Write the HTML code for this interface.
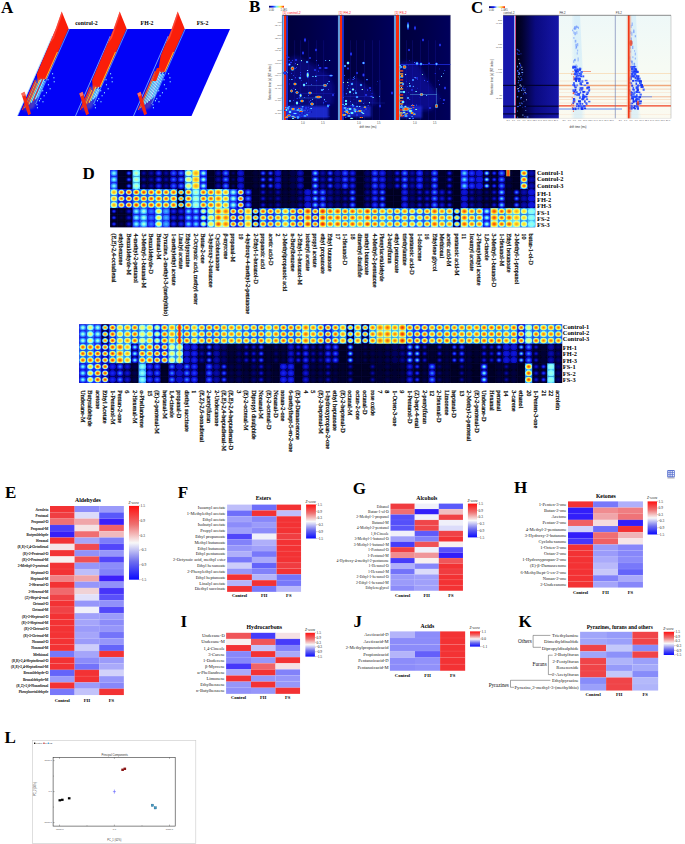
<!DOCTYPE html><html><head><meta charset="utf-8"><title>Figure</title><style>html,body{margin:0;padding:0;background:#fff;}body{width:685px;height:844px;overflow:hidden;}svg{display:block;}</style></head><body><svg width="685" height="844" viewBox="0 0 685 844"><defs><linearGradient id="zbar" x1="0" y1="0" x2="0" y2="1"><stop offset="0" stop-color="#ff1010"/><stop offset="0.25" stop-color="#ee7070"/><stop offset="0.5" stop-color="#f8f8f8"/><stop offset="0.75" stop-color="#7070ee"/><stop offset="1" stop-color="#0a0aff"/></linearGradient><linearGradient id="astreak" x1="0" y1="0" x2="1" y2="0"><stop offset="0" stop-color="#ff4010"/><stop offset="0.4" stop-color="#ffc830"/><stop offset="0.75" stop-color="#50d8ff"/><stop offset="1" stop-color="#3060ff"/></linearGradient><linearGradient id="cbj" x1="0" y1="0" x2="1" y2="0"><stop offset="0" stop-color="#000060"/><stop offset="0.25" stop-color="#1020ff"/><stop offset="0.5" stop-color="#70f0ff"/><stop offset="0.75" stop-color="#ffff40"/><stop offset="1" stop-color="#ff2000"/></linearGradient><linearGradient id="cbc" x1="0" y1="0" x2="1" y2="0"><stop offset="0" stop-color="#000060"/><stop offset="0.3" stop-color="#1020ff"/><stop offset="0.5" stop-color="#d0f8ff"/><stop offset="0.75" stop-color="#ffe060"/><stop offset="1" stop-color="#ff2000"/></linearGradient><radialGradient id="sr"><stop offset="0" stop-color="#ff1000"/><stop offset="0.4" stop-color="#ff9020"/><stop offset="0.75" stop-color="#40c0ff" stop-opacity="0.7"/><stop offset="1" stop-color="#40c0ff" stop-opacity="0"/></radialGradient><radialGradient id="sy"><stop offset="0" stop-color="#ffff60"/><stop offset="0.4" stop-color="#60f0ff"/><stop offset="0.75" stop-color="#2040ff" stop-opacity="0.7"/><stop offset="1" stop-color="#2040ff" stop-opacity="0"/></radialGradient><radialGradient id="sc"><stop offset="0" stop-color="#a0ffff"/><stop offset="0.4" stop-color="#40a0ff"/><stop offset="0.75" stop-color="#1020ff" stop-opacity="0.7"/><stop offset="1" stop-color="#1020ff" stop-opacity="0"/></radialGradient><radialGradient id="sb"><stop offset="0" stop-color="#4060ff"/><stop offset="0.4" stop-color="#2030e0"/><stop offset="0.75" stop-color="#0808a0" stop-opacity="0.7"/><stop offset="1" stop-color="#0808a0" stop-opacity="0"/></radialGradient><linearGradient id="bbg" x1="0" y1="0" x2="1" y2="0"><stop offset="0" stop-color="#00003a"/><stop offset="0.5" stop-color="#000048"/><stop offset="1" stop-color="#00005c"/></linearGradient><filter id="bl2" x="-20%" y="-20%" width="140%" height="140%"><feGaussianBlur stdDeviation="2.2"/></filter><filter id="bl1" x="-20%" y="-20%" width="140%" height="140%"><feGaussianBlur stdDeviation="0.9"/></filter><linearGradient id="c1bg" x1="0" y1="0" x2="1" y2="0"><stop offset="0" stop-color="#000012"/><stop offset="0.15" stop-color="#020230"/><stop offset="0.45" stop-color="#0a0a80"/><stop offset="1" stop-color="#1616a8"/></linearGradient><linearGradient id="c2bg" x1="0" y1="0" x2="0" y2="1"><stop offset="0" stop-color="#eef8f8"/><stop offset="0.5" stop-color="#f6fbf4"/><stop offset="1" stop-color="#fbfaf0"/></linearGradient><linearGradient id="cband" x1="0" y1="0" x2="1" y2="0"><stop offset="0" stop-color="#d8f0fa" stop-opacity="0"/><stop offset="0.3" stop-color="#c8e8fa"/><stop offset="0.7" stop-color="#c8e8fa"/><stop offset="1" stop-color="#d8f0fa" stop-opacity="0"/></linearGradient><radialGradient id="g0" cx="0.5" cy="0.5" r="0.5"><stop offset="0" stop-color="#92fff2"/><stop offset="0.3" stop-color="#64e6ff"/><stop offset="0.6" stop-color="#3499ff"/><stop offset="0.85" stop-color="#2567ff"/><stop offset="1.0" stop-color="#1a2cf9"/></radialGradient><radialGradient id="g1" cx="0.5" cy="0.5" r="0.5"><stop offset="0" stop-color="#ffa113"/><stop offset="0.34" stop-color="#ffd227"/><stop offset="0.64" stop-color="#ecfc78"/><stop offset="0.86" stop-color="#77f4ff"/><stop offset="1.0" stop-color="#379fff"/></radialGradient><radialGradient id="g2" cx="0.5" cy="0.5" r="0.5"><stop offset="0" stop-color="#1e3fff"/><stop offset="0.3" stop-color="#0e16dc"/><stop offset="0.6" stop-color="#000053"/><stop offset="0.85" stop-color="#000025"/><stop offset="1.0" stop-color="#00001c"/></radialGradient><radialGradient id="g3" cx="0.5" cy="0.5" r="0.5"><stop offset="0" stop-color="#000031"/><stop offset="0.3" stop-color="#00002d"/><stop offset="0.6" stop-color="#000028"/><stop offset="0.85" stop-color="#000025"/><stop offset="1.0" stop-color="#00001c"/></radialGradient><radialGradient id="g4" cx="0.5" cy="0.5" r="0.5"><stop offset="0" stop-color="#fb4501"/><stop offset="0.34" stop-color="#ffaa16"/><stop offset="0.64" stop-color="#ccffaf"/><stop offset="0.86" stop-color="#2567ff"/><stop offset="1.0" stop-color="#111be2"/></radialGradient><radialGradient id="g5" cx="0.5" cy="0.5" r="0.5"><stop offset="0" stop-color="#000051"/><stop offset="0.3" stop-color="#00003f"/><stop offset="0.6" stop-color="#00002d"/><stop offset="0.85" stop-color="#000025"/><stop offset="1.0" stop-color="#00001c"/></radialGradient><radialGradient id="g6" cx="0.5" cy="0.5" r="0.5"><stop offset="0" stop-color="#287aff"/><stop offset="0.3" stop-color="#1829f6"/><stop offset="0.6" stop-color="#010276"/><stop offset="0.85" stop-color="#000032"/><stop offset="1.0" stop-color="#00001c"/></radialGradient><radialGradient id="g7" cx="0.5" cy="0.5" r="0.5"><stop offset="0" stop-color="#f02500"/><stop offset="0.34" stop-color="#ff870a"/><stop offset="0.64" stop-color="#e2ff94"/><stop offset="0.86" stop-color="#2567ff"/><stop offset="1.0" stop-color="#111be2"/></radialGradient><radialGradient id="g8" cx="0.5" cy="0.5" r="0.5"><stop offset="0" stop-color="#0f17de"/><stop offset="0.3" stop-color="#090dba"/><stop offset="0.6" stop-color="#010274"/><stop offset="0.85" stop-color="#000055"/><stop offset="1.0" stop-color="#000027"/></radialGradient><radialGradient id="g9" cx="0.5" cy="0.5" r="0.5"><stop offset="0" stop-color="#d6ffa3"/><stop offset="0.3" stop-color="#b7ffc7"/><stop offset="0.6" stop-color="#8afffc"/><stop offset="0.85" stop-color="#77f4ff"/><stop offset="1.0" stop-color="#4bccff"/></radialGradient><radialGradient id="g10" cx="0.5" cy="0.5" r="0.5"><stop offset="0" stop-color="#f02500"/><stop offset="0.34" stop-color="#fe7407"/><stop offset="0.64" stop-color="#fbf951"/><stop offset="0.86" stop-color="#50d7ff"/><stop offset="1.0" stop-color="#2567ff"/></radialGradient><radialGradient id="g11" cx="0.5" cy="0.5" r="0.5"><stop offset="0" stop-color="#080cb3"/><stop offset="0.3" stop-color="#04068e"/><stop offset="0.6" stop-color="#00005b"/><stop offset="0.85" stop-color="#000045"/><stop offset="1.0" stop-color="#00001e"/></radialGradient><radialGradient id="g12" cx="0.5" cy="0.5" r="0.5"><stop offset="0" stop-color="#f53000"/><stop offset="0.34" stop-color="#ff830a"/><stop offset="0.64" stop-color="#f7fa5b"/><stop offset="0.86" stop-color="#50d7ff"/><stop offset="1.0" stop-color="#2567ff"/></radialGradient><radialGradient id="g13" cx="0.5" cy="0.5" r="0.5"><stop offset="0" stop-color="#caffb0"/><stop offset="0.3" stop-color="#8efff7"/><stop offset="0.6" stop-color="#4ed1ff"/><stop offset="0.85" stop-color="#379fff"/><stop offset="1.0" stop-color="#235cff"/></radialGradient><radialGradient id="g14" cx="0.5" cy="0.5" r="0.5"><stop offset="0" stop-color="#080cb5"/><stop offset="0.3" stop-color="#050796"/><stop offset="0.6" stop-color="#000068"/><stop offset="0.85" stop-color="#000055"/><stop offset="1.0" stop-color="#000027"/></radialGradient><radialGradient id="g15" cx="0.5" cy="0.5" r="0.5"><stop offset="0" stop-color="#2a83ff"/><stop offset="0.3" stop-color="#256aff"/><stop offset="0.6" stop-color="#1f45ff"/><stop offset="0.85" stop-color="#1c30ff"/><stop offset="1.0" stop-color="#0e16dd"/></radialGradient><radialGradient id="g16" cx="0.5" cy="0.5" r="0.5"><stop offset="0" stop-color="#1f46ff"/><stop offset="0.3" stop-color="#1625f1"/><stop offset="0.6" stop-color="#090db8"/><stop offset="0.85" stop-color="#030484"/><stop offset="1.0" stop-color="#000041"/></radialGradient><radialGradient id="g17" cx="0.5" cy="0.5" r="0.5"><stop offset="0" stop-color="#fb4501"/><stop offset="0.34" stop-color="#ff900d"/><stop offset="0.64" stop-color="#fef848"/><stop offset="0.86" stop-color="#77f4ff"/><stop offset="1.0" stop-color="#379fff"/></radialGradient><radialGradient id="g18" cx="0.5" cy="0.5" r="0.5"><stop offset="0" stop-color="#ffe839"/><stop offset="0.34" stop-color="#f6fa5d"/><stop offset="0.64" stop-color="#aeffd1"/><stop offset="0.86" stop-color="#50d7ff"/><stop offset="1.0" stop-color="#2567ff"/></radialGradient><radialGradient id="g19" cx="0.5" cy="0.5" r="0.5"><stop offset="0" stop-color="#fb4501"/><stop offset="0.34" stop-color="#ff9810"/><stop offset="0.64" stop-color="#f2fb69"/><stop offset="0.86" stop-color="#50d7ff"/><stop offset="1.0" stop-color="#2567ff"/></radialGradient><radialGradient id="g20" cx="0.5" cy="0.5" r="0.5"><stop offset="0" stop-color="#44bbff"/><stop offset="0.3" stop-color="#38a2ff"/><stop offset="0.6" stop-color="#287cff"/><stop offset="0.85" stop-color="#2567ff"/><stop offset="1.0" stop-color="#1a2cf9"/></radialGradient><radialGradient id="g21" cx="0.5" cy="0.5" r="0.5"><stop offset="0" stop-color="#2672ff"/><stop offset="0.3" stop-color="#1f41ff"/><stop offset="0.6" stop-color="#101ae1"/><stop offset="0.85" stop-color="#090ebc"/><stop offset="1.0" stop-color="#000069"/></radialGradient><radialGradient id="g22" cx="0.5" cy="0.5" r="0.5"><stop offset="0" stop-color="#fb4501"/><stop offset="0.34" stop-color="#ff950f"/><stop offset="0.64" stop-color="#f7fa5c"/><stop offset="0.86" stop-color="#60e2ff"/><stop offset="1.0" stop-color="#287dff"/></radialGradient><radialGradient id="g23" cx="0.5" cy="0.5" r="0.5"><stop offset="0" stop-color="#1829f5"/><stop offset="0.3" stop-color="#101ae2"/><stop offset="0.6" stop-color="#070bab"/><stop offset="0.85" stop-color="#030484"/><stop offset="1.0" stop-color="#000041"/></radialGradient><radialGradient id="g24" cx="0.5" cy="0.5" r="0.5"><stop offset="0" stop-color="#369cff"/><stop offset="0.3" stop-color="#235dff"/><stop offset="0.6" stop-color="#121ee6"/><stop offset="0.85" stop-color="#090ebc"/><stop offset="1.0" stop-color="#000069"/></radialGradient><radialGradient id="g25" cx="0.5" cy="0.5" r="0.5"><stop offset="0" stop-color="#fc5804"/><stop offset="0.34" stop-color="#ffd82c"/><stop offset="0.64" stop-color="#4ed1ff"/><stop offset="0.86" stop-color="#000055"/><stop offset="1.0" stop-color="#00001c"/></radialGradient><radialGradient id="g26" cx="0.5" cy="0.5" r="0.5"><stop offset="0" stop-color="#f6fa5d"/><stop offset="0.34" stop-color="#eafd7f"/><stop offset="0.64" stop-color="#b7ffc7"/><stop offset="0.86" stop-color="#77f4ff"/><stop offset="1.0" stop-color="#379fff"/></radialGradient><radialGradient id="g27" cx="0.5" cy="0.5" r="0.5"><stop offset="0" stop-color="#68e8ff"/><stop offset="0.3" stop-color="#44bcff"/><stop offset="0.6" stop-color="#2462ff"/><stop offset="0.85" stop-color="#1c30ff"/><stop offset="1.0" stop-color="#0e16dd"/></radialGradient><radialGradient id="g28" cx="0.5" cy="0.5" r="0.5"><stop offset="0" stop-color="#ffa113"/><stop offset="0.34" stop-color="#ffbc1d"/><stop offset="0.64" stop-color="#ffe133"/><stop offset="0.86" stop-color="#f6fa5d"/><stop offset="1.0" stop-color="#a9ffd8"/></radialGradient><radialGradient id="g29" cx="0.5" cy="0.5" r="0.5"><stop offset="0" stop-color="#bfffbd"/><stop offset="0.3" stop-color="#6fedff"/><stop offset="0.6" stop-color="#287aff"/><stop offset="0.85" stop-color="#1c30ff"/><stop offset="1.0" stop-color="#0e16dd"/></radialGradient><radialGradient id="g30" cx="0.5" cy="0.5" r="0.5"><stop offset="0" stop-color="#f6fa5d"/><stop offset="0.34" stop-color="#caffb0"/><stop offset="0.64" stop-color="#4ed4ff"/><stop offset="0.86" stop-color="#1c30ff"/><stop offset="1.0" stop-color="#080bae"/></radialGradient><radialGradient id="g31" cx="0.5" cy="0.5" r="0.5"><stop offset="0" stop-color="#ffe839"/><stop offset="0.34" stop-color="#fbf951"/><stop offset="0.64" stop-color="#cfffab"/><stop offset="0.86" stop-color="#77f4ff"/><stop offset="1.0" stop-color="#379fff"/></radialGradient><radialGradient id="g32" cx="0.5" cy="0.5" r="0.5"><stop offset="0" stop-color="#080db6"/><stop offset="0.3" stop-color="#06099d"/><stop offset="0.6" stop-color="#020278"/><stop offset="0.85" stop-color="#000065"/><stop offset="1.0" stop-color="#00002f"/></radialGradient><radialGradient id="g33" cx="0.5" cy="0.5" r="0.5"><stop offset="0" stop-color="#fe7407"/><stop offset="0.34" stop-color="#ffa113"/><stop offset="0.64" stop-color="#ffe537"/><stop offset="0.86" stop-color="#e1ff96"/><stop offset="1.0" stop-color="#77f4ff"/></radialGradient><radialGradient id="g34" cx="0.5" cy="0.5" r="0.5"><stop offset="0" stop-color="#fb4501"/><stop offset="0.34" stop-color="#fe7408"/><stop offset="0.64" stop-color="#ffc921"/><stop offset="0.86" stop-color="#f6fa5d"/><stop offset="1.0" stop-color="#a9ffd8"/></radialGradient><radialGradient id="g35" cx="0.5" cy="0.5" r="0.5"><stop offset="0" stop-color="#fe7407"/><stop offset="0.34" stop-color="#ff9810"/><stop offset="0.64" stop-color="#ffd62a"/><stop offset="0.86" stop-color="#f6fa5d"/><stop offset="1.0" stop-color="#a9ffd8"/></radialGradient><radialGradient id="g36" cx="0.5" cy="0.5" r="0.5"><stop offset="0" stop-color="#02037c"/><stop offset="0.3" stop-color="#00005c"/><stop offset="0.6" stop-color="#000035"/><stop offset="0.85" stop-color="#000029"/><stop offset="1.0" stop-color="#00001c"/></radialGradient><radialGradient id="g37" cx="0.5" cy="0.5" r="0.5"><stop offset="0" stop-color="#c5ffb7"/><stop offset="0.3" stop-color="#7df8ff"/><stop offset="0.6" stop-color="#3aa6ff"/><stop offset="0.85" stop-color="#2567ff"/><stop offset="1.0" stop-color="#1a2cf9"/></radialGradient><radialGradient id="g38" cx="0.5" cy="0.5" r="0.5"><stop offset="0" stop-color="#1019e0"/><stop offset="0.3" stop-color="#0c12d7"/><stop offset="0.6" stop-color="#090db8"/><stop offset="0.85" stop-color="#070aa6"/><stop offset="1.0" stop-color="#000059"/></radialGradient><radialGradient id="g39" cx="0.5" cy="0.5" r="0.5"><stop offset="0" stop-color="#fb4501"/><stop offset="0.34" stop-color="#ffb31a"/><stop offset="0.64" stop-color="#abffd5"/><stop offset="0.86" stop-color="#1c30ff"/><stop offset="1.0" stop-color="#080bae"/></radialGradient><radialGradient id="g40" cx="0.5" cy="0.5" r="0.5"><stop offset="0" stop-color="#00002d"/><stop offset="0.3" stop-color="#00002a"/><stop offset="0.6" stop-color="#000027"/><stop offset="0.85" stop-color="#000025"/><stop offset="1.0" stop-color="#00001c"/></radialGradient><radialGradient id="g41" cx="0.5" cy="0.5" r="0.5"><stop offset="0" stop-color="#ffa113"/><stop offset="0.34" stop-color="#ffc420"/><stop offset="0.64" stop-color="#fff040"/><stop offset="0.86" stop-color="#e1ff96"/><stop offset="1.0" stop-color="#77f4ff"/></radialGradient><radialGradient id="g42" cx="0.5" cy="0.5" r="0.5"><stop offset="0" stop-color="#000044"/><stop offset="0.3" stop-color="#00003d"/><stop offset="0.6" stop-color="#000035"/><stop offset="0.85" stop-color="#000032"/><stop offset="1.0" stop-color="#00001c"/></radialGradient><radialGradient id="g43" cx="0.5" cy="0.5" r="0.5"><stop offset="0" stop-color="#000031"/><stop offset="0.3" stop-color="#00002f"/><stop offset="0.6" stop-color="#00002b"/><stop offset="0.85" stop-color="#000029"/><stop offset="1.0" stop-color="#00001c"/></radialGradient><radialGradient id="g44" cx="0.5" cy="0.5" r="0.5"><stop offset="0" stop-color="#fd6b06"/><stop offset="0.34" stop-color="#ffd82c"/><stop offset="0.64" stop-color="#6aeaff"/><stop offset="0.86" stop-color="#090ebc"/><stop offset="1.0" stop-color="#000041"/></radialGradient><radialGradient id="g45" cx="0.5" cy="0.5" r="0.5"><stop offset="0" stop-color="#287cff"/><stop offset="0.3" stop-color="#1a2dfb"/><stop offset="0.6" stop-color="#04068f"/><stop offset="0.85" stop-color="#000045"/><stop offset="1.0" stop-color="#00001e"/></radialGradient><radialGradient id="g46" cx="0.5" cy="0.5" r="0.5"><stop offset="0" stop-color="#0f17de"/><stop offset="0.3" stop-color="#080cb2"/><stop offset="0.6" stop-color="#000065"/><stop offset="0.85" stop-color="#000045"/><stop offset="1.0" stop-color="#00001e"/></radialGradient><radialGradient id="g47" cx="0.5" cy="0.5" r="0.5"><stop offset="0" stop-color="#256bff"/><stop offset="0.3" stop-color="#1828f5"/><stop offset="0.6" stop-color="#04058a"/><stop offset="0.85" stop-color="#000045"/><stop offset="1.0" stop-color="#00001e"/></radialGradient><radialGradient id="g48" cx="0.5" cy="0.5" r="0.5"><stop offset="0" stop-color="#02037e"/><stop offset="0.3" stop-color="#000062"/><stop offset="0.6" stop-color="#000040"/><stop offset="0.85" stop-color="#000032"/><stop offset="1.0" stop-color="#00001c"/></radialGradient><radialGradient id="g49" cx="0.5" cy="0.5" r="0.5"><stop offset="0" stop-color="#fb4501"/><stop offset="0.34" stop-color="#ffa113"/><stop offset="0.64" stop-color="#e5fe8b"/><stop offset="0.86" stop-color="#379fff"/><stop offset="1.0" stop-color="#1c30ff"/></radialGradient><radialGradient id="g50" cx="0.5" cy="0.5" r="0.5"><stop offset="0" stop-color="#fe7407"/><stop offset="0.34" stop-color="#ffbc1d"/><stop offset="0.64" stop-color="#e9fd81"/><stop offset="0.86" stop-color="#50d7ff"/><stop offset="1.0" stop-color="#2567ff"/></radialGradient><radialGradient id="g51" cx="0.5" cy="0.5" r="0.5"><stop offset="0" stop-color="#000054"/><stop offset="0.3" stop-color="#000050"/><stop offset="0.6" stop-color="#000049"/><stop offset="0.85" stop-color="#000045"/><stop offset="1.0" stop-color="#00001e"/></radialGradient><radialGradient id="g52" cx="0.5" cy="0.5" r="0.5"><stop offset="0" stop-color="#000054"/><stop offset="0.3" stop-color="#00004d"/><stop offset="0.6" stop-color="#000043"/><stop offset="0.85" stop-color="#00003d"/><stop offset="1.0" stop-color="#00001c"/></radialGradient><radialGradient id="g53" cx="0.5" cy="0.5" r="0.5"><stop offset="0" stop-color="#0b10cd"/><stop offset="0.3" stop-color="#090db7"/><stop offset="0.6" stop-color="#050797"/><stop offset="0.85" stop-color="#030484"/><stop offset="1.0" stop-color="#000041"/></radialGradient><radialGradient id="g54" cx="0.5" cy="0.5" r="0.5"><stop offset="0" stop-color="#0609a0"/><stop offset="0.3" stop-color="#030587"/><stop offset="0.6" stop-color="#000064"/><stop offset="0.85" stop-color="#000055"/><stop offset="1.0" stop-color="#000027"/></radialGradient><radialGradient id="g55" cx="0.5" cy="0.5" r="0.5"><stop offset="0" stop-color="#101ae1"/><stop offset="0.3" stop-color="#0d15db"/><stop offset="0.6" stop-color="#0a10c8"/><stop offset="0.85" stop-color="#090ebc"/><stop offset="1.0" stop-color="#000069"/></radialGradient><radialGradient id="g56" cx="0.5" cy="0.5" r="0.5"><stop offset="0" stop-color="#f53000"/><stop offset="0.34" stop-color="#fc5e05"/><stop offset="0.64" stop-color="#ffbe1d"/><stop offset="0.86" stop-color="#f6fa5d"/><stop offset="1.0" stop-color="#a9ffd8"/></radialGradient><radialGradient id="g57" cx="0.5" cy="0.5" r="0.5"><stop offset="0" stop-color="#68e8ff"/><stop offset="0.3" stop-color="#369eff"/><stop offset="0.6" stop-color="#1726f2"/><stop offset="0.85" stop-color="#090ebc"/><stop offset="1.0" stop-color="#000069"/></radialGradient><radialGradient id="g58" cx="0.5" cy="0.5" r="0.5"><stop offset="0" stop-color="#f02500"/><stop offset="0.34" stop-color="#fb4f03"/><stop offset="0.64" stop-color="#ffb61b"/><stop offset="0.86" stop-color="#f6fa5d"/><stop offset="1.0" stop-color="#a9ffd8"/></radialGradient><radialGradient id="g59" cx="0.5" cy="0.5" r="0.5"><stop offset="0" stop-color="#266eff"/><stop offset="0.3" stop-color="#1a2dfb"/><stop offset="0.6" stop-color="#070bac"/><stop offset="0.85" stop-color="#000065"/><stop offset="1.0" stop-color="#00002f"/></radialGradient><radialGradient id="g60" cx="0.5" cy="0.5" r="0.5"><stop offset="0" stop-color="#0609a1"/><stop offset="0.3" stop-color="#04068f"/><stop offset="0.6" stop-color="#010273"/><stop offset="0.85" stop-color="#000065"/><stop offset="1.0" stop-color="#00002f"/></radialGradient><radialGradient id="g61" cx="0.5" cy="0.5" r="0.5"><stop offset="0" stop-color="#fb4501"/><stop offset="0.34" stop-color="#ff870a"/><stop offset="0.64" stop-color="#ffe93a"/><stop offset="0.86" stop-color="#a9ffd8"/><stop offset="1.0" stop-color="#50d7ff"/></radialGradient><radialGradient id="g62" cx="0.5" cy="0.5" r="0.5"><stop offset="0" stop-color="#090db8"/><stop offset="0.3" stop-color="#070aa9"/><stop offset="0.6" stop-color="#040791"/><stop offset="0.85" stop-color="#030484"/><stop offset="1.0" stop-color="#000041"/></radialGradient><radialGradient id="g63" cx="0.5" cy="0.5" r="0.5"><stop offset="0" stop-color="#030481"/><stop offset="0.3" stop-color="#010172"/><stop offset="0.6" stop-color="#00005e"/><stop offset="0.85" stop-color="#000055"/><stop offset="1.0" stop-color="#000027"/></radialGradient><radialGradient id="g64" cx="0.5" cy="0.5" r="0.5"><stop offset="0" stop-color="#fb4501"/><stop offset="0.34" stop-color="#fe7e09"/><stop offset="0.64" stop-color="#ffda2d"/><stop offset="0.86" stop-color="#e1ff96"/><stop offset="1.0" stop-color="#77f4ff"/></radialGradient><radialGradient id="g65" cx="0.5" cy="0.5" r="0.5"><stop offset="0" stop-color="#3599ff"/><stop offset="0.3" stop-color="#214eff"/><stop offset="0.6" stop-color="#0b11d2"/><stop offset="0.85" stop-color="#030484"/><stop offset="1.0" stop-color="#000041"/></radialGradient><radialGradient id="g66" cx="0.5" cy="0.5" r="0.5"><stop offset="0" stop-color="#000029"/><stop offset="0.3" stop-color="#000027"/><stop offset="0.6" stop-color="#000026"/><stop offset="0.85" stop-color="#000025"/><stop offset="1.0" stop-color="#00001c"/></radialGradient><radialGradient id="g67" cx="0.5" cy="0.5" r="0.5"><stop offset="0" stop-color="#fe7407"/><stop offset="0.34" stop-color="#ffaa16"/><stop offset="0.64" stop-color="#fff543"/><stop offset="0.86" stop-color="#a9ffd8"/><stop offset="1.0" stop-color="#50d7ff"/></radialGradient><radialGradient id="g68" cx="0.5" cy="0.5" r="0.5"><stop offset="0" stop-color="#f53000"/><stop offset="0.34" stop-color="#fd6706"/><stop offset="0.64" stop-color="#ffd328"/><stop offset="0.86" stop-color="#e1ff96"/><stop offset="1.0" stop-color="#77f4ff"/></radialGradient><radialGradient id="g69" cx="0.5" cy="0.5" r="0.5"><stop offset="0" stop-color="#2048ff"/><stop offset="0.3" stop-color="#1829f5"/><stop offset="0.6" stop-color="#0b11d1"/><stop offset="0.85" stop-color="#070aa6"/><stop offset="1.0" stop-color="#000059"/></radialGradient><radialGradient id="g70" cx="0.5" cy="0.5" r="0.5"><stop offset="0" stop-color="#1829f6"/><stop offset="0.3" stop-color="#121ee6"/><stop offset="0.6" stop-color="#0a0fc4"/><stop offset="0.85" stop-color="#070aa6"/><stop offset="1.0" stop-color="#000059"/></radialGradient><radialGradient id="g71" cx="0.5" cy="0.5" r="0.5"><stop offset="0" stop-color="#ff870a"/><stop offset="0.34" stop-color="#ffc11f"/><stop offset="0.64" stop-color="#f2fb6a"/><stop offset="0.86" stop-color="#77f4ff"/><stop offset="1.0" stop-color="#379fff"/></radialGradient><radialGradient id="g72" cx="0.5" cy="0.5" r="0.5"><stop offset="0" stop-color="#000063"/><stop offset="0.3" stop-color="#00005a"/><stop offset="0.6" stop-color="#00004c"/><stop offset="0.85" stop-color="#000045"/><stop offset="1.0" stop-color="#00001e"/></radialGradient><radialGradient id="g73" cx="0.5" cy="0.5" r="0.5"><stop offset="0" stop-color="#000024"/><stop offset="0.3" stop-color="#000023"/><stop offset="0.6" stop-color="#000021"/><stop offset="0.85" stop-color="#000020"/><stop offset="1.0" stop-color="#00001c"/></radialGradient><radialGradient id="g74" cx="0.5" cy="0.5" r="0.5"><stop offset="0" stop-color="#fe7407"/><stop offset="0.34" stop-color="#ffb31a"/><stop offset="0.64" stop-color="#f5fa60"/><stop offset="0.86" stop-color="#77f4ff"/><stop offset="1.0" stop-color="#379fff"/></radialGradient><radialGradient id="g75" cx="0.5" cy="0.5" r="0.5"><stop offset="0" stop-color="#1727f4"/><stop offset="0.3" stop-color="#0d14da"/><stop offset="0.6" stop-color="#030481"/><stop offset="0.85" stop-color="#000055"/><stop offset="1.0" stop-color="#000027"/></radialGradient><radialGradient id="g76" cx="0.5" cy="0.5" r="0.5"><stop offset="0" stop-color="#ffa113"/><stop offset="0.34" stop-color="#ffd82c"/><stop offset="0.64" stop-color="#deff9a"/><stop offset="0.86" stop-color="#50d7ff"/><stop offset="1.0" stop-color="#2567ff"/></radialGradient><radialGradient id="g77" cx="0.5" cy="0.5" r="0.5"><stop offset="0" stop-color="#2049ff"/><stop offset="0.3" stop-color="#192bf9"/><stop offset="0.6" stop-color="#0e15dc"/><stop offset="0.85" stop-color="#090ebc"/><stop offset="1.0" stop-color="#000069"/></radialGradient><radialGradient id="g78" cx="0.5" cy="0.5" r="0.5"><stop offset="0" stop-color="#020480"/><stop offset="0.3" stop-color="#00006a"/><stop offset="0.6" stop-color="#000052"/><stop offset="0.85" stop-color="#000045"/><stop offset="1.0" stop-color="#00001e"/></radialGradient><radialGradient id="g79" cx="0.5" cy="0.5" r="0.5"><stop offset="0" stop-color="#fc6205"/><stop offset="0.34" stop-color="#ffae18"/><stop offset="0.64" stop-color="#ecfc78"/><stop offset="0.86" stop-color="#50d7ff"/><stop offset="1.0" stop-color="#2567ff"/></radialGradient><radialGradient id="g80" cx="0.5" cy="0.5" r="0.5"><stop offset="0" stop-color="#00002d"/><stop offset="0.3" stop-color="#00002c"/><stop offset="0.6" stop-color="#00002a"/><stop offset="0.85" stop-color="#000029"/><stop offset="1.0" stop-color="#00001c"/></radialGradient><radialGradient id="g81" cx="0.5" cy="0.5" r="0.5"><stop offset="0" stop-color="#0f18df"/><stop offset="0.3" stop-color="#0a0ec1"/><stop offset="0.6" stop-color="#030585"/><stop offset="0.85" stop-color="#000065"/><stop offset="1.0" stop-color="#00002f"/></radialGradient><radialGradient id="g82" cx="0.5" cy="0.5" r="0.5"><stop offset="0" stop-color="#1421ea"/><stop offset="0.3" stop-color="#0a10c8"/><stop offset="0.6" stop-color="#00006b"/><stop offset="0.85" stop-color="#000045"/><stop offset="1.0" stop-color="#00001e"/></radialGradient><radialGradient id="g83" cx="0.5" cy="0.5" r="0.5"><stop offset="0" stop-color="#ffc420"/><stop offset="0.34" stop-color="#f6fa5d"/><stop offset="0.64" stop-color="#4bcdff"/><stop offset="0.86" stop-color="#090ebc"/><stop offset="1.0" stop-color="#000041"/></radialGradient><radialGradient id="g84" cx="0.5" cy="0.5" r="0.5"><stop offset="0" stop-color="#fc6205"/><stop offset="0.34" stop-color="#ffa515"/><stop offset="0.64" stop-color="#f9f957"/><stop offset="0.86" stop-color="#77f4ff"/><stop offset="1.0" stop-color="#379fff"/></radialGradient><radialGradient id="g85" cx="0.5" cy="0.5" r="0.5"><stop offset="0" stop-color="#101ae2"/><stop offset="0.3" stop-color="#0f17de"/><stop offset="0.6" stop-color="#0c13d8"/><stop offset="0.85" stop-color="#0b11d2"/><stop offset="1.0" stop-color="#02047f"/></radialGradient><radialGradient id="g86" cx="0.5" cy="0.5" r="0.5"><stop offset="0" stop-color="#9affe9"/><stop offset="0.3" stop-color="#3caaff"/><stop offset="0.6" stop-color="#0a10c9"/><stop offset="0.85" stop-color="#000045"/><stop offset="1.0" stop-color="#00001e"/></radialGradient><radialGradient id="g87" cx="0.5" cy="0.5" r="0.5"><stop offset="0" stop-color="#1f40ff"/><stop offset="0.3" stop-color="#1019e1"/><stop offset="0.6" stop-color="#000065"/><stop offset="0.85" stop-color="#000032"/><stop offset="1.0" stop-color="#00001c"/></radialGradient><radialGradient id="g88" cx="0.5" cy="0.5" r="0.5"><stop offset="0" stop-color="#000052"/><stop offset="0.3" stop-color="#000047"/><stop offset="0.6" stop-color="#000037"/><stop offset="0.85" stop-color="#000032"/><stop offset="1.0" stop-color="#00001c"/></radialGradient><radialGradient id="g89" cx="0.5" cy="0.5" r="0.5"><stop offset="0" stop-color="#3396ff"/><stop offset="0.3" stop-color="#1e3fff"/><stop offset="0.6" stop-color="#070aa8"/><stop offset="0.85" stop-color="#000055"/><stop offset="1.0" stop-color="#000027"/></radialGradient><radialGradient id="g90" cx="0.5" cy="0.5" r="0.5"><stop offset="0" stop-color="#ffcd23"/><stop offset="0.34" stop-color="#ffe839"/><stop offset="0.64" stop-color="#e3fe90"/><stop offset="0.86" stop-color="#77f4ff"/><stop offset="1.0" stop-color="#379fff"/></radialGradient><radialGradient id="g91" cx="0.5" cy="0.5" r="0.5"><stop offset="0" stop-color="#a3ffde"/><stop offset="0.3" stop-color="#94fff0"/><stop offset="0.6" stop-color="#80faff"/><stop offset="0.85" stop-color="#77f4ff"/><stop offset="1.0" stop-color="#4bccff"/></radialGradient><radialGradient id="g92" cx="0.5" cy="0.5" r="0.5"><stop offset="0" stop-color="#8dfff8"/><stop offset="0.3" stop-color="#56dbff"/><stop offset="0.6" stop-color="#266eff"/><stop offset="0.85" stop-color="#1c30ff"/><stop offset="1.0" stop-color="#0e16dd"/></radialGradient><radialGradient id="g93" cx="0.5" cy="0.5" r="0.5"><stop offset="0" stop-color="#f6fa5d"/><stop offset="0.34" stop-color="#e5fe8b"/><stop offset="0.64" stop-color="#97ffed"/><stop offset="0.86" stop-color="#50d7ff"/><stop offset="1.0" stop-color="#2567ff"/></radialGradient><radialGradient id="g94" cx="0.5" cy="0.5" r="0.5"><stop offset="0" stop-color="#ffcd23"/><stop offset="0.34" stop-color="#fff342"/><stop offset="0.64" stop-color="#a5ffdc"/><stop offset="0.86" stop-color="#379fff"/><stop offset="1.0" stop-color="#1c30ff"/></radialGradient><radialGradient id="g95" cx="0.5" cy="0.5" r="0.5"><stop offset="0" stop-color="#f53000"/><stop offset="0.34" stop-color="#ff8c0c"/><stop offset="0.64" stop-color="#ebfd7c"/><stop offset="0.86" stop-color="#379fff"/><stop offset="1.0" stop-color="#1c30ff"/></radialGradient><radialGradient id="g96" cx="0.5" cy="0.5" r="0.5"><stop offset="0" stop-color="#f53000"/><stop offset="0.34" stop-color="#ff9e12"/><stop offset="0.64" stop-color="#b9ffc4"/><stop offset="0.86" stop-color="#1c30ff"/><stop offset="1.0" stop-color="#080bae"/></radialGradient><radialGradient id="g97" cx="0.5" cy="0.5" r="0.5"><stop offset="0" stop-color="#192af6"/><stop offset="0.3" stop-color="#1320ea"/><stop offset="0.6" stop-color="#0c12d5"/><stop offset="0.85" stop-color="#090ebc"/><stop offset="1.0" stop-color="#000069"/></radialGradient><radialGradient id="g98" cx="0.5" cy="0.5" r="0.5"><stop offset="0" stop-color="#0f18e0"/><stop offset="0.3" stop-color="#0b10cd"/><stop offset="0.6" stop-color="#06099e"/><stop offset="0.85" stop-color="#030484"/><stop offset="1.0" stop-color="#000041"/></radialGradient><radialGradient id="g99" cx="0.5" cy="0.5" r="0.5"><stop offset="0" stop-color="#8dfff8"/><stop offset="0.3" stop-color="#46c1ff"/><stop offset="0.6" stop-color="#192bf9"/><stop offset="0.85" stop-color="#090ebc"/><stop offset="1.0" stop-color="#000069"/></radialGradient><radialGradient id="g100" cx="0.5" cy="0.5" r="0.5"><stop offset="0" stop-color="#000053"/><stop offset="0.3" stop-color="#00004a"/><stop offset="0.6" stop-color="#00003d"/><stop offset="0.85" stop-color="#000036"/><stop offset="1.0" stop-color="#00001c"/></radialGradient><radialGradient id="g101" cx="0.5" cy="0.5" r="0.5"><stop offset="0" stop-color="#9effe5"/><stop offset="0.3" stop-color="#82fbff"/><stop offset="0.6" stop-color="#62e4ff"/><stop offset="0.85" stop-color="#50d7ff"/><stop offset="1.0" stop-color="#3294ff"/></radialGradient><radialGradient id="g102" cx="0.5" cy="0.5" r="0.5"><stop offset="0" stop-color="#f6fa5d"/><stop offset="0.34" stop-color="#d6ffa3"/><stop offset="0.64" stop-color="#64e6ff"/><stop offset="0.86" stop-color="#2567ff"/><stop offset="1.0" stop-color="#111be2"/></radialGradient><radialGradient id="g103" cx="0.5" cy="0.5" r="0.5"><stop offset="0" stop-color="#ff870a"/><stop offset="0.34" stop-color="#ffb81c"/><stop offset="0.64" stop-color="#fef849"/><stop offset="0.86" stop-color="#a9ffd8"/><stop offset="1.0" stop-color="#50d7ff"/></radialGradient><radialGradient id="g104" cx="0.5" cy="0.5" r="0.5"><stop offset="0" stop-color="#f53000"/><stop offset="0.34" stop-color="#fe7a08"/><stop offset="0.64" stop-color="#fff241"/><stop offset="0.86" stop-color="#77f4ff"/><stop offset="1.0" stop-color="#379fff"/></radialGradient><radialGradient id="g105" cx="0.5" cy="0.5" r="0.5"><stop offset="0" stop-color="#0b11d0"/><stop offset="0.3" stop-color="#0b10ca"/><stop offset="0.6" stop-color="#0a0ec1"/><stop offset="0.85" stop-color="#090ebc"/><stop offset="1.0" stop-color="#000069"/></radialGradient><radialGradient id="g106" cx="0.5" cy="0.5" r="0.5"><stop offset="0" stop-color="#256cff"/><stop offset="0.3" stop-color="#192bf8"/><stop offset="0.6" stop-color="#05089b"/><stop offset="0.85" stop-color="#000055"/><stop offset="1.0" stop-color="#000027"/></radialGradient><radialGradient id="g107" cx="0.5" cy="0.5" r="0.5"><stop offset="0" stop-color="#02037e"/><stop offset="0.3" stop-color="#000064"/><stop offset="0.6" stop-color="#000046"/><stop offset="0.85" stop-color="#000036"/><stop offset="1.0" stop-color="#00001c"/></radialGradient><radialGradient id="g108" cx="0.5" cy="0.5" r="0.5"><stop offset="0" stop-color="#000035"/><stop offset="0.3" stop-color="#000031"/><stop offset="0.6" stop-color="#00002c"/><stop offset="0.85" stop-color="#000029"/><stop offset="1.0" stop-color="#00001c"/></radialGradient><radialGradient id="g109" cx="0.5" cy="0.5" r="0.5"><stop offset="0" stop-color="#1727f3"/><stop offset="0.3" stop-color="#0c12d6"/><stop offset="0.6" stop-color="#010170"/><stop offset="0.85" stop-color="#000045"/><stop offset="1.0" stop-color="#00001e"/></radialGradient><radialGradient id="g110" cx="0.5" cy="0.5" r="0.5"><stop offset="0" stop-color="#fc6205"/><stop offset="0.34" stop-color="#ff930e"/><stop offset="0.64" stop-color="#ffe133"/><stop offset="0.86" stop-color="#e1ff96"/><stop offset="1.0" stop-color="#77f4ff"/></radialGradient><radialGradient id="g111" cx="0.5" cy="0.5" r="0.5"><stop offset="0" stop-color="#000062"/><stop offset="0.3" stop-color="#000054"/><stop offset="0.6" stop-color="#000040"/><stop offset="0.85" stop-color="#000036"/><stop offset="1.0" stop-color="#00001c"/></radialGradient><radialGradient id="g112" cx="0.5" cy="0.5" r="0.5"><stop offset="0" stop-color="#0a10c8"/><stop offset="0.3" stop-color="#06089d"/><stop offset="0.6" stop-color="#00005f"/><stop offset="0.85" stop-color="#000045"/><stop offset="1.0" stop-color="#00001e"/></radialGradient><radialGradient id="g113" cx="0.5" cy="0.5" r="0.5"><stop offset="0" stop-color="#266fff"/><stop offset="0.3" stop-color="#1c31ff"/><stop offset="0.6" stop-color="#0a0fc5"/><stop offset="0.85" stop-color="#030484"/><stop offset="1.0" stop-color="#000041"/></radialGradient><radialGradient id="g114" cx="0.5" cy="0.5" r="0.5"><stop offset="0" stop-color="#ff9810"/><stop offset="0.34" stop-color="#ffed3d"/><stop offset="0.64" stop-color="#59deff"/><stop offset="0.86" stop-color="#090ebc"/><stop offset="1.0" stop-color="#000041"/></radialGradient><radialGradient id="g115" cx="0.5" cy="0.5" r="0.5"><stop offset="0" stop-color="#6feeff"/><stop offset="0.3" stop-color="#2e8aff"/><stop offset="0.6" stop-color="#0a10c9"/><stop offset="0.85" stop-color="#000055"/><stop offset="1.0" stop-color="#000027"/></radialGradient><radialGradient id="g116" cx="0.5" cy="0.5" r="0.5"><stop offset="0" stop-color="#080cb2"/><stop offset="0.3" stop-color="#030587"/><stop offset="0.6" stop-color="#00004f"/><stop offset="0.85" stop-color="#000036"/><stop offset="1.0" stop-color="#00001c"/></radialGradient><radialGradient id="g117" cx="0.5" cy="0.5" r="0.5"><stop offset="0" stop-color="#000061"/><stop offset="0.3" stop-color="#00004f"/><stop offset="0.6" stop-color="#000035"/><stop offset="0.85" stop-color="#00002d"/><stop offset="1.0" stop-color="#00001c"/></radialGradient><radialGradient id="g118" cx="0.5" cy="0.5" r="0.5"><stop offset="0" stop-color="#000044"/><stop offset="0.3" stop-color="#000040"/><stop offset="0.6" stop-color="#000039"/><stop offset="0.85" stop-color="#000036"/><stop offset="1.0" stop-color="#00001c"/></radialGradient><radialGradient id="g119" cx="0.5" cy="0.5" r="0.5"><stop offset="0" stop-color="#000036"/><stop offset="0.3" stop-color="#000034"/><stop offset="0.6" stop-color="#000033"/><stop offset="0.85" stop-color="#000032"/><stop offset="1.0" stop-color="#00001c"/></radialGradient><radialGradient id="g120" cx="0.5" cy="0.5" r="0.5"><stop offset="0" stop-color="#fc6205"/><stop offset="0.34" stop-color="#ff8b0b"/><stop offset="0.64" stop-color="#ffd126"/><stop offset="0.86" stop-color="#f6fa5d"/><stop offset="1.0" stop-color="#a9ffd8"/></radialGradient><radialGradient id="g121" cx="0.5" cy="0.5" r="0.5"><stop offset="0" stop-color="#000062"/><stop offset="0.3" stop-color="#000057"/><stop offset="0.6" stop-color="#000046"/><stop offset="0.85" stop-color="#00003d"/><stop offset="1.0" stop-color="#00001c"/></radialGradient><radialGradient id="g122" cx="0.5" cy="0.5" r="0.5"><stop offset="0" stop-color="#000064"/><stop offset="0.3" stop-color="#000060"/><stop offset="0.6" stop-color="#000059"/><stop offset="0.85" stop-color="#000055"/><stop offset="1.0" stop-color="#000027"/></radialGradient><radialGradient id="g123" cx="0.5" cy="0.5" r="0.5"><stop offset="0" stop-color="#6cebff"/><stop offset="0.3" stop-color="#3294ff"/><stop offset="0.6" stop-color="#101ae2"/><stop offset="0.85" stop-color="#030484"/><stop offset="1.0" stop-color="#000041"/></radialGradient><radialGradient id="g124" cx="0.5" cy="0.5" r="0.5"><stop offset="0" stop-color="#1f41ff"/><stop offset="0.3" stop-color="#111be3"/><stop offset="0.6" stop-color="#00016c"/><stop offset="0.85" stop-color="#000036"/><stop offset="1.0" stop-color="#00001c"/></radialGradient><radialGradient id="g125" cx="0.5" cy="0.5" r="0.5"><stop offset="0" stop-color="#0e17dd"/><stop offset="0.3" stop-color="#070bab"/><stop offset="0.6" stop-color="#000059"/><stop offset="0.85" stop-color="#000036"/><stop offset="1.0" stop-color="#00001c"/></radialGradient><radialGradient id="g126" cx="0.5" cy="0.5" r="0.5"><stop offset="0" stop-color="#000035"/><stop offset="0.3" stop-color="#000033"/><stop offset="0.6" stop-color="#00002f"/><stop offset="0.85" stop-color="#00002d"/><stop offset="1.0" stop-color="#00001c"/></radialGradient><radialGradient id="g127" cx="0.5" cy="0.5" r="0.5"><stop offset="0" stop-color="#256aff"/><stop offset="0.3" stop-color="#1625f0"/><stop offset="0.6" stop-color="#010171"/><stop offset="0.85" stop-color="#000032"/><stop offset="1.0" stop-color="#00001c"/></radialGradient><radialGradient id="g128" cx="0.5" cy="0.5" r="0.5"><stop offset="0" stop-color="#080cb1"/><stop offset="0.3" stop-color="#030483"/><stop offset="0.6" stop-color="#000049"/><stop offset="0.85" stop-color="#000032"/><stop offset="1.0" stop-color="#00001c"/></radialGradient><radialGradient id="g129" cx="0.5" cy="0.5" r="0.5"><stop offset="0" stop-color="#3395ff"/><stop offset="0.3" stop-color="#1d39ff"/><stop offset="0.6" stop-color="#050897"/><stop offset="0.85" stop-color="#000045"/><stop offset="1.0" stop-color="#00001e"/></radialGradient><radialGradient id="g130" cx="0.5" cy="0.5" r="0.5"><stop offset="0" stop-color="#73f1ff"/><stop offset="0.3" stop-color="#2a81ff"/><stop offset="0.6" stop-color="#0609a2"/><stop offset="0.85" stop-color="#000032"/><stop offset="1.0" stop-color="#00001c"/></radialGradient><radialGradient id="g131" cx="0.5" cy="0.5" r="0.5"><stop offset="0" stop-color="#0e16dd"/><stop offset="0.3" stop-color="#070aa7"/><stop offset="0.6" stop-color="#000052"/><stop offset="0.85" stop-color="#000032"/><stop offset="1.0" stop-color="#00001c"/></radialGradient></defs><text x="1.00" y="12.60" font-family="Liberation Serif" font-size="17" font-weight="bold" text-anchor="start" fill="#000">A</text><text x="249.00" y="12.40" font-family="Liberation Serif" font-size="17" font-weight="bold" text-anchor="start" fill="#000">B</text><text x="471.00" y="13.10" font-family="Liberation Serif" font-size="17" font-weight="bold" text-anchor="start" fill="#000">C</text><text x="82.50" y="178.90" font-family="Liberation Serif" font-size="17" font-weight="bold" text-anchor="start" fill="#000">D</text><text x="5.00" y="498.40" font-family="Liberation Serif" font-size="17" font-weight="bold" text-anchor="start" fill="#000">E</text><text x="177.80" y="497.70" font-family="Liberation Serif" font-size="17" font-weight="bold" text-anchor="start" fill="#000">F</text><text x="352.80" y="494.40" font-family="Liberation Serif" font-size="17" font-weight="bold" text-anchor="start" fill="#000">G</text><text x="514.00" y="493.00" font-family="Liberation Serif" font-size="17" font-weight="bold" text-anchor="start" fill="#000">H</text><text x="180.50" y="626.60" font-family="Liberation Serif" font-size="17" font-weight="bold" text-anchor="start" fill="#000">I</text><text x="353.60" y="626.50" font-family="Liberation Serif" font-size="17" font-weight="bold" text-anchor="start" fill="#000">J</text><text x="518.40" y="627.00" font-family="Liberation Serif" font-size="17" font-weight="bold" text-anchor="start" fill="#000">K</text><text x="4.40" y="743.10" font-family="Liberation Serif" font-size="17" font-weight="bold" text-anchor="start" fill="#000">L</text><polygon points="17.5,116 56,29.0 230,29.0 191.5,116" fill="#0202f8"/><line x1="17.50" y1="116" x2="52.30" y2="36" stroke="#9ad8ff" stroke-width="0.7"/><polygon points="55.64,29 61.70,11.5 68.60,28.6 46.20,79 37.86,83 36.77,74" fill="#fa1e0a"/><polygon points="55.64,29 61.70,11.5 62.60,13.8 53.93,38 49.62,44" fill="#ff7a70" opacity="0.45"/><line x1="69.30" y1="28.8" x2="35.62" y2="104" stroke="#80e8ff" stroke-width="0.6"/><line x1="57.44" y1="52" x2="45.59" y2="79" stroke="#ffd030" stroke-width="0.9"/><polygon points="35.59,79 46.09,79 33.98,108 23.24,112" fill="url(#astreak)" opacity="0.28" filter="url(#bl1)"/><line x1="35.36" y1="80.0" x2="22.31" y2="110.0" stroke="#ff3010" stroke-width="1.1"/><line x1="36.11" y1="81.5" x2="24.49" y2="108.2" stroke="#ffb020" stroke-width="0.9"/><line x1="36.86" y1="83.0" x2="26.68" y2="106.4" stroke="#ff5020" stroke-width="1.1"/><line x1="39.56" y1="80.0" x2="28.86" y2="104.6" stroke="#ffe040" stroke-width="0.9"/><line x1="41.39" y1="79.0" x2="31.04" y2="102.8" stroke="#70f0ff" stroke-width="1.1"/><line x1="41.92" y1="81.0" x2="33.22" y2="101.0" stroke="#ff4010" stroke-width="0.9"/><line x1="44.20" y1="79.0" x2="35.41" y2="99.2" stroke="#90f8ff" stroke-width="1.1"/><line x1="44.73" y1="81.0" x2="37.59" y2="97.4" stroke="#70e8ff" stroke-width="0.9"/><polygon points="21.30,93.5 24.60,91.8 31.00,113.8 28.20,115.2" fill="#f52a10"/><polygon points="21.30,93.5 24.60,91.8 25.60,95 22.50,96.8" fill="#ff8a80" opacity="0.7"/><rect x="47.59" y="79" width="0.9" height="1.4" fill="#90f0ff"/><rect x="47.92" y="84" width="0.9" height="1.4" fill="#90f0ff"/><rect x="42.31" y="90" width="0.9" height="1.4" fill="#90f0ff"/><rect x="45.94" y="92" width="0.9" height="1.4" fill="#90f0ff"/><rect x="40.33" y="98" width="0.9" height="1.4" fill="#90f0ff"/><rect x="53.47" y="77" width="0.9" height="1.4" fill="#90f0ff"/><rect x="38.96" y="100" width="0.9" height="1.4" fill="#90f0ff"/><rect x="49.68" y="88" width="0.9" height="1.4" fill="#90f0ff"/><rect x="43.63" y="95" width="0.9" height="1.4" fill="#90f0ff"/><rect x="36.52" y="104" width="0.9" height="1.4" fill="#90f0ff"/><rect x="52.20" y="73" width="0.9" height="1.4" fill="#90f0ff"/><rect x="36.91" y="107" width="0.9" height="1.4" fill="#90f0ff"/><rect x="53.73" y="81" width="0.9" height="1.4" fill="#90f0ff"/><rect x="42.52" y="101" width="0.9" height="1.4" fill="#90f0ff"/><line x1="75.50" y1="116" x2="110.30" y2="36" stroke="#9ad8ff" stroke-width="0.7"/><polygon points="113.64,29 119.70,11.5 126.60,28.6 100.72,87 92.81,90 92.16,80" fill="#fa1e0a"/><polygon points="113.64,29 119.70,11.5 120.60,13.8 111.93,38 107.62,44" fill="#ff7a70" opacity="0.45"/><line x1="127.30" y1="28.8" x2="93.62" y2="104" stroke="#80e8ff" stroke-width="0.6"/><line x1="115.44" y1="52" x2="100.12" y2="87" stroke="#ffd030" stroke-width="0.9"/><polygon points="90.55,86 100.62,87 91.98,108 81.24,112" fill="url(#astreak)" opacity="0.28" filter="url(#bl1)"/><line x1="90.32" y1="87.0" x2="80.31" y2="110.0" stroke="#ff3010" stroke-width="1.1"/><line x1="91.06" y1="88.5" x2="82.49" y2="108.2" stroke="#ff6020" stroke-width="0.9"/><line x1="91.81" y1="90.0" x2="84.68" y2="106.4" stroke="#ffb020" stroke-width="1.1"/><line x1="94.52" y1="87.0" x2="86.86" y2="104.6" stroke="#ff4010" stroke-width="0.9"/><line x1="95.92" y1="87.0" x2="89.04" y2="102.8" stroke="#ffd040" stroke-width="1.1"/><line x1="96.45" y1="89.0" x2="91.23" y2="101.0" stroke="#70f0ff" stroke-width="0.9"/><line x1="98.72" y1="87.0" x2="93.41" y2="99.2" stroke="#90f8ff" stroke-width="1.1"/><line x1="99.25" y1="89.0" x2="95.59" y2="97.4" stroke="#b0ffff" stroke-width="0.9"/><polygon points="79.30,93.5 82.60,91.8 89.00,113.8 86.20,115.2" fill="#f52a10"/><polygon points="79.30,93.5 82.60,91.8 83.60,95 80.50,96.8" fill="#ff8a80" opacity="0.7"/><rect x="105.59" y="79" width="0.9" height="1.4" fill="#90f0ff"/><rect x="105.92" y="84" width="0.9" height="1.4" fill="#90f0ff"/><rect x="100.31" y="90" width="0.9" height="1.4" fill="#90f0ff"/><rect x="103.94" y="92" width="0.9" height="1.4" fill="#90f0ff"/><rect x="98.33" y="98" width="0.9" height="1.4" fill="#90f0ff"/><rect x="111.47" y="77" width="0.9" height="1.4" fill="#90f0ff"/><rect x="96.96" y="100" width="0.9" height="1.4" fill="#90f0ff"/><rect x="107.68" y="88" width="0.9" height="1.4" fill="#90f0ff"/><rect x="101.63" y="95" width="0.9" height="1.4" fill="#90f0ff"/><rect x="94.52" y="104" width="0.9" height="1.4" fill="#90f0ff"/><rect x="110.20" y="73" width="0.9" height="1.4" fill="#90f0ff"/><rect x="94.91" y="107" width="0.9" height="1.4" fill="#90f0ff"/><rect x="111.72" y="81" width="0.9" height="1.4" fill="#90f0ff"/><rect x="100.53" y="101" width="0.9" height="1.4" fill="#90f0ff"/><line x1="133.50" y1="116" x2="168.30" y2="36" stroke="#9ad8ff" stroke-width="0.7"/><polygon points="171.65,29 177.70,11.5 184.60,28.6 165.24,72 157.77,74 160.60,56" fill="#fa1e0a"/><polygon points="171.65,29 177.70,11.5 178.60,13.8 169.93,38 165.62,44" fill="#ff7a70" opacity="0.45"/><line x1="185.30" y1="28.8" x2="151.62" y2="104" stroke="#80e8ff" stroke-width="0.6"/><line x1="173.44" y1="52" x2="164.64" y2="72" stroke="#ffd030" stroke-width="0.9"/><polygon points="155.51,70 165.14,72 149.98,108 139.24,112" fill="url(#astreak)" opacity="0.28" filter="url(#bl1)"/><line x1="155.27" y1="71.0" x2="138.31" y2="110.0" stroke="#ff5020" stroke-width="1.1"/><line x1="156.02" y1="72.5" x2="140.49" y2="108.2" stroke="#ffd040" stroke-width="0.9"/><line x1="156.77" y1="74.0" x2="142.68" y2="106.4" stroke="#70f0ff" stroke-width="1.1"/><line x1="159.47" y1="71.0" x2="144.86" y2="104.6" stroke="#b0ffff" stroke-width="0.9"/><line x1="160.44" y1="72.0" x2="147.04" y2="102.8" stroke="#90f8ff" stroke-width="1.1"/><line x1="160.97" y1="74.0" x2="149.22" y2="101.0" stroke="#e0ffff" stroke-width="0.9"/><line x1="163.24" y1="72.0" x2="151.41" y2="99.2" stroke="#70e8ff" stroke-width="1.1"/><line x1="163.77" y1="74.0" x2="153.59" y2="97.4" stroke="#a0f8ff" stroke-width="0.9"/><polygon points="156.88,68 160.88,68 156.22,81 152.22,81" fill="#fa2a0a"/><polygon points="137.30,93.5 140.60,91.8 147.00,113.8 144.20,115.2" fill="#f52a10"/><polygon points="137.30,93.5 140.60,91.8 141.60,95 138.50,96.8" fill="#ff8a80" opacity="0.7"/><rect x="163.59" y="79" width="0.9" height="1.4" fill="#90f0ff"/><rect x="163.92" y="84" width="0.9" height="1.4" fill="#90f0ff"/><rect x="158.31" y="90" width="0.9" height="1.4" fill="#90f0ff"/><rect x="161.94" y="92" width="0.9" height="1.4" fill="#90f0ff"/><rect x="156.33" y="98" width="0.9" height="1.4" fill="#90f0ff"/><rect x="169.47" y="77" width="0.9" height="1.4" fill="#90f0ff"/><rect x="154.96" y="100" width="0.9" height="1.4" fill="#90f0ff"/><rect x="165.68" y="88" width="0.9" height="1.4" fill="#90f0ff"/><rect x="159.63" y="95" width="0.9" height="1.4" fill="#90f0ff"/><rect x="152.52" y="104" width="0.9" height="1.4" fill="#90f0ff"/><rect x="168.20" y="73" width="0.9" height="1.4" fill="#90f0ff"/><rect x="152.91" y="107" width="0.9" height="1.4" fill="#90f0ff"/><rect x="169.72" y="81" width="0.9" height="1.4" fill="#90f0ff"/><rect x="158.53" y="101" width="0.9" height="1.4" fill="#90f0ff"/><text x="75.30" y="25.20" font-family="Liberation Serif" font-size="5.8" font-weight="bold" text-anchor="start" fill="#000">control-2</text><text x="140.60" y="25.20" font-family="Liberation Serif" font-size="5.8" font-weight="bold" text-anchor="start" fill="#000">FH-2</text><text x="196.70" y="25.20" font-family="Liberation Serif" font-size="5.8" font-weight="bold" text-anchor="start" fill="#000">FS-2</text><rect x="269" y="5.8" width="15" height="1.8" fill="url(#cbj)"/><text x="269.00" y="10.90" font-family="Liberation Sans" font-size="2.6" text-anchor="start" fill="#444">0.00</text><text x="280.50" y="10.90" font-family="Liberation Sans" font-size="2.6" text-anchor="start" fill="#444">1.0E5</text><rect x="282.30" y="15.3" width="55.90" height="104.70" fill="url(#bbg)"/><rect x="294.30" y="40.3" width="0.8" height="79.70" fill="#1a1ab0" opacity="0.35"/><rect x="300.30" y="40.3" width="0.8" height="79.70" fill="#1a1ab0" opacity="0.35"/><rect x="308.30" y="40.3" width="0.8" height="79.70" fill="#1a1ab0" opacity="0.35"/><rect x="316.30" y="40.3" width="0.8" height="79.70" fill="#1a1ab0" opacity="0.35"/><rect x="323.30" y="40.3" width="0.8" height="79.70" fill="#1a1ab0" opacity="0.35"/><rect x="282.30" y="15.3" width="1.7" height="104.70" fill="#6cb8ff"/><rect x="284.00" y="15.3" width="2.4" height="104.70" fill="#fa2a0a"/><rect x="286.40" y="15.3" width="1.4" height="104.70" fill="#2040ff"/><line x1="282.30" y1="15.3" x2="338.20" y2="15.3" stroke="#303040" stroke-width="0.5"/><line x1="338.20" y1="15.3" x2="338.20" y2="120.0" stroke="#606080" stroke-width="0.4"/><rect x="338.20" y="15.3" width="56.00" height="104.70" fill="url(#bbg)"/><rect x="350.20" y="40.3" width="0.8" height="79.70" fill="#1a1ab0" opacity="0.35"/><rect x="356.20" y="40.3" width="0.8" height="79.70" fill="#1a1ab0" opacity="0.35"/><rect x="364.20" y="40.3" width="0.8" height="79.70" fill="#1a1ab0" opacity="0.35"/><rect x="372.20" y="40.3" width="0.8" height="79.70" fill="#1a1ab0" opacity="0.35"/><rect x="379.20" y="40.3" width="0.8" height="79.70" fill="#1a1ab0" opacity="0.35"/><rect x="338.20" y="15.3" width="1.7" height="104.70" fill="#6cb8ff"/><rect x="339.90" y="15.3" width="2.4" height="104.70" fill="#fa2a0a"/><rect x="342.30" y="15.3" width="1.4" height="104.70" fill="#2040ff"/><line x1="338.20" y1="15.3" x2="394.20" y2="15.3" stroke="#303040" stroke-width="0.5"/><line x1="394.20" y1="15.3" x2="394.20" y2="120.0" stroke="#606080" stroke-width="0.4"/><rect x="394.20" y="15.3" width="56.20" height="104.70" fill="url(#bbg)"/><rect x="406.20" y="40.3" width="0.8" height="79.70" fill="#1a1ab0" opacity="0.35"/><rect x="412.20" y="40.3" width="0.8" height="79.70" fill="#1a1ab0" opacity="0.35"/><rect x="420.20" y="40.3" width="0.8" height="79.70" fill="#1a1ab0" opacity="0.35"/><rect x="428.20" y="40.3" width="0.8" height="79.70" fill="#1a1ab0" opacity="0.35"/><rect x="435.20" y="40.3" width="0.8" height="79.70" fill="#1a1ab0" opacity="0.35"/><rect x="394.20" y="15.3" width="1.7" height="104.70" fill="#6cb8ff"/><rect x="395.90" y="15.3" width="2.4" height="104.70" fill="#fa2a0a"/><rect x="398.30" y="15.3" width="1.4" height="104.70" fill="#2040ff"/><line x1="394.20" y1="15.3" x2="450.40" y2="15.3" stroke="#303040" stroke-width="0.5"/><line x1="450.40" y1="15.3" x2="450.40" y2="120.0" stroke="#606080" stroke-width="0.4"/><line x1="282.30" y1="15.3" x2="282.30" y2="120.0" stroke="#606080" stroke-width="0.4"/><polygon points="287,60 296,56 312,64 328,74 334,86 333,104 300,108 287,108" fill="#1418c8" opacity="0.38" filter="url(#bl2)"/><polygon points="343,82 356,78 372,90 378,104 344,108" fill="#1418c8" opacity="0.42" filter="url(#bl2)"/><polygon points="400,62 418,63 426,78 440,98 432,110 401,112" fill="#1418c8" opacity="0.5" filter="url(#bl2)"/><rect x="286.5" y="106" width="42" height="12" fill="#2030e8" opacity="0.8" filter="url(#bl1)"/><rect x="343" y="106" width="28" height="11" fill="#2030e8" opacity="0.7" filter="url(#bl1)"/><rect x="400" y="106" width="22" height="12" fill="#2030e8" opacity="0.7" filter="url(#bl1)"/><ellipse cx="299.53" cy="108.59" rx="1.59" ry="0.99" fill="url(#sr)"/><ellipse cx="300.57" cy="113.05" rx="2.21" ry="0.93" fill="url(#sb)"/><ellipse cx="311.18" cy="108.55" rx="1.71" ry="1.09" fill="url(#sc)"/><ellipse cx="307.34" cy="110.66" rx="1.43" ry="0.79" fill="url(#sb)"/><ellipse cx="285.88" cy="110.57" rx="2.06" ry="0.79" fill="url(#sb)"/><ellipse cx="306.01" cy="106.06" rx="2.12" ry="0.84" fill="url(#sb)"/><ellipse cx="307.06" cy="114.84" rx="1.99" ry="1.13" fill="url(#sc)"/><ellipse cx="299.64" cy="114.97" rx="2.28" ry="0.78" fill="url(#sc)"/><ellipse cx="289.06" cy="106.77" rx="1.41" ry="1.14" fill="url(#sc)"/><ellipse cx="306.35" cy="115.63" rx="1.65" ry="1.09" fill="url(#sb)"/><ellipse cx="300.41" cy="110.06" rx="1.84" ry="1.12" fill="url(#sr)"/><ellipse cx="286.19" cy="117.40" rx="1.48" ry="0.99" fill="url(#sr)"/><ellipse cx="307.86" cy="107.62" rx="2.28" ry="1.12" fill="url(#sb)"/><ellipse cx="302.63" cy="106.85" rx="1.89" ry="1.15" fill="url(#sc)"/><ellipse cx="287.13" cy="109.20" rx="2.15" ry="1.16" fill="url(#sr)"/><ellipse cx="287.20" cy="109.97" rx="2.20" ry="0.73" fill="url(#sc)"/><ellipse cx="306.80" cy="115.49" rx="1.21" ry="0.99" fill="url(#sr)"/><ellipse cx="300.40" cy="110.41" rx="1.80" ry="1.13" fill="url(#sc)"/><ellipse cx="310.55" cy="112.07" rx="1.52" ry="0.76" fill="url(#sb)"/><ellipse cx="309.23" cy="112.46" rx="2.29" ry="0.85" fill="url(#sc)"/><ellipse cx="286.60" cy="107.53" rx="2.17" ry="0.86" fill="url(#sy)"/><ellipse cx="294.59" cy="117.16" rx="1.69" ry="0.95" fill="url(#sr)"/><ellipse cx="301.94" cy="116.77" rx="1.28" ry="1.15" fill="url(#sb)"/><ellipse cx="301.80" cy="109.03" rx="1.99" ry="1.13" fill="url(#sc)"/><ellipse cx="297.93" cy="118.21" rx="1.80" ry="0.73" fill="url(#sc)"/><ellipse cx="293.00" cy="118.34" rx="1.60" ry="0.98" fill="url(#sy)"/><ellipse cx="357.08" cy="106.28" rx="1.70" ry="1.02" fill="url(#sc)"/><ellipse cx="348.59" cy="113.42" rx="1.73" ry="0.98" fill="url(#sr)"/><ellipse cx="351.12" cy="105.78" rx="1.89" ry="0.85" fill="url(#sb)"/><ellipse cx="350.71" cy="109.66" rx="1.52" ry="0.89" fill="url(#sb)"/><ellipse cx="360.38" cy="108.93" rx="1.28" ry="1.08" fill="url(#sb)"/><ellipse cx="345.34" cy="114.39" rx="1.74" ry="1.01" fill="url(#sc)"/><ellipse cx="346.77" cy="108.60" rx="1.66" ry="1.03" fill="url(#sr)"/><ellipse cx="363.23" cy="113.31" rx="1.94" ry="0.82" fill="url(#sy)"/><ellipse cx="359.71" cy="106.54" rx="1.41" ry="0.97" fill="url(#sc)"/><ellipse cx="345.26" cy="108.43" rx="1.77" ry="0.81" fill="url(#sb)"/><ellipse cx="348.89" cy="107.89" rx="2.10" ry="1.00" fill="url(#sb)"/><ellipse cx="345.42" cy="109.99" rx="1.50" ry="1.07" fill="url(#sc)"/><ellipse cx="356.57" cy="111.54" rx="1.50" ry="0.97" fill="url(#sr)"/><ellipse cx="345.78" cy="117.47" rx="1.17" ry="1.14" fill="url(#sb)"/><ellipse cx="351.55" cy="118.33" rx="2.26" ry="1.13" fill="url(#sy)"/><ellipse cx="353.15" cy="105.92" rx="2.03" ry="1.05" fill="url(#sc)"/><ellipse cx="362.06" cy="112.57" rx="2.16" ry="1.10" fill="url(#sc)"/><ellipse cx="348.15" cy="107.06" rx="1.20" ry="1.07" fill="url(#sb)"/><ellipse cx="361.33" cy="117.51" rx="2.20" ry="0.98" fill="url(#sr)"/><ellipse cx="345.18" cy="111.75" rx="1.74" ry="0.83" fill="url(#sr)"/><ellipse cx="351.62" cy="112.32" rx="2.25" ry="0.99" fill="url(#sc)"/><ellipse cx="364.93" cy="107.13" rx="1.79" ry="1.08" fill="url(#sr)"/><ellipse cx="346.94" cy="110.07" rx="1.78" ry="1.08" fill="url(#sy)"/><ellipse cx="348.74" cy="108.61" rx="2.19" ry="0.78" fill="url(#sr)"/><ellipse cx="355.14" cy="111.84" rx="1.62" ry="1.05" fill="url(#sy)"/><ellipse cx="354.47" cy="108.99" rx="1.65" ry="0.93" fill="url(#sr)"/><ellipse cx="412.04" cy="116.64" rx="1.21" ry="0.75" fill="url(#sc)"/><ellipse cx="413.06" cy="118.17" rx="1.26" ry="0.94" fill="url(#sc)"/><ellipse cx="400.79" cy="107.54" rx="1.61" ry="0.89" fill="url(#sc)"/><ellipse cx="402.84" cy="110.19" rx="1.54" ry="0.78" fill="url(#sb)"/><ellipse cx="412.80" cy="105.55" rx="2.08" ry="0.97" fill="url(#sr)"/><ellipse cx="410.03" cy="110.35" rx="2.07" ry="0.89" fill="url(#sr)"/><ellipse cx="406.74" cy="113.60" rx="1.59" ry="0.94" fill="url(#sr)"/><ellipse cx="416.21" cy="109.59" rx="1.65" ry="0.73" fill="url(#sy)"/><ellipse cx="411.32" cy="112.47" rx="1.24" ry="0.91" fill="url(#sc)"/><ellipse cx="400.01" cy="107.19" rx="1.54" ry="1.15" fill="url(#sb)"/><ellipse cx="403.78" cy="115.78" rx="1.70" ry="0.78" fill="url(#sr)"/><ellipse cx="414.30" cy="114.11" rx="2.08" ry="1.02" fill="url(#sr)"/><ellipse cx="408.85" cy="109.64" rx="2.10" ry="1.04" fill="url(#sc)"/><ellipse cx="413.46" cy="107.37" rx="1.21" ry="0.76" fill="url(#sr)"/><ellipse cx="405.77" cy="114.07" rx="2.11" ry="0.87" fill="url(#sr)"/><ellipse cx="401.61" cy="105.83" rx="1.72" ry="1.03" fill="url(#sc)"/><ellipse cx="412.99" cy="113.03" rx="1.20" ry="1.06" fill="url(#sb)"/><ellipse cx="403.56" cy="112.38" rx="1.80" ry="0.77" fill="url(#sb)"/><ellipse cx="405.41" cy="106.29" rx="1.81" ry="1.09" fill="url(#sy)"/><ellipse cx="409.71" cy="118.48" rx="1.69" ry="1.03" fill="url(#sc)"/><ellipse cx="410.14" cy="108.79" rx="2.25" ry="0.97" fill="url(#sr)"/><ellipse cx="403.60" cy="110.38" rx="2.24" ry="1.09" fill="url(#sy)"/><ellipse cx="409.34" cy="110.90" rx="1.83" ry="1.13" fill="url(#sr)"/><ellipse cx="410.52" cy="111.79" rx="2.20" ry="0.79" fill="url(#sr)"/><ellipse cx="407.77" cy="111.97" rx="1.97" ry="1.14" fill="url(#sb)"/><ellipse cx="402.58" cy="114.85" rx="1.47" ry="0.81" fill="url(#sb)"/><ellipse cx="329.09" cy="81.30" rx="1.20" ry="0.89" fill="url(#sc)"/><ellipse cx="323.38" cy="89.24" rx="1.01" ry="0.92" fill="url(#sc)"/><ellipse cx="293.26" cy="100.36" rx="0.77" ry="1.05" fill="url(#sb)"/><ellipse cx="295.38" cy="63.78" rx="0.81" ry="1.03" fill="url(#sb)"/><ellipse cx="312.98" cy="76.34" rx="1.09" ry="0.70" fill="url(#sy)"/><ellipse cx="321.05" cy="97.57" rx="0.98" ry="0.86" fill="url(#sb)"/><ellipse cx="297.09" cy="98.69" rx="1.11" ry="1.14" fill="url(#sb)"/><ellipse cx="325.91" cy="101.46" rx="1.05" ry="1.03" fill="url(#sb)"/><ellipse cx="323.28" cy="103.89" rx="0.76" ry="0.69" fill="url(#sc)"/><ellipse cx="308.45" cy="62.01" rx="1.07" ry="0.60" fill="url(#sc)"/><ellipse cx="286.34" cy="63.66" rx="0.71" ry="0.63" fill="url(#sb)"/><ellipse cx="291.71" cy="61.02" rx="1.24" ry="0.60" fill="url(#sb)"/><ellipse cx="311.62" cy="84.60" rx="0.58" ry="0.77" fill="url(#sb)"/><ellipse cx="286.81" cy="74.36" rx="1.05" ry="1.01" fill="url(#sb)"/><ellipse cx="304.14" cy="74.94" rx="0.67" ry="0.74" fill="url(#sb)"/><ellipse cx="325.63" cy="60.74" rx="1.24" ry="0.64" fill="url(#sc)"/><ellipse cx="295.71" cy="89.60" rx="0.91" ry="0.96" fill="url(#sc)"/><ellipse cx="329.81" cy="60.47" rx="0.83" ry="0.91" fill="url(#sy)"/><ellipse cx="301.53" cy="60.78" rx="0.84" ry="1.00" fill="url(#sy)"/><ellipse cx="309.85" cy="92.86" rx="1.11" ry="0.67" fill="url(#sc)"/><ellipse cx="310.41" cy="100.39" rx="0.67" ry="1.12" fill="url(#sb)"/><ellipse cx="309.80" cy="101.96" rx="1.05" ry="0.82" fill="url(#sc)"/><ellipse cx="299.75" cy="88.02" rx="0.81" ry="0.68" fill="url(#sb)"/><ellipse cx="289.12" cy="60.48" rx="0.98" ry="0.91" fill="url(#sb)"/><ellipse cx="291.76" cy="73.32" rx="0.86" ry="1.09" fill="url(#sb)"/><ellipse cx="291.95" cy="79.41" rx="1.08" ry="0.88" fill="url(#sc)"/><ellipse cx="299.29" cy="103.20" rx="1.17" ry="0.62" fill="url(#sb)"/><ellipse cx="287.45" cy="98.19" rx="0.78" ry="0.64" fill="url(#sb)"/><ellipse cx="327.27" cy="83.78" rx="0.66" ry="0.98" fill="url(#sy)"/><ellipse cx="315.86" cy="76.25" rx="1.17" ry="1.01" fill="url(#sy)"/><ellipse cx="323.67" cy="86.00" rx="1.16" ry="0.90" fill="url(#sb)"/><ellipse cx="289.72" cy="83.99" rx="0.76" ry="1.03" fill="url(#sb)"/><ellipse cx="299.13" cy="97.96" rx="0.88" ry="1.05" fill="url(#sc)"/><ellipse cx="306.25" cy="83.18" rx="1.04" ry="1.15" fill="url(#sc)"/><ellipse cx="311.15" cy="100.68" rx="0.60" ry="0.69" fill="url(#sb)"/><ellipse cx="316.68" cy="60.48" rx="0.75" ry="0.68" fill="url(#sb)"/><ellipse cx="318.40" cy="65.14" rx="0.73" ry="1.05" fill="url(#sb)"/><ellipse cx="292.38" cy="60.69" rx="1.06" ry="0.67" fill="url(#sb)"/><ellipse cx="308.53" cy="95.41" rx="0.62" ry="0.79" fill="url(#sb)"/><ellipse cx="301.76" cy="80.80" rx="0.59" ry="0.78" fill="url(#sc)"/><ellipse cx="312.80" cy="99.40" rx="0.68" ry="1.08" fill="url(#sy)"/><ellipse cx="286.21" cy="94.54" rx="0.64" ry="1.16" fill="url(#sb)"/><ellipse cx="323.81" cy="102.52" rx="0.90" ry="1.02" fill="url(#sb)"/><ellipse cx="318.71" cy="71.11" rx="0.88" ry="1.07" fill="url(#sb)"/><ellipse cx="300.50" cy="74.97" rx="0.63" ry="1.07" fill="url(#sb)"/><ellipse cx="293.17" cy="88.11" rx="0.92" ry="1.02" fill="url(#sb)"/><ellipse cx="299.63" cy="77.36" rx="0.61" ry="0.73" fill="url(#sc)"/><ellipse cx="295.42" cy="77.84" rx="0.87" ry="1.14" fill="url(#sb)"/><ellipse cx="295.76" cy="68.19" rx="1.20" ry="0.89" fill="url(#sb)"/><ellipse cx="288.84" cy="65.67" rx="0.87" ry="0.68" fill="url(#sb)"/><ellipse cx="307.69" cy="62.10" rx="0.90" ry="0.69" fill="url(#sb)"/><ellipse cx="293.67" cy="75.56" rx="0.60" ry="0.99" fill="url(#sb)"/><ellipse cx="296.93" cy="75.57" rx="0.60" ry="1.14" fill="url(#sb)"/><ellipse cx="296.60" cy="67.32" rx="0.72" ry="0.77" fill="url(#sb)"/><ellipse cx="287.70" cy="72.66" rx="0.62" ry="1.00" fill="url(#sc)"/><ellipse cx="329.62" cy="105.05" rx="1.15" ry="1.14" fill="url(#sb)"/><ellipse cx="291.76" cy="67.75" rx="1.17" ry="0.94" fill="url(#sc)"/><ellipse cx="286.49" cy="71.17" rx="0.90" ry="0.63" fill="url(#sy)"/><ellipse cx="286.18" cy="55.19" rx="0.65" ry="0.68" fill="url(#sb)"/><ellipse cx="289.34" cy="79.57" rx="0.95" ry="0.77" fill="url(#sb)"/><ellipse cx="300.77" cy="72.34" rx="0.83" ry="0.96" fill="url(#sb)"/><ellipse cx="307.59" cy="70.54" rx="1.27" ry="0.63" fill="url(#sc)"/><ellipse cx="297.66" cy="64.39" rx="0.95" ry="0.90" fill="url(#sy)"/><ellipse cx="328.63" cy="89.68" rx="0.71" ry="1.01" fill="url(#sb)"/><ellipse cx="304.62" cy="97.62" rx="1.25" ry="0.79" fill="url(#sb)"/><ellipse cx="299.12" cy="77.36" rx="1.09" ry="0.78" fill="url(#sb)"/><ellipse cx="316.47" cy="80.86" rx="1.24" ry="0.98" fill="url(#sb)"/><ellipse cx="288.86" cy="57.18" rx="1.12" ry="1.06" fill="url(#sb)"/><ellipse cx="311.73" cy="93.68" rx="0.65" ry="0.72" fill="url(#sb)"/><ellipse cx="324.57" cy="99.81" rx="0.91" ry="1.10" fill="url(#sc)"/><ellipse cx="343.00" cy="105.91" rx="0.72" ry="1.04" fill="url(#sb)"/><ellipse cx="348.72" cy="85.49" rx="0.91" ry="1.06" fill="url(#sb)"/><ellipse cx="343.30" cy="82.46" rx="0.69" ry="0.95" fill="url(#sy)"/><ellipse cx="344.12" cy="105.54" rx="0.79" ry="0.70" fill="url(#sy)"/><ellipse cx="355.40" cy="90.98" rx="1.24" ry="0.76" fill="url(#sy)"/><ellipse cx="353.96" cy="99.25" rx="1.03" ry="0.60" fill="url(#sb)"/><ellipse cx="372.01" cy="93.54" rx="0.65" ry="1.13" fill="url(#sc)"/><ellipse cx="353.88" cy="77.66" rx="0.74" ry="1.06" fill="url(#sy)"/><ellipse cx="354.65" cy="78.37" rx="1.06" ry="0.99" fill="url(#sb)"/><ellipse cx="353.15" cy="93.70" rx="0.66" ry="1.06" fill="url(#sy)"/><ellipse cx="350.85" cy="88.75" rx="0.66" ry="0.58" fill="url(#sc)"/><ellipse cx="343.61" cy="97.57" rx="0.83" ry="0.86" fill="url(#sb)"/><ellipse cx="363.26" cy="103.64" rx="0.84" ry="1.03" fill="url(#sb)"/><ellipse cx="346.14" cy="93.78" rx="0.83" ry="1.16" fill="url(#sc)"/><ellipse cx="352.91" cy="82.32" rx="0.76" ry="0.77" fill="url(#sb)"/><ellipse cx="372.87" cy="97.52" rx="1.30" ry="0.94" fill="url(#sy)"/><ellipse cx="350.47" cy="101.43" rx="0.72" ry="0.94" fill="url(#sb)"/><ellipse cx="367.53" cy="90.01" rx="0.88" ry="1.16" fill="url(#sb)"/><ellipse cx="376.18" cy="84.05" rx="0.71" ry="0.64" fill="url(#sb)"/><ellipse cx="355.97" cy="84.12" rx="1.04" ry="0.60" fill="url(#sb)"/><ellipse cx="352.67" cy="83.56" rx="0.83" ry="1.01" fill="url(#sc)"/><ellipse cx="353.10" cy="79.43" rx="1.24" ry="0.84" fill="url(#sb)"/><ellipse cx="366.99" cy="79.75" rx="1.09" ry="1.15" fill="url(#sc)"/><ellipse cx="352.63" cy="104.23" rx="1.26" ry="0.85" fill="url(#sy)"/><ellipse cx="377.46" cy="81.90" rx="0.79" ry="0.60" fill="url(#sc)"/><ellipse cx="369.26" cy="102.49" rx="0.80" ry="0.72" fill="url(#sy)"/><ellipse cx="344.44" cy="75.31" rx="0.96" ry="0.89" fill="url(#sb)"/><ellipse cx="343.00" cy="104.45" rx="1.29" ry="1.04" fill="url(#sc)"/><ellipse cx="368.15" cy="105.36" rx="1.29" ry="0.60" fill="url(#sb)"/><ellipse cx="347.74" cy="82.40" rx="1.24" ry="1.06" fill="url(#sy)"/><ellipse cx="343.84" cy="91.93" rx="0.81" ry="0.72" fill="url(#sb)"/><ellipse cx="347.30" cy="87.96" rx="0.61" ry="0.83" fill="url(#sb)"/><ellipse cx="369.34" cy="103.29" rx="0.76" ry="0.66" fill="url(#sb)"/><ellipse cx="370.51" cy="90.77" rx="0.98" ry="0.74" fill="url(#sb)"/><ellipse cx="354.66" cy="76.41" rx="0.62" ry="1.05" fill="url(#sb)"/><ellipse cx="362.29" cy="89.49" rx="1.25" ry="1.05" fill="url(#sy)"/><ellipse cx="350.57" cy="90.97" rx="1.04" ry="0.75" fill="url(#sb)"/><ellipse cx="379.53" cy="96.20" rx="0.98" ry="0.82" fill="url(#sc)"/><ellipse cx="347.78" cy="88.77" rx="0.77" ry="0.74" fill="url(#sy)"/><ellipse cx="348.82" cy="79.81" rx="0.96" ry="0.82" fill="url(#sb)"/><ellipse cx="440.16" cy="98.07" rx="1.02" ry="0.60" fill="url(#sy)"/><ellipse cx="401.43" cy="87.50" rx="0.67" ry="1.04" fill="url(#sc)"/><ellipse cx="423.64" cy="64.71" rx="0.85" ry="0.88" fill="url(#sb)"/><ellipse cx="439.43" cy="68.97" rx="0.71" ry="0.80" fill="url(#sb)"/><ellipse cx="405.57" cy="74.55" rx="1.27" ry="1.13" fill="url(#sc)"/><ellipse cx="417.55" cy="88.09" rx="0.61" ry="0.82" fill="url(#sb)"/><ellipse cx="400.78" cy="105.09" rx="0.75" ry="0.70" fill="url(#sb)"/><ellipse cx="401.42" cy="92.12" rx="1.04" ry="0.65" fill="url(#sb)"/><ellipse cx="443.17" cy="103.34" rx="1.08" ry="0.83" fill="url(#sb)"/><ellipse cx="406.19" cy="81.24" rx="0.99" ry="0.68" fill="url(#sb)"/><ellipse cx="402.03" cy="104.05" rx="1.24" ry="0.68" fill="url(#sb)"/><ellipse cx="422.42" cy="91.03" rx="0.68" ry="0.61" fill="url(#sb)"/><ellipse cx="422.51" cy="74.31" rx="0.67" ry="0.67" fill="url(#sy)"/><ellipse cx="416.53" cy="104.20" rx="0.86" ry="0.64" fill="url(#sb)"/><ellipse cx="400.13" cy="68.36" rx="0.66" ry="0.65" fill="url(#sc)"/><ellipse cx="408.48" cy="65.84" rx="1.24" ry="0.62" fill="url(#sb)"/><ellipse cx="409.20" cy="60.34" rx="0.68" ry="0.86" fill="url(#sb)"/><ellipse cx="441.51" cy="76.30" rx="0.93" ry="0.99" fill="url(#sc)"/><ellipse cx="427.76" cy="81.75" rx="0.96" ry="1.08" fill="url(#sb)"/><ellipse cx="413.17" cy="86.17" rx="0.97" ry="0.84" fill="url(#sy)"/><ellipse cx="409.73" cy="80.99" rx="1.13" ry="0.75" fill="url(#sb)"/><ellipse cx="435.27" cy="73.83" rx="1.28" ry="0.76" fill="url(#sb)"/><ellipse cx="420.06" cy="66.00" rx="0.62" ry="0.94" fill="url(#sb)"/><ellipse cx="400.05" cy="65.27" rx="1.21" ry="1.04" fill="url(#sy)"/><ellipse cx="416.06" cy="91.53" rx="1.14" ry="0.63" fill="url(#sy)"/><ellipse cx="407.48" cy="86.72" rx="1.01" ry="0.71" fill="url(#sb)"/><ellipse cx="409.31" cy="83.29" rx="0.81" ry="0.79" fill="url(#sy)"/><ellipse cx="426.79" cy="95.47" rx="0.83" ry="0.98" fill="url(#sc)"/><ellipse cx="443.34" cy="73.19" rx="0.78" ry="0.65" fill="url(#sy)"/><ellipse cx="444.67" cy="70.18" rx="1.11" ry="0.72" fill="url(#sb)"/><ellipse cx="412.67" cy="104.48" rx="0.93" ry="0.89" fill="url(#sb)"/><ellipse cx="416.22" cy="105.38" rx="0.90" ry="0.94" fill="url(#sb)"/><ellipse cx="417.28" cy="79.20" rx="1.02" ry="0.75" fill="url(#sb)"/><ellipse cx="409.73" cy="99.31" rx="1.29" ry="0.79" fill="url(#sb)"/><ellipse cx="414.56" cy="62.55" rx="0.67" ry="1.00" fill="url(#sb)"/><ellipse cx="408.84" cy="92.72" rx="0.80" ry="0.87" fill="url(#sb)"/><ellipse cx="438.55" cy="80.21" rx="1.08" ry="0.64" fill="url(#sb)"/><ellipse cx="403.99" cy="66.73" rx="0.85" ry="0.94" fill="url(#sb)"/><ellipse cx="403.68" cy="100.72" rx="0.90" ry="0.69" fill="url(#sb)"/><ellipse cx="439.47" cy="84.78" rx="0.97" ry="1.01" fill="url(#sb)"/><ellipse cx="424.42" cy="80.30" rx="0.67" ry="1.09" fill="url(#sb)"/><ellipse cx="401.91" cy="70.34" rx="0.80" ry="0.90" fill="url(#sb)"/><ellipse cx="419.81" cy="97.89" rx="0.64" ry="0.60" fill="url(#sc)"/><ellipse cx="414.38" cy="77.61" rx="1.29" ry="0.85" fill="url(#sb)"/><ellipse cx="415.40" cy="77.88" rx="0.89" ry="0.94" fill="url(#sc)"/><ellipse cx="292.50" cy="68.50" rx="2.32" ry="2.61" fill="url(#sr)"/><ellipse cx="289.50" cy="64.50" rx="1.74" ry="1.74" fill="url(#sc)"/><ellipse cx="291.00" cy="62.50" rx="1.45" ry="1.45" fill="url(#sb)"/><ellipse cx="307.70" cy="75.00" rx="1.74" ry="3.77" fill="url(#sy)"/><ellipse cx="295.00" cy="84.00" rx="2.03" ry="1.74" fill="url(#sr)"/><ellipse cx="304.00" cy="85.00" rx="1.74" ry="2.03" fill="url(#sy)"/><ellipse cx="325.00" cy="85.40" rx="2.61" ry="1.74" fill="url(#sr)"/><ellipse cx="331.00" cy="75.60" rx="2.61" ry="1.45" fill="url(#sc)"/><ellipse cx="291.50" cy="91.00" rx="1.89" ry="1.89" fill="url(#sr)"/><ellipse cx="297.00" cy="92.50" rx="2.03" ry="1.74" fill="url(#sr)"/><ellipse cx="310.00" cy="93.00" rx="2.17" ry="1.74" fill="url(#sr)"/><ellipse cx="300.60" cy="95.50" rx="1.74" ry="2.32" fill="url(#sy)"/><ellipse cx="318.50" cy="97.00" rx="4.06" ry="1.74" fill="url(#sr)"/><ellipse cx="302.00" cy="101.00" rx="2.17" ry="1.74" fill="url(#sr)"/><ellipse cx="312.00" cy="104.00" rx="2.32" ry="1.89" fill="url(#sr)"/><ellipse cx="297.00" cy="103.00" rx="1.74" ry="2.32" fill="url(#sy)"/><ellipse cx="290.00" cy="101.00" rx="1.59" ry="1.59" fill="url(#sc)"/><ellipse cx="303.00" cy="53.00" rx="1.45" ry="2.32" fill="url(#sb)"/><ellipse cx="310.00" cy="58.00" rx="1.45" ry="1.45" fill="url(#sb)"/><ellipse cx="296.00" cy="60.00" rx="1.74" ry="1.74" fill="url(#sb)"/><ellipse cx="307.00" cy="62.00" rx="1.45" ry="1.74" fill="url(#sc)"/><ellipse cx="315.00" cy="70.00" rx="1.74" ry="1.45" fill="url(#sb)"/><ellipse cx="320.00" cy="68.00" rx="2.17" ry="1.45" fill="url(#sb)"/><ellipse cx="300.00" cy="78.00" rx="1.74" ry="1.74" fill="url(#sc)"/><ellipse cx="285.00" cy="73.00" rx="2.03" ry="2.03" fill="url(#sb)"/><ellipse cx="305.00" cy="40.00" rx="1.45" ry="2.90" fill="url(#sb)"/><ellipse cx="316.00" cy="50.00" rx="1.45" ry="2.03" fill="url(#sb)"/><ellipse cx="326.00" cy="68.00" rx="2.90" ry="1.45" fill="url(#sb)"/><ellipse cx="322.00" cy="90.00" rx="1.74" ry="1.45" fill="url(#sc)"/><ellipse cx="333.00" cy="95.00" rx="1.45" ry="2.03" fill="url(#sb)"/><ellipse cx="328.00" cy="106.00" rx="1.45" ry="2.32" fill="url(#sc)"/><ellipse cx="306.00" cy="108.00" rx="2.90" ry="1.45" fill="url(#sb)"/><ellipse cx="288.00" cy="108.00" rx="2.61" ry="1.45" fill="url(#sc)"/><ellipse cx="293.00" cy="109.00" rx="2.32" ry="1.45" fill="url(#sr)"/><ellipse cx="298.00" cy="110.00" rx="2.90" ry="1.45" fill="url(#sc)"/><ellipse cx="301.00" cy="111.50" rx="2.61" ry="1.45" fill="url(#sr)"/><ellipse cx="290.00" cy="112.00" rx="2.32" ry="1.45" fill="url(#sy)"/><ellipse cx="295.00" cy="113.50" rx="3.19" ry="1.45" fill="url(#sc)"/><ellipse cx="302.00" cy="113.00" rx="2.61" ry="1.45" fill="url(#sb)"/><ellipse cx="289.00" cy="115.50" rx="2.32" ry="1.59" fill="url(#sr)"/><ellipse cx="293.00" cy="116.50" rx="2.61" ry="1.45" fill="url(#sy)"/><ellipse cx="298.00" cy="117.00" rx="2.61" ry="1.45" fill="url(#sc)"/><ellipse cx="286.50" cy="110.00" rx="1.74" ry="1.45" fill="url(#sy)"/><ellipse cx="287.00" cy="117.00" rx="1.74" ry="1.45" fill="url(#sr)"/><ellipse cx="305.00" cy="116.00" rx="2.90" ry="1.30" fill="url(#sc)"/><ellipse cx="310.00" cy="112.00" rx="2.90" ry="1.16" fill="url(#sb)"/><line x1="303" y1="85.4" x2="325" y2="85.4" stroke="#60a0ff" stroke-width="0.7" opacity="0.48"/><line x1="315" y1="75.6" x2="332" y2="75.6" stroke="#3050ff" stroke-width="0.7" opacity="0.48"/><line x1="300" y1="98" x2="320" y2="98" stroke="#40a0ff" stroke-width="0.7" opacity="0.42"/><line x1="288" y1="110.5" x2="306" y2="110.5" stroke="#60c0ff" stroke-width="0.7" opacity="0.36"/><line x1="286" y1="116.5" x2="330" y2="116.5" stroke="#2040ff" stroke-width="0.7" opacity="0.30"/><line x1="300" y1="93.5" x2="335" y2="93.5" stroke="#2030e0" stroke-width="0.7" opacity="0.36"/><ellipse cx="348.00" cy="63.00" rx="1.89" ry="2.03" fill="url(#sy)"/><ellipse cx="363.50" cy="63.00" rx="1.89" ry="1.74" fill="url(#sc)"/><ellipse cx="348.00" cy="68.50" rx="1.45" ry="1.74" fill="url(#sb)"/><ellipse cx="357.00" cy="73.00" rx="1.45" ry="1.74" fill="url(#sb)"/><ellipse cx="363.50" cy="75.00" rx="1.74" ry="2.32" fill="url(#sb)"/><ellipse cx="352.00" cy="84.00" rx="1.74" ry="1.74" fill="url(#sc)"/><ellipse cx="361.00" cy="85.00" rx="1.74" ry="1.74" fill="url(#sc)"/><ellipse cx="353.00" cy="89.50" rx="1.74" ry="1.74" fill="url(#sy)"/><ellipse cx="350.00" cy="92.00" rx="1.59" ry="1.74" fill="url(#sy)"/><ellipse cx="356.00" cy="93.00" rx="1.74" ry="1.59" fill="url(#sc)"/><ellipse cx="366.00" cy="95.00" rx="1.89" ry="1.45" fill="url(#sb)"/><ellipse cx="357.00" cy="97.00" rx="1.89" ry="1.59" fill="url(#sc)"/><ellipse cx="371.50" cy="96.50" rx="2.61" ry="1.45" fill="url(#sb)"/><ellipse cx="346.00" cy="101.00" rx="1.74" ry="1.74" fill="url(#sy)"/><ellipse cx="360.00" cy="101.00" rx="2.17" ry="1.59" fill="url(#sr)"/><ellipse cx="346.00" cy="104.00" rx="1.74" ry="1.74" fill="url(#sy)"/><ellipse cx="380.00" cy="106.00" rx="1.45" ry="2.03" fill="url(#sb)"/><ellipse cx="351.00" cy="54.00" rx="1.45" ry="2.61" fill="url(#sb)"/><ellipse cx="345.00" cy="66.00" rx="1.45" ry="1.74" fill="url(#sc)"/><ellipse cx="370.00" cy="88.00" rx="1.74" ry="1.45" fill="url(#sb)"/><ellipse cx="345.00" cy="108.00" rx="2.90" ry="1.45" fill="url(#sc)"/><ellipse cx="350.00" cy="109.00" rx="2.61" ry="1.45" fill="url(#sy)"/><ellipse cx="355.00" cy="110.00" rx="2.90" ry="1.45" fill="url(#sc)"/><ellipse cx="360.00" cy="111.00" rx="2.61" ry="1.45" fill="url(#sr)"/><ellipse cx="347.00" cy="112.00" rx="2.17" ry="1.45" fill="url(#sr)"/><ellipse cx="352.00" cy="113.00" rx="2.61" ry="1.45" fill="url(#sy)"/><ellipse cx="344.00" cy="115.00" rx="2.17" ry="1.45" fill="url(#sr)"/><ellipse cx="349.00" cy="116.00" rx="2.61" ry="1.45" fill="url(#sc)"/><ellipse cx="357.00" cy="115.00" rx="2.90" ry="1.45" fill="url(#sb)"/><ellipse cx="366.00" cy="109.00" rx="3.19" ry="1.30" fill="url(#sb)"/><ellipse cx="392.00" cy="93.00" rx="1.45" ry="2.17" fill="url(#sb)"/><line x1="344" y1="96.5" x2="372" y2="96.5" stroke="#3050ff" stroke-width="0.7" opacity="0.30"/><line x1="344" y1="103" x2="385" y2="103" stroke="#2040e0" stroke-width="0.7" opacity="0.30"/><line x1="344" y1="111" x2="365" y2="111" stroke="#40a0ff" stroke-width="0.7" opacity="0.36"/><line x1="380" y1="80" x2="380" y2="108" stroke="#2030d0" stroke-width="0.6" opacity="0.6"/><rect x="396" y="15.3" width="3.2" height="104.7" fill="#fa2a0a"/><rect x="399.2" y="15.3" width="0.9" height="104.7" fill="#70e8ff"/><rect x="399.6" y="70" width="3.6" height="1.8" fill="#f05020" opacity="0.75"/><rect x="399.6" y="73" width="3.6" height="1.8" fill="#ffa030" opacity="0.75"/><rect x="399.6" y="76" width="3.6" height="1.8" fill="#60c0ff" opacity="0.75"/><rect x="399.6" y="79" width="3.6" height="1.8" fill="#f03010" opacity="0.75"/><rect x="399.6" y="82" width="3.6" height="1.8" fill="#ffd040" opacity="0.75"/><rect x="399.6" y="85" width="3.6" height="1.8" fill="#f05020" opacity="0.75"/><rect x="399.6" y="88" width="3.6" height="1.8" fill="#ffa030" opacity="0.75"/><rect x="399.6" y="91" width="3.6" height="1.8" fill="#60c0ff" opacity="0.75"/><rect x="399.6" y="94" width="3.6" height="1.8" fill="#f03010" opacity="0.75"/><rect x="399.6" y="97" width="3.6" height="1.8" fill="#ffd040" opacity="0.75"/><rect x="399.6" y="100" width="3.6" height="1.8" fill="#f05020" opacity="0.75"/><rect x="399.6" y="103" width="3.6" height="1.8" fill="#ffa030" opacity="0.75"/><rect x="399.6" y="106" width="3.6" height="1.8" fill="#60c0ff" opacity="0.75"/><rect x="399.6" y="109" width="3.6" height="1.8" fill="#f03010" opacity="0.75"/><rect x="399.6" y="112" width="3.6" height="1.8" fill="#ffd040" opacity="0.75"/><rect x="399.6" y="115" width="3.6" height="1.8" fill="#f05020" opacity="0.75"/><rect x="400.5" y="64" width="50" height="0.9" fill="#2030f0" opacity="0.8"/><ellipse cx="404.50" cy="67.00" rx="2.32" ry="2.32" fill="url(#sr)"/><ellipse cx="401.00" cy="67.00" rx="1.74" ry="1.74" fill="url(#sc)"/><ellipse cx="408.00" cy="26.00" rx="1.59" ry="4.64" fill="url(#sc)"/><ellipse cx="417.00" cy="63.50" rx="2.03" ry="2.32" fill="url(#sc)"/><ellipse cx="421.00" cy="64.00" rx="1.89" ry="1.89" fill="url(#sc)"/><ellipse cx="436.50" cy="64.00" rx="1.89" ry="1.89" fill="url(#sc)"/><ellipse cx="429.00" cy="63.50" rx="1.45" ry="1.74" fill="url(#sb)"/><ellipse cx="421.50" cy="94.50" rx="2.32" ry="1.89" fill="url(#sr)"/><ellipse cx="436.50" cy="106.00" rx="1.89" ry="2.61" fill="url(#sr)"/><ellipse cx="445.00" cy="88.00" rx="1.59" ry="2.03" fill="url(#sb)"/><ellipse cx="406.00" cy="109.00" rx="4.64" ry="2.61" fill="url(#sr)"/><ellipse cx="410.50" cy="111.00" rx="2.90" ry="2.03" fill="url(#sy)"/><ellipse cx="412.00" cy="113.00" rx="2.17" ry="1.45" fill="url(#sr)"/><ellipse cx="400.50" cy="115.00" rx="1.89" ry="1.74" fill="url(#sr)"/><ellipse cx="406.00" cy="116.00" rx="2.90" ry="1.45" fill="url(#sc)"/><ellipse cx="404.00" cy="112.50" rx="2.17" ry="1.59" fill="url(#sy)"/><ellipse cx="413.00" cy="80.00" rx="1.45" ry="1.45" fill="url(#sc)"/><ellipse cx="417.00" cy="78.00" rx="1.45" ry="1.45" fill="url(#sb)"/><ellipse cx="410.00" cy="86.00" rx="1.45" ry="1.45" fill="url(#sc)"/><ellipse cx="408.00" cy="98.00" rx="1.74" ry="1.45" fill="url(#sc)"/><ellipse cx="412.00" cy="90.00" rx="1.74" ry="1.45" fill="url(#sb)"/><ellipse cx="409.00" cy="50.00" rx="1.45" ry="1.74" fill="url(#sb)"/><ellipse cx="415.00" cy="28.00" rx="1.45" ry="2.90" fill="url(#sb)"/><ellipse cx="423.00" cy="40.00" rx="1.45" ry="2.03" fill="url(#sb)"/><ellipse cx="440.00" cy="45.00" rx="1.45" ry="2.03" fill="url(#sb)"/><ellipse cx="444.00" cy="100.00" rx="1.74" ry="1.45" fill="url(#sb)"/><ellipse cx="430.00" cy="108.00" rx="2.03" ry="1.45" fill="url(#sb)"/><ellipse cx="403.00" cy="102.00" rx="2.17" ry="1.74" fill="url(#sy)"/><ellipse cx="404.00" cy="92.00" rx="1.74" ry="1.74" fill="url(#sy)"/><ellipse cx="403.00" cy="84.00" rx="1.74" ry="1.74" fill="url(#sc)"/><ellipse cx="402.00" cy="76.00" rx="1.74" ry="1.74" fill="url(#sr)"/><line x1="410" y1="94.5" x2="437" y2="94.5" stroke="#70e0ff" stroke-width="0.5" opacity="0.7"/><line x1="436.5" y1="88" x2="436.5" y2="105" stroke="#60c0ff" stroke-width="0.5" opacity="0.7"/><text x="282.80" y="13.50" font-family="Liberation Sans" font-size="3.4" text-anchor="start" fill="#ff2020">[1] control-2</text><text x="338.70" y="13.50" font-family="Liberation Sans" font-size="3.4" text-anchor="start" fill="#ff2020">[1] FH-2</text><text x="394.70" y="13.50" font-family="Liberation Sans" font-size="3.4" text-anchor="start" fill="#ff2020">[1] FS-2</text><text x="281.30" y="23.00" font-family="Liberation Sans" font-size="2.5" text-anchor="end" fill="#555">400</text><text x="281.30" y="25.80" font-family="Liberation Sans" font-size="2.5" text-anchor="end" fill="#555">(24.1)</text><line x1="281.5" y1="22.2" x2="282.3" y2="22.2" stroke="#555" stroke-width="0.3"/><text x="281.30" y="36.00" font-family="Liberation Sans" font-size="2.5" text-anchor="end" fill="#555">300</text><text x="281.30" y="38.80" font-family="Liberation Sans" font-size="2.5" text-anchor="end" fill="#555">(20.6)</text><line x1="281.5" y1="35.2" x2="282.3" y2="35.2" stroke="#555" stroke-width="0.3"/><text x="281.30" y="48.50" font-family="Liberation Sans" font-size="2.5" text-anchor="end" fill="#555">200</text><text x="281.30" y="51.30" font-family="Liberation Sans" font-size="2.5" text-anchor="end" fill="#555">(16.2)</text><line x1="281.5" y1="47.7" x2="282.3" y2="47.7" stroke="#555" stroke-width="0.3"/><text x="281.30" y="61.00" font-family="Liberation Sans" font-size="2.5" text-anchor="end" fill="#555">100</text><text x="281.30" y="63.80" font-family="Liberation Sans" font-size="2.5" text-anchor="end" fill="#555">(13.0)</text><line x1="281.5" y1="60.2" x2="282.3" y2="60.2" stroke="#555" stroke-width="0.3"/><text x="281.30" y="73.50" font-family="Liberation Sans" font-size="2.5" text-anchor="end" fill="#555">600</text><text x="281.30" y="76.30" font-family="Liberation Sans" font-size="2.5" text-anchor="end" fill="#555">(10.4)</text><line x1="281.5" y1="72.7" x2="282.3" y2="72.7" stroke="#555" stroke-width="0.3"/><text x="281.30" y="86.00" font-family="Liberation Sans" font-size="2.5" text-anchor="end" fill="#555">500</text><text x="281.30" y="88.80" font-family="Liberation Sans" font-size="2.5" text-anchor="end" fill="#555">(8.40)</text><line x1="281.5" y1="85.2" x2="282.3" y2="85.2" stroke="#555" stroke-width="0.3"/><text x="281.30" y="98.50" font-family="Liberation Sans" font-size="2.5" text-anchor="end" fill="#555">400</text><text x="281.30" y="101.30" font-family="Liberation Sans" font-size="2.5" text-anchor="end" fill="#555">(6.60)</text><line x1="281.5" y1="97.7" x2="282.3" y2="97.7" stroke="#555" stroke-width="0.3"/><text x="281.30" y="111.00" font-family="Liberation Sans" font-size="2.5" text-anchor="end" fill="#555">300</text><text x="281.30" y="113.80" font-family="Liberation Sans" font-size="2.5" text-anchor="end" fill="#555">(5.00)</text><line x1="281.5" y1="110.2" x2="282.3" y2="110.2" stroke="#555" stroke-width="0.3"/><text transform="translate(271.2,100) rotate(-90)" font-family="Liberation Sans" font-size="2.8" fill="#333">Retention time (s) [RT index]</text><text x="302.90" y="124.00" font-family="Liberation Sans" font-size="2.6" text-anchor="middle" fill="#444">1.0</text><text x="322.80" y="124.00" font-family="Liberation Sans" font-size="2.6" text-anchor="middle" fill="#444">1.5</text><text x="358.80" y="124.00" font-family="Liberation Sans" font-size="2.6" text-anchor="middle" fill="#444">1.0</text><text x="378.70" y="124.00" font-family="Liberation Sans" font-size="2.6" text-anchor="middle" fill="#444">1.5</text><text x="414.80" y="124.00" font-family="Liberation Sans" font-size="2.6" text-anchor="middle" fill="#444">1.0</text><text x="434.70" y="124.00" font-family="Liberation Sans" font-size="2.6" text-anchor="middle" fill="#444">1.5</text><text x="368.00" y="127.60" font-family="Liberation Sans" font-size="2.8" text-anchor="middle" fill="#333">drift time (ms)</text><rect x="489" y="6.2" width="16" height="1.8" fill="url(#cbc)"/><text x="489.00" y="10.90" font-family="Liberation Sans" font-size="2.6" text-anchor="start" fill="#444">0.00</text><text x="501.00" y="10.90" font-family="Liberation Sans" font-size="2.6" text-anchor="start" fill="#444">1.0E5</text><rect x="503.1" y="15.3" width="10.9" height="103.1" fill="#1616aa"/><rect x="514" y="15.3" width="0.9" height="103.1" fill="#78b8ff"/><rect x="514.9" y="15.3" width="1.1" height="103.1" fill="#d04880"/><rect x="516" y="15.3" width="42.9" height="103.1" fill="url(#c1bg)"/><rect x="503.1" y="84.8" width="55.8" height="1.2" fill="#000028" opacity="0.85"/><rect x="503.1" y="105.6" width="55.8" height="1.2" fill="#000028" opacity="0.85"/><rect x="503.1" y="113.3" width="55.8" height="1.2" fill="#000028" opacity="0.85"/><rect x="517.10" y="52.53" width="0.66" height="0.92" fill="#3050ff"/><rect x="516.73" y="53.12" width="0.77" height="0.65" fill="#2040ff"/><rect x="517.46" y="53.85" width="0.94" height="1.10" fill="#2040ff"/><rect x="517.39" y="49.73" width="1.36" height="0.95" fill="#2040ff"/><rect x="520.41" y="53.55" width="1.05" height="0.68" fill="#3050ff"/><rect x="518.66" y="53.87" width="0.85" height="1.09" fill="#2040ff"/><rect x="518.83" y="50.53" width="0.90" height="0.93" fill="#4070ff"/><rect x="516.74" y="48.88" width="1.00" height="0.92" fill="#4070ff"/><rect x="518.36" y="58.88" width="0.89" height="0.75" fill="#d0e0ff"/><rect x="521.08" y="71.89" width="1.06" height="0.92" fill="#3050ff"/><rect x="525.19" y="110.13" width="1.09" height="0.64" fill="#80b0ff"/><rect x="517.95" y="90.16" width="0.72" height="0.89" fill="#80b0ff"/><rect x="519.61" y="64.16" width="1.06" height="1.13" fill="#2040ff"/><rect x="521.40" y="79.26" width="1.00" height="1.08" fill="#2040ff"/><rect x="516.96" y="65.78" width="0.98" height="1.00" fill="#80b0ff"/><rect x="519.90" y="65.34" width="1.39" height="1.09" fill="#2040ff"/><rect x="519.12" y="77.65" width="0.62" height="0.88" fill="#80b0ff"/><rect x="517.18" y="71.24" width="0.77" height="0.77" fill="#3050ff"/><rect x="520.77" y="102.61" width="0.66" height="0.87" fill="#d0e0ff"/><rect x="524.53" y="92.22" width="1.29" height="0.77" fill="#d0e0ff"/><rect x="519.34" y="84.84" width="1.37" height="0.69" fill="#d0e0ff"/><rect x="517.86" y="71.69" width="0.61" height="1.10" fill="#4070ff"/><rect x="518.16" y="72.03" width="0.94" height="0.82" fill="#4070ff"/><rect x="525.30" y="93.15" width="1.36" height="0.99" fill="#2040ff"/><rect x="521.40" y="102.69" width="0.91" height="0.84" fill="#2040ff"/><rect x="519.81" y="67.69" width="0.75" height="1.19" fill="#3050ff"/><rect x="517.40" y="86.23" width="0.64" height="0.60" fill="#2040ff"/><rect x="517.07" y="70.32" width="1.09" height="0.64" fill="#80b0ff"/><rect x="518.80" y="73.44" width="1.36" height="0.96" fill="#80b0ff"/><rect x="517.47" y="88.08" width="1.39" height="0.88" fill="#d0e0ff"/><rect x="517.23" y="88.61" width="1.20" height="1.04" fill="#3050ff"/><rect x="522.36" y="88.32" width="0.62" height="1.17" fill="#2040ff"/><rect x="517.81" y="91.05" width="1.33" height="1.05" fill="#2040ff"/><rect x="520.94" y="78.39" width="1.16" height="0.76" fill="#3050ff"/><rect x="517.75" y="82.17" width="1.03" height="1.07" fill="#4070ff"/><rect x="518.10" y="80.13" width="1.24" height="1.09" fill="#4070ff"/><rect x="518.94" y="102.69" width="0.99" height="1.04" fill="#2040ff"/><rect x="526.70" y="116.43" width="0.81" height="1.02" fill="#d0e0ff"/><rect x="522.15" y="114.61" width="1.36" height="0.82" fill="#80b0ff"/><rect x="517.91" y="74.13" width="0.87" height="0.89" fill="#4070ff"/><rect x="524.36" y="116.19" width="0.98" height="0.99" fill="#3050ff"/><rect x="517.45" y="105.98" width="1.33" height="1.07" fill="#3050ff"/><rect x="521.68" y="103.26" width="0.95" height="0.98" fill="#4070ff"/><rect x="521.30" y="66.77" width="0.97" height="1.05" fill="#d0e0ff"/><rect x="517.30" y="66.67" width="0.62" height="0.95" fill="#4070ff"/><rect x="521.98" y="87.59" width="1.26" height="1.19" fill="#2040ff"/><rect x="520.01" y="98.15" width="1.04" height="0.61" fill="#2040ff"/><rect x="524.68" y="105.96" width="1.02" height="1.16" fill="#3050ff"/><rect x="523.55" y="85.86" width="0.62" height="0.73" fill="#4070ff"/><rect x="523.12" y="89.56" width="0.81" height="0.85" fill="#80b0ff"/><rect x="521.46" y="69.21" width="1.32" height="1.00" fill="#80b0ff"/><rect x="522.39" y="106.83" width="0.70" height="0.69" fill="#2040ff"/><rect x="524.14" y="90.08" width="1.09" height="1.07" fill="#4070ff"/><rect x="517.30" y="70.24" width="1.18" height="0.93" fill="#2040ff"/><rect x="520.20" y="79.93" width="0.99" height="1.07" fill="#2040ff"/><rect x="517.18" y="110.58" width="0.82" height="1.06" fill="#4070ff"/><rect x="521.40" y="89.92" width="0.95" height="0.97" fill="#3050ff"/><rect x="520.96" y="89.81" width="0.96" height="0.92" fill="#80b0ff"/><rect x="524.47" y="88.29" width="1.30" height="1.17" fill="#2040ff"/><rect x="520.18" y="76.28" width="1.27" height="0.68" fill="#4070ff"/><rect x="518.88" y="68.69" width="1.14" height="0.86" fill="#3050ff"/><rect x="518.37" y="73.70" width="1.32" height="0.69" fill="#3050ff"/><rect x="523.46" y="101.39" width="0.80" height="0.68" fill="#4070ff"/><rect x="522.76" y="87.73" width="0.92" height="0.89" fill="#3050ff"/><rect x="527.25" y="116.44" width="1.17" height="1.20" fill="#4070ff"/><rect x="519.80" y="84.21" width="0.85" height="1.03" fill="#80b0ff"/><rect x="518.98" y="63.07" width="1.16" height="0.83" fill="#d0e0ff"/><rect x="519.10" y="90.46" width="0.69" height="1.15" fill="#3050ff"/><rect x="522.02" y="74.57" width="0.81" height="0.62" fill="#3050ff"/><rect x="519.50" y="104.84" width="1.26" height="1.11" fill="#4070ff"/><rect x="526.14" y="99.18" width="0.72" height="1.15" fill="#d0e0ff"/><rect x="522.99" y="93.38" width="0.82" height="1.08" fill="#3050ff"/><rect x="521.79" y="72.08" width="1.35" height="0.98" fill="#80b0ff"/><rect x="517.44" y="106.09" width="0.65" height="1.12" fill="#4070ff"/><rect x="519.30" y="86.96" width="0.93" height="1.15" fill="#2040ff"/><rect x="516.92" y="96.19" width="1.35" height="1.18" fill="#4070ff"/><rect x="517.69" y="76.40" width="1.10" height="0.92" fill="#80b0ff"/><rect x="519.22" y="73.32" width="0.82" height="1.08" fill="#4070ff"/><rect x="516.98" y="116.70" width="1.19" height="0.93" fill="#3050ff"/><rect x="519.33" y="72.42" width="0.69" height="1.09" fill="#d0e0ff"/><rect x="520.49" y="85.77" width="1.38" height="0.78" fill="#d0e0ff"/><rect x="517.92" y="73.83" width="1.27" height="1.02" fill="#4070ff"/><rect x="520.48" y="96.98" width="1.39" height="1.10" fill="#80b0ff"/><rect x="519.28" y="62.78" width="0.94" height="0.63" fill="#80b0ff"/><rect x="520.34" y="98.59" width="1.14" height="0.77" fill="#2040ff"/><rect x="558.9" y="15.3" width="56.4" height="103.1" fill="url(#c2bg)"/><rect x="615.3" y="15.3" width="55.7" height="103.1" fill="url(#c2bg)"/><line x1="558.9" y1="73.4" x2="671" y2="73.4" stroke="#f8c890" stroke-width="0.8" opacity="0.7"/><line x1="558.9" y1="81" x2="671" y2="81" stroke="#f8c8a0" stroke-width="0.7" opacity="0.5"/><line x1="558.9" y1="85.4" x2="671" y2="85.4" stroke="#f0a070" stroke-width="1.5" opacity="0.9"/><line x1="558.9" y1="89.1" x2="671" y2="89.1" stroke="#f4b890" stroke-width="0.8" opacity="0.7"/><line x1="558.9" y1="92.5" x2="671" y2="92.5" stroke="#f6c8a8" stroke-width="0.6" opacity="0.5"/><line x1="558.9" y1="96.8" x2="671" y2="96.8" stroke="#f0a880" stroke-width="1.0" opacity="0.8"/><line x1="558.9" y1="99.6" x2="671" y2="99.6" stroke="#f6c4a0" stroke-width="0.8" opacity="0.6"/><line x1="558.9" y1="103" x2="671" y2="103" stroke="#f4c0a0" stroke-width="0.7" opacity="0.5"/><line x1="558.9" y1="114.7" x2="671" y2="114.7" stroke="#f6d0b0" stroke-width="0.6" opacity="0.5"/><line x1="558.9" y1="105.9" x2="671" y2="105.9" stroke="#f04020" stroke-width="1.3"/><line x1="558.9" y1="109.0" x2="615.3" y2="109.0" stroke="#5080f0" stroke-width="0.9"/><line x1="615.3" y1="109.0" x2="622" y2="109.0" stroke="#5080f0" stroke-width="0.9"/><line x1="637" y1="96.8" x2="652" y2="96.8" stroke="#5080f0" stroke-width="0.9" opacity="0.8"/><polygon points="572,15.3 580,15.3 585,112 586,118.4 570,118.4 571,112" fill="url(#cband)" opacity="0.55"/><polygon points="627,15.3 636,15.3 640,112 642,118.4 626,118.4" fill="url(#cband)" opacity="0.55"/><rect x="575.36" y="43.71" width="1.54" height="2.66" fill="#4d7cff" opacity="0.55"/><rect x="575.52" y="46.38" width="0.95" height="2.78" fill="#4d7cff" opacity="0.55"/><rect x="576.76" y="52.23" width="0.88" height="2.26" fill="#4d7cff" opacity="0.55"/><rect x="576.86" y="26.35" width="1.35" height="1.60" fill="#4d7cff" opacity="0.55"/><rect x="577.79" y="69.15" width="1.32" height="3.04" fill="#4d7cff" opacity="0.55"/><rect x="572.09" y="29.56" width="1.22" height="1.65" fill="#4d7cff" opacity="0.55"/><rect x="573.45" y="31.13" width="0.82" height="2.66" fill="#4d7cff" opacity="0.55"/><rect x="577.05" y="43.15" width="1.22" height="3.10" fill="#4d7cff" opacity="0.55"/><rect x="575.97" y="45.99" width="1.17" height="2.20" fill="#4d7cff" opacity="0.55"/><rect x="577.97" y="69.89" width="1.47" height="3.27" fill="#4d7cff" opacity="0.55"/><rect x="573.38" y="37.13" width="1.03" height="1.68" fill="#4d7cff" opacity="0.55"/><rect x="574.40" y="58.78" width="1.48" height="2.47" fill="#4d7cff" opacity="0.55"/><rect x="577.08" y="67.99" width="0.80" height="2.02" fill="#4d7cff" opacity="0.55"/><rect x="574.82" y="65.69" width="1.58" height="2.49" fill="#4d7cff" opacity="0.55"/><rect x="575.78" y="25.51" width="1.42" height="2.17" fill="#4d7cff" opacity="0.55"/><rect x="574.00" y="26.18" width="1.57" height="3.40" fill="#4d7cff" opacity="0.55"/><rect x="573.48" y="27.66" width="0.88" height="1.65" fill="#4d7cff" opacity="0.55"/><rect x="573.07" y="60.26" width="1.25" height="2.62" fill="#4d7cff" opacity="0.55"/><rect x="576.39" y="31.15" width="0.90" height="3.11" fill="#4d7cff" opacity="0.55"/><rect x="574.52" y="27.59" width="0.97" height="2.17" fill="#4d7cff" opacity="0.55"/><rect x="576.82" y="68.60" width="1.04" height="3.71" fill="#4d7cff" opacity="0.55"/><rect x="574.37" y="32.11" width="1.48" height="3.10" fill="#4d7cff" opacity="0.55"/><rect x="577.94" y="26.82" width="0.97" height="2.15" fill="#4d7cff" opacity="0.55"/><rect x="573.97" y="59.09" width="1.04" height="1.68" fill="#4d7cff" opacity="0.55"/><rect x="575.50" y="26.33" width="0.99" height="3.00" fill="#4d7cff" opacity="0.55"/><rect x="574.72" y="39.84" width="1.57" height="2.71" fill="#4d7cff" opacity="0.55"/><rect x="577.20" y="49.58" width="0.95" height="1.89" fill="#4d7cff" opacity="0.55"/><rect x="576.91" y="65.60" width="1.00" height="1.97" fill="#4d7cff" opacity="0.55"/><rect x="577.64" y="57.49" width="0.96" height="3.88" fill="#4d7cff" opacity="0.55"/><rect x="575.62" y="64.35" width="1.14" height="1.76" fill="#4d7cff" opacity="0.55"/><rect x="572.23" y="66.46" width="1.73" height="2.25" fill="#1530f0" opacity="0.95"/><rect x="574.52" y="66.40" width="2.09" height="2.02" fill="#1a3cff" opacity="0.95"/><rect x="572.76" y="65.98" width="2.31" height="2.14" fill="#1a3cff" opacity="0.95"/><rect x="573.68" y="66.42" width="1.69" height="1.42" fill="#1530f0" opacity="0.95"/><rect x="574.47" y="65.75" width="1.47" height="1.74" fill="#2a4cff" opacity="0.95"/><rect x="572.55" y="65.64" width="2.03" height="1.80" fill="#2a4cff" opacity="0.95"/><rect x="576.28" y="68.72" width="2.06" height="1.83" fill="#1530f0" opacity="0.95"/><rect x="578.98" y="67.82" width="2.29" height="1.98" fill="#1530f0" opacity="0.95"/><rect x="574.31" y="68.80" width="1.51" height="2.06" fill="#1a3cff" opacity="0.95"/><rect x="578.53" y="68.54" width="2.39" height="2.35" fill="#1530f0" opacity="0.95"/><rect x="574.55" y="68.49" width="2.66" height="2.45" fill="#3a60ff" opacity="0.95"/><rect x="578.85" y="67.83" width="2.10" height="1.42" fill="#3a60ff" opacity="0.95"/><rect x="575.23" y="70.11" width="1.50" height="1.51" fill="#1a3cff" opacity="0.95"/><rect x="580.45" y="70.98" width="2.42" height="1.87" fill="#3a60ff" opacity="0.95"/><rect x="575.75" y="70.94" width="1.52" height="2.30" fill="#1a3cff" opacity="0.95"/><rect x="574.64" y="70.19" width="1.43" height="2.55" fill="#1a3cff" opacity="0.95"/><rect x="576.23" y="70.71" width="2.69" height="1.71" fill="#1a3cff" opacity="0.95"/><rect x="575.13" y="70.24" width="2.26" height="2.02" fill="#1530f0" opacity="0.95"/><rect x="578.44" y="72.84" width="2.65" height="1.79" fill="#1530f0" opacity="0.95"/><rect x="573.94" y="72.83" width="2.53" height="2.50" fill="#2a4cff" opacity="0.95"/><rect x="575.75" y="72.98" width="1.84" height="1.56" fill="#3a60ff" opacity="0.95"/><rect x="575.42" y="73.30" width="1.46" height="1.48" fill="#1530f0" opacity="0.95"/><rect x="580.02" y="72.51" width="2.06" height="2.51" fill="#3a60ff" opacity="0.95"/><rect x="575.74" y="72.92" width="2.34" height="2.26" fill="#3a60ff" opacity="0.95"/><rect x="575.53" y="75.53" width="1.79" height="2.13" fill="#1530f0" opacity="0.95"/><rect x="578.29" y="75.01" width="2.51" height="1.42" fill="#2a4cff" opacity="0.95"/><rect x="576.46" y="74.89" width="2.48" height="1.72" fill="#2a4cff" opacity="0.95"/><rect x="580.78" y="75.68" width="1.56" height="1.53" fill="#1530f0" opacity="0.95"/><rect x="582.56" y="75.38" width="1.68" height="1.97" fill="#2a4cff" opacity="0.95"/><rect x="579.87" y="75.46" width="2.15" height="1.44" fill="#2a4cff" opacity="0.95"/><rect x="575.34" y="77.35" width="2.38" height="2.02" fill="#2a4cff" opacity="0.95"/><rect x="576.83" y="77.79" width="2.67" height="1.50" fill="#3a60ff" opacity="0.95"/><rect x="573.59" y="77.45" width="2.28" height="2.49" fill="#3a60ff" opacity="0.95"/><rect x="578.75" y="77.65" width="2.10" height="2.38" fill="#1530f0" opacity="0.95"/><rect x="577.69" y="77.65" width="1.69" height="2.27" fill="#1a3cff" opacity="0.95"/><rect x="574.62" y="77.90" width="2.77" height="2.57" fill="#1530f0" opacity="0.95"/><rect x="575.54" y="80.02" width="1.42" height="2.01" fill="#1a3cff" opacity="0.95"/><rect x="577.96" y="79.85" width="2.48" height="1.98" fill="#1a3cff" opacity="0.95"/><rect x="574.95" y="80.17" width="2.00" height="1.44" fill="#1530f0" opacity="0.95"/><rect x="581.29" y="80.22" width="2.06" height="2.60" fill="#3a60ff" opacity="0.95"/><rect x="584.79" y="79.79" width="2.73" height="1.50" fill="#2a4cff" opacity="0.95"/><rect x="577.94" y="79.86" width="2.56" height="2.07" fill="#2a4cff" opacity="0.95"/><rect x="579.73" y="82.44" width="2.18" height="1.77" fill="#3a60ff" opacity="0.95"/><rect x="586.11" y="82.47" width="2.25" height="1.77" fill="#2a4cff" opacity="0.95"/><rect x="586.32" y="82.12" width="2.20" height="1.64" fill="#1a3cff" opacity="0.95"/><rect x="579.44" y="82.21" width="1.44" height="2.56" fill="#3a60ff" opacity="0.95"/><rect x="580.04" y="82.59" width="1.57" height="1.51" fill="#2a4cff" opacity="0.95"/><rect x="572.97" y="82.14" width="1.98" height="2.55" fill="#3a60ff" opacity="0.95"/><rect x="576.32" y="84.37" width="1.58" height="1.92" fill="#3a60ff" opacity="0.95"/><rect x="580.42" y="84.01" width="1.99" height="1.44" fill="#1530f0" opacity="0.95"/><rect x="574.08" y="84.68" width="1.43" height="1.63" fill="#2a4cff" opacity="0.95"/><rect x="572.19" y="84.18" width="2.41" height="1.69" fill="#3a60ff" opacity="0.95"/><rect x="573.68" y="84.63" width="1.57" height="2.01" fill="#1530f0" opacity="0.95"/><rect x="583.51" y="84.60" width="2.63" height="1.43" fill="#3a60ff" opacity="0.95"/><rect x="586.27" y="86.82" width="2.15" height="2.44" fill="#2a4cff" opacity="0.95"/><rect x="581.16" y="87.05" width="2.26" height="2.43" fill="#2a4cff" opacity="0.95"/><rect x="587.82" y="86.83" width="1.89" height="1.62" fill="#1530f0" opacity="0.95"/><rect x="587.40" y="86.39" width="2.49" height="1.63" fill="#1a3cff" opacity="0.95"/><rect x="574.32" y="86.44" width="2.42" height="1.71" fill="#1a3cff" opacity="0.95"/><rect x="579.52" y="87.14" width="2.16" height="2.25" fill="#2a4cff" opacity="0.95"/><rect x="579.25" y="89.19" width="1.42" height="1.64" fill="#1530f0" opacity="0.95"/><rect x="588.40" y="89.47" width="1.56" height="2.01" fill="#1530f0" opacity="0.95"/><rect x="581.05" y="89.19" width="1.66" height="1.48" fill="#1a3cff" opacity="0.95"/><rect x="572.44" y="89.26" width="2.26" height="2.49" fill="#3a60ff" opacity="0.95"/><rect x="574.64" y="88.68" width="1.69" height="2.41" fill="#1530f0" opacity="0.95"/><rect x="588.68" y="88.60" width="1.49" height="2.54" fill="#3a60ff" opacity="0.95"/><rect x="573.40" y="90.90" width="1.95" height="1.91" fill="#1530f0" opacity="0.95"/><rect x="579.74" y="91.40" width="1.42" height="2.24" fill="#2a4cff" opacity="0.95"/><rect x="575.26" y="91.25" width="2.44" height="1.89" fill="#2a4cff" opacity="0.95"/><rect x="582.89" y="90.89" width="2.51" height="1.79" fill="#1a3cff" opacity="0.95"/><rect x="586.43" y="91.50" width="2.61" height="2.16" fill="#3a60ff" opacity="0.95"/><rect x="582.25" y="90.99" width="2.22" height="1.81" fill="#1530f0" opacity="0.95"/><rect x="577.03" y="93.22" width="2.44" height="1.59" fill="#3a60ff" opacity="0.95"/><rect x="574.40" y="93.43" width="2.15" height="1.84" fill="#3a60ff" opacity="0.95"/><rect x="585.77" y="93.51" width="2.41" height="1.48" fill="#1530f0" opacity="0.95"/><rect x="577.43" y="93.20" width="2.64" height="2.59" fill="#1a3cff" opacity="0.95"/><rect x="576.18" y="94.04" width="2.33" height="1.81" fill="#3a60ff" opacity="0.95"/><rect x="582.25" y="93.63" width="1.95" height="2.60" fill="#2a4cff" opacity="0.95"/><rect x="584.62" y="96.16" width="2.77" height="1.43" fill="#1a3cff" opacity="0.95"/><rect x="585.30" y="95.66" width="1.96" height="1.46" fill="#2a4cff" opacity="0.95"/><rect x="583.66" y="95.41" width="1.76" height="1.73" fill="#1530f0" opacity="0.95"/><rect x="581.90" y="95.91" width="2.75" height="2.08" fill="#1a3cff" opacity="0.95"/><rect x="583.48" y="96.21" width="1.51" height="2.12" fill="#1a3cff" opacity="0.95"/><rect x="578.96" y="96.34" width="1.94" height="2.56" fill="#3a60ff" opacity="0.95"/><rect x="581.69" y="98.30" width="2.00" height="1.99" fill="#1530f0" opacity="0.95"/><rect x="581.42" y="98.30" width="1.91" height="1.74" fill="#1530f0" opacity="0.95"/><rect x="582.02" y="97.98" width="2.40" height="1.76" fill="#1a3cff" opacity="0.95"/><rect x="585.81" y="98.29" width="2.29" height="1.89" fill="#3a60ff" opacity="0.95"/><rect x="572.94" y="98.02" width="1.96" height="2.10" fill="#1530f0" opacity="0.95"/><rect x="573.31" y="98.61" width="2.00" height="1.97" fill="#2a4cff" opacity="0.95"/><rect x="572.75" y="100.10" width="2.53" height="2.49" fill="#2a4cff" opacity="0.95"/><rect x="588.15" y="100.82" width="2.25" height="1.54" fill="#3a60ff" opacity="0.95"/><rect x="579.52" y="100.20" width="1.47" height="2.03" fill="#1a3cff" opacity="0.95"/><rect x="577.99" y="100.14" width="1.98" height="2.12" fill="#3a60ff" opacity="0.95"/><rect x="578.01" y="100.74" width="2.54" height="1.56" fill="#1530f0" opacity="0.95"/><rect x="584.12" y="100.24" width="1.56" height="2.47" fill="#1530f0" opacity="0.95"/><rect x="576.15" y="102.91" width="2.42" height="2.24" fill="#2a4cff" opacity="0.95"/><rect x="581.57" y="103.05" width="1.67" height="1.70" fill="#2a4cff" opacity="0.95"/><rect x="585.29" y="102.34" width="1.49" height="1.73" fill="#3a60ff" opacity="0.95"/><rect x="572.41" y="102.34" width="1.71" height="1.73" fill="#1a3cff" opacity="0.95"/><rect x="585.80" y="102.46" width="1.73" height="2.58" fill="#3a60ff" opacity="0.95"/><rect x="579.24" y="102.51" width="1.88" height="2.29" fill="#1a3cff" opacity="0.95"/><rect x="583.02" y="105.05" width="2.55" height="2.41" fill="#2a4cff" opacity="0.95"/><rect x="578.11" y="105.35" width="1.95" height="1.58" fill="#2a4cff" opacity="0.95"/><rect x="580.98" y="105.59" width="1.86" height="2.06" fill="#2a4cff" opacity="0.95"/><rect x="577.88" y="104.97" width="1.54" height="2.45" fill="#1a3cff" opacity="0.95"/><rect x="579.47" y="105.03" width="2.20" height="2.38" fill="#3a60ff" opacity="0.95"/><rect x="576.11" y="105.38" width="1.51" height="1.66" fill="#1a3cff" opacity="0.95"/><rect x="580.59" y="107.39" width="2.47" height="1.79" fill="#2a4cff" opacity="0.95"/><rect x="574.70" y="107.56" width="1.86" height="2.49" fill="#1530f0" opacity="0.95"/><rect x="580.77" y="107.47" width="2.69" height="2.53" fill="#1530f0" opacity="0.95"/><rect x="577.41" y="107.70" width="1.83" height="1.78" fill="#3a60ff" opacity="0.95"/><rect x="583.96" y="107.63" width="2.12" height="1.50" fill="#1530f0" opacity="0.95"/><rect x="572.30" y="107.58" width="2.22" height="2.36" fill="#1530f0" opacity="0.95"/><rect x="572.62" y="103.48" width="1" height="1.2" fill="#f04020" opacity="0.8"/><rect x="572.69" y="105.13" width="1" height="1.2" fill="#f04020" opacity="0.8"/><rect x="573.28" y="77.42" width="1" height="1.2" fill="#f04020" opacity="0.8"/><rect x="571.84" y="107.00" width="1" height="1.2" fill="#f04020" opacity="0.8"/><rect x="572.55" y="70.93" width="1" height="1.2" fill="#f04020" opacity="0.8"/><rect x="572.70" y="92.85" width="1" height="1.2" fill="#f04020" opacity="0.8"/><rect x="572.95" y="110.59" width="1" height="1.2" fill="#f04020" opacity="0.8"/><rect x="571.19" y="103.78" width="1" height="1.2" fill="#f04020" opacity="0.8"/><rect x="573.36" y="92.97" width="1" height="1.2" fill="#f04020" opacity="0.8"/><rect x="571.25" y="73.53" width="1" height="1.2" fill="#f04020" opacity="0.8"/><rect x="573.70" y="100.96" width="1" height="1.2" fill="#f04020" opacity="0.8"/><rect x="572.90" y="73.56" width="1" height="1.2" fill="#f04020" opacity="0.8"/><rect x="573.24" y="76.04" width="1" height="1.2" fill="#f04020" opacity="0.8"/><rect x="571.74" y="97.26" width="1" height="1.2" fill="#f04020" opacity="0.8"/><rect x="573.30" y="79.26" width="1" height="1.2" fill="#f04020" opacity="0.8"/><rect x="573.29" y="91.91" width="1" height="1.2" fill="#f04020" opacity="0.8"/><rect x="630.83" y="40.93" width="1.57" height="3.18" fill="#4d7cff" opacity="0.55"/><rect x="632.02" y="45.70" width="1.38" height="3.27" fill="#4d7cff" opacity="0.55"/><rect x="631.26" y="65.92" width="1.46" height="3.17" fill="#4d7cff" opacity="0.55"/><rect x="633.64" y="62.97" width="1.47" height="3.72" fill="#4d7cff" opacity="0.55"/><rect x="632.64" y="67.97" width="1.22" height="3.28" fill="#4d7cff" opacity="0.55"/><rect x="631.33" y="60.51" width="1.14" height="1.87" fill="#4d7cff" opacity="0.55"/><rect x="634.75" y="57.58" width="1.10" height="1.92" fill="#4d7cff" opacity="0.55"/><rect x="631.35" y="31.81" width="1.03" height="3.92" fill="#4d7cff" opacity="0.55"/><rect x="630.65" y="24.84" width="0.89" height="3.12" fill="#4d7cff" opacity="0.55"/><rect x="629.88" y="59.24" width="0.85" height="2.65" fill="#4d7cff" opacity="0.55"/><rect x="634.26" y="50.04" width="0.83" height="1.77" fill="#4d7cff" opacity="0.55"/><rect x="630.10" y="30.86" width="0.99" height="3.29" fill="#4d7cff" opacity="0.55"/><rect x="630.14" y="50.55" width="0.95" height="2.20" fill="#4d7cff" opacity="0.55"/><rect x="633.35" y="30.28" width="1.05" height="2.87" fill="#4d7cff" opacity="0.55"/><rect x="631.68" y="61.22" width="1.01" height="3.72" fill="#4d7cff" opacity="0.55"/><rect x="630.85" y="65.88" width="1.24" height="3.89" fill="#4d7cff" opacity="0.55"/><rect x="630.13" y="45.17" width="0.84" height="3.87" fill="#4d7cff" opacity="0.55"/><rect x="631.11" y="60.47" width="1.22" height="2.79" fill="#4d7cff" opacity="0.55"/><rect x="634.74" y="35.18" width="1.33" height="2.09" fill="#4d7cff" opacity="0.55"/><rect x="631.64" y="22.52" width="1.10" height="3.49" fill="#4d7cff" opacity="0.55"/><rect x="632.44" y="56.24" width="0.93" height="1.89" fill="#4d7cff" opacity="0.55"/><rect x="630.36" y="37.45" width="1.50" height="2.79" fill="#4d7cff" opacity="0.55"/><rect x="634.76" y="52.57" width="1.01" height="2.84" fill="#4d7cff" opacity="0.55"/><rect x="633.42" y="29.23" width="0.80" height="3.55" fill="#4d7cff" opacity="0.55"/><rect x="633.73" y="62.62" width="0.87" height="2.17" fill="#4d7cff" opacity="0.55"/><rect x="629.38" y="56.39" width="1.18" height="2.67" fill="#4d7cff" opacity="0.55"/><rect x="632.32" y="67.86" width="1.49" height="2.26" fill="#4d7cff" opacity="0.55"/><rect x="633.54" y="65.92" width="2.68" height="1.51" fill="#3a60ff" opacity="0.95"/><rect x="630.05" y="66.04" width="2.14" height="1.59" fill="#1530f0" opacity="0.95"/><rect x="630.70" y="65.91" width="2.18" height="2.60" fill="#1a3cff" opacity="0.95"/><rect x="630.96" y="66.19" width="1.55" height="1.87" fill="#3a60ff" opacity="0.95"/><rect x="633.28" y="66.28" width="1.57" height="1.93" fill="#3a60ff" opacity="0.95"/><rect x="633.07" y="65.98" width="1.81" height="1.54" fill="#1a3cff" opacity="0.95"/><rect x="634.65" y="68.64" width="2.41" height="2.48" fill="#2a4cff" opacity="0.95"/><rect x="630.79" y="68.18" width="2.16" height="1.76" fill="#1530f0" opacity="0.95"/><rect x="633.96" y="68.36" width="1.52" height="1.63" fill="#3a60ff" opacity="0.95"/><rect x="633.80" y="68.13" width="2.72" height="2.08" fill="#1530f0" opacity="0.95"/><rect x="631.85" y="68.18" width="1.54" height="2.15" fill="#2a4cff" opacity="0.95"/><rect x="633.43" y="68.51" width="1.65" height="1.88" fill="#3a60ff" opacity="0.95"/><rect x="633.35" y="70.19" width="1.72" height="1.59" fill="#1a3cff" opacity="0.95"/><rect x="632.13" y="70.87" width="1.88" height="2.39" fill="#2a4cff" opacity="0.95"/><rect x="633.77" y="70.87" width="2.55" height="1.86" fill="#1530f0" opacity="0.95"/><rect x="635.87" y="70.72" width="2.42" height="2.14" fill="#1530f0" opacity="0.95"/><rect x="636.33" y="70.89" width="2.32" height="2.13" fill="#1a3cff" opacity="0.95"/><rect x="630.80" y="70.29" width="1.83" height="1.93" fill="#3a60ff" opacity="0.95"/><rect x="630.54" y="72.73" width="1.81" height="1.52" fill="#2a4cff" opacity="0.95"/><rect x="630.96" y="72.94" width="1.82" height="1.68" fill="#2a4cff" opacity="0.95"/><rect x="633.69" y="72.60" width="2.71" height="2.60" fill="#2a4cff" opacity="0.95"/><rect x="633.63" y="72.43" width="2.32" height="2.33" fill="#2a4cff" opacity="0.95"/><rect x="630.88" y="72.98" width="2.38" height="1.80" fill="#1530f0" opacity="0.95"/><rect x="631.06" y="73.28" width="2.03" height="2.28" fill="#2a4cff" opacity="0.95"/><rect x="637.25" y="75.24" width="2.19" height="2.07" fill="#1530f0" opacity="0.95"/><rect x="630.38" y="75.45" width="2.66" height="1.80" fill="#2a4cff" opacity="0.95"/><rect x="629.95" y="75.52" width="1.80" height="2.48" fill="#2a4cff" opacity="0.95"/><rect x="635.89" y="75.06" width="1.63" height="2.12" fill="#1a3cff" opacity="0.95"/><rect x="633.05" y="75.10" width="2.50" height="2.52" fill="#2a4cff" opacity="0.95"/><rect x="631.68" y="75.37" width="2.43" height="1.86" fill="#1a3cff" opacity="0.95"/><rect x="630.41" y="77.41" width="1.45" height="2.03" fill="#1a3cff" opacity="0.95"/><rect x="634.60" y="77.17" width="2.13" height="1.72" fill="#1530f0" opacity="0.95"/><rect x="629.34" y="77.78" width="2.41" height="2.35" fill="#3a60ff" opacity="0.95"/><rect x="638.57" y="77.60" width="2.06" height="1.89" fill="#3a60ff" opacity="0.95"/><rect x="636.45" y="77.49" width="2.79" height="2.41" fill="#3a60ff" opacity="0.95"/><rect x="637.20" y="77.12" width="1.56" height="2.53" fill="#1530f0" opacity="0.95"/><rect x="634.58" y="79.73" width="2.67" height="1.78" fill="#1a3cff" opacity="0.95"/><rect x="632.06" y="79.92" width="2.01" height="1.85" fill="#1530f0" opacity="0.95"/><rect x="637.08" y="79.60" width="2.23" height="1.48" fill="#1a3cff" opacity="0.95"/><rect x="638.10" y="79.54" width="2.62" height="2.57" fill="#3a60ff" opacity="0.95"/><rect x="636.46" y="79.83" width="1.73" height="1.77" fill="#3a60ff" opacity="0.95"/><rect x="639.16" y="80.18" width="2.80" height="2.28" fill="#1530f0" opacity="0.95"/><rect x="639.07" y="82.02" width="2.53" height="1.67" fill="#3a60ff" opacity="0.95"/><rect x="635.52" y="82.50" width="1.54" height="2.35" fill="#1a3cff" opacity="0.95"/><rect x="639.26" y="82.18" width="2.03" height="1.76" fill="#1530f0" opacity="0.95"/><rect x="629.08" y="81.77" width="2.02" height="1.94" fill="#3a60ff" opacity="0.95"/><rect x="630.47" y="82.29" width="1.72" height="1.77" fill="#3a60ff" opacity="0.95"/><rect x="639.45" y="81.91" width="2.10" height="2.52" fill="#3a60ff" opacity="0.95"/><rect x="639.95" y="84.10" width="2.60" height="2.23" fill="#1a3cff" opacity="0.95"/><rect x="631.28" y="84.74" width="1.90" height="1.97" fill="#2a4cff" opacity="0.95"/><rect x="636.86" y="84.60" width="2.18" height="2.04" fill="#2a4cff" opacity="0.95"/><rect x="631.23" y="84.78" width="1.47" height="1.53" fill="#1530f0" opacity="0.95"/><rect x="641.00" y="84.17" width="1.99" height="2.45" fill="#1530f0" opacity="0.95"/><rect x="637.63" y="84.84" width="2.02" height="1.49" fill="#2a4cff" opacity="0.95"/><rect x="640.45" y="86.32" width="2.37" height="1.72" fill="#2a4cff" opacity="0.95"/><rect x="635.58" y="86.50" width="1.78" height="2.36" fill="#1a3cff" opacity="0.95"/><rect x="636.78" y="86.43" width="1.82" height="2.51" fill="#2a4cff" opacity="0.95"/><rect x="632.54" y="86.84" width="1.53" height="2.58" fill="#3a60ff" opacity="0.95"/><rect x="641.21" y="86.27" width="2.67" height="1.41" fill="#1530f0" opacity="0.95"/><rect x="636.07" y="86.62" width="2.20" height="1.60" fill="#2a4cff" opacity="0.95"/><rect x="632.24" y="88.78" width="2.17" height="1.62" fill="#2a4cff" opacity="0.95"/><rect x="642.63" y="88.53" width="2.05" height="2.30" fill="#3a60ff" opacity="0.95"/><rect x="628.84" y="89.39" width="1.48" height="1.48" fill="#1530f0" opacity="0.95"/><rect x="633.29" y="88.98" width="1.44" height="1.75" fill="#2a4cff" opacity="0.95"/><rect x="637.11" y="89.27" width="1.56" height="1.92" fill="#3a60ff" opacity="0.95"/><rect x="636.47" y="88.76" width="2.40" height="2.27" fill="#1530f0" opacity="0.95"/><rect x="635.65" y="91.02" width="2.21" height="2.00" fill="#1a3cff" opacity="0.95"/><rect x="631.64" y="91.77" width="1.47" height="1.94" fill="#2a4cff" opacity="0.95"/><rect x="633.35" y="91.41" width="2.25" height="2.37" fill="#3a60ff" opacity="0.95"/><rect x="638.92" y="91.66" width="1.44" height="1.54" fill="#2a4cff" opacity="0.95"/><rect x="636.76" y="91.34" width="2.51" height="1.69" fill="#2a4cff" opacity="0.95"/><rect x="629.56" y="91.23" width="2.37" height="2.38" fill="#1530f0" opacity="0.95"/><rect x="639.51" y="93.60" width="2.31" height="2.01" fill="#3a60ff" opacity="0.95"/><rect x="632.37" y="93.26" width="2.37" height="2.40" fill="#3a60ff" opacity="0.95"/><rect x="629.66" y="93.51" width="1.91" height="1.66" fill="#1a3cff" opacity="0.95"/><rect x="630.60" y="93.86" width="2.24" height="1.56" fill="#3a60ff" opacity="0.95"/><rect x="636.10" y="94.09" width="1.40" height="1.89" fill="#2a4cff" opacity="0.95"/><rect x="630.08" y="93.66" width="2.06" height="2.52" fill="#1a3cff" opacity="0.95"/><rect x="638.32" y="96.12" width="2.77" height="2.13" fill="#1530f0" opacity="0.95"/><rect x="632.34" y="95.95" width="1.74" height="1.95" fill="#2a4cff" opacity="0.95"/><rect x="633.90" y="95.74" width="2.77" height="2.13" fill="#1a3cff" opacity="0.95"/><rect x="631.05" y="95.99" width="2.79" height="2.28" fill="#2a4cff" opacity="0.95"/><rect x="635.28" y="95.79" width="2.58" height="1.86" fill="#1a3cff" opacity="0.95"/><rect x="631.82" y="95.75" width="1.66" height="2.06" fill="#2a4cff" opacity="0.95"/><rect x="635.47" y="98.10" width="2.23" height="2.31" fill="#3a60ff" opacity="0.95"/><rect x="635.01" y="98.69" width="2.35" height="2.44" fill="#2a4cff" opacity="0.95"/><rect x="636.30" y="98.12" width="1.47" height="1.73" fill="#1530f0" opacity="0.95"/><rect x="637.42" y="98.22" width="2.44" height="2.01" fill="#2a4cff" opacity="0.95"/><rect x="632.53" y="98.06" width="1.61" height="2.52" fill="#1530f0" opacity="0.95"/><rect x="630.70" y="97.94" width="2.58" height="1.54" fill="#1530f0" opacity="0.95"/><rect x="639.29" y="100.45" width="2.60" height="1.86" fill="#1530f0" opacity="0.95"/><rect x="638.43" y="100.52" width="1.48" height="1.87" fill="#2a4cff" opacity="0.95"/><rect x="634.91" y="100.19" width="2.12" height="1.55" fill="#2a4cff" opacity="0.95"/><rect x="632.70" y="100.42" width="2.16" height="1.56" fill="#1530f0" opacity="0.95"/><rect x="632.72" y="100.45" width="1.93" height="2.46" fill="#1530f0" opacity="0.95"/><rect x="635.49" y="100.45" width="1.59" height="2.02" fill="#1530f0" opacity="0.95"/><rect x="631.31" y="102.59" width="1.88" height="1.66" fill="#1a3cff" opacity="0.95"/><rect x="638.23" y="103.05" width="2.08" height="1.41" fill="#1530f0" opacity="0.95"/><rect x="636.14" y="102.37" width="2.59" height="2.07" fill="#1530f0" opacity="0.95"/><rect x="636.21" y="103.26" width="2.62" height="1.68" fill="#1530f0" opacity="0.95"/><rect x="629.80" y="102.73" width="1.95" height="1.47" fill="#3a60ff" opacity="0.95"/><rect x="639.15" y="102.58" width="2.38" height="1.67" fill="#3a60ff" opacity="0.95"/><rect x="630.77" y="105.37" width="1.89" height="2.25" fill="#1a3cff" opacity="0.95"/><rect x="636.03" y="105.51" width="2.53" height="1.97" fill="#1530f0" opacity="0.95"/><rect x="635.63" y="105.15" width="2.38" height="1.43" fill="#3a60ff" opacity="0.95"/><rect x="629.97" y="105.51" width="2.68" height="1.73" fill="#3a60ff" opacity="0.95"/><rect x="633.63" y="105.19" width="2.06" height="1.79" fill="#1530f0" opacity="0.95"/><rect x="629.50" y="104.64" width="1.85" height="1.85" fill="#1530f0" opacity="0.95"/><rect x="630.99" y="107.57" width="1.66" height="1.96" fill="#1530f0" opacity="0.95"/><rect x="636.78" y="107.26" width="2.21" height="2.53" fill="#1a3cff" opacity="0.95"/><rect x="634.04" y="107.52" width="1.98" height="1.90" fill="#1530f0" opacity="0.95"/><rect x="629.37" y="107.36" width="2.03" height="2.56" fill="#3a60ff" opacity="0.95"/><rect x="629.12" y="107.04" width="2.11" height="1.77" fill="#1530f0" opacity="0.95"/><rect x="632.75" y="106.92" width="2.25" height="1.72" fill="#1530f0" opacity="0.95"/><rect x="628.50" y="98.57" width="1" height="1.2" fill="#f04020" opacity="0.8"/><rect x="629.43" y="70.04" width="1" height="1.2" fill="#f04020" opacity="0.8"/><rect x="628.52" y="86.54" width="1" height="1.2" fill="#f04020" opacity="0.8"/><rect x="629.75" y="90.73" width="1" height="1.2" fill="#f04020" opacity="0.8"/><rect x="629.67" y="93.02" width="1" height="1.2" fill="#f04020" opacity="0.8"/><rect x="630.29" y="93.55" width="1" height="1.2" fill="#f04020" opacity="0.8"/><rect x="628.80" y="110.69" width="1" height="1.2" fill="#f04020" opacity="0.8"/><rect x="630.46" y="84.56" width="1" height="1.2" fill="#f04020" opacity="0.8"/><rect x="629.95" y="83.16" width="1" height="1.2" fill="#f04020" opacity="0.8"/><rect x="629.86" y="99.21" width="1" height="1.2" fill="#f04020" opacity="0.8"/><rect x="630.27" y="110.48" width="1" height="1.2" fill="#f04020" opacity="0.8"/><rect x="629.66" y="76.70" width="1" height="1.2" fill="#f04020" opacity="0.8"/><rect x="629.49" y="90.61" width="1" height="1.2" fill="#f04020" opacity="0.8"/><rect x="628.66" y="85.52" width="1" height="1.2" fill="#f04020" opacity="0.8"/><rect x="629.40" y="101.46" width="1" height="1.2" fill="#f04020" opacity="0.8"/><rect x="628.55" y="79.96" width="1" height="1.2" fill="#f04020" opacity="0.8"/><rect x="626.8" y="15.3" width="4.4" height="103.1" fill="#f8a080" opacity="0.55"/><rect x="628" y="15.3" width="1.6" height="103.1" fill="#f03818"/><ellipse cx="631" cy="43" rx="1.5" ry="3" fill="#f04020" opacity="0.8"/><ellipse cx="638" cy="103" rx="1.2" ry="2.5" fill="#f04020" opacity="0.8"/><line x1="583" y1="71.5" x2="591" y2="71.5" stroke="#f05030" stroke-width="0.8" opacity="0.7"/><line x1="503.1" y1="15.3" x2="671" y2="15.3" stroke="#404040" stroke-width="0.6"/><line x1="615.3" y1="15.3" x2="615.3" y2="118.4" stroke="#6070a8" stroke-width="0.6"/><line x1="671" y1="15.3" x2="671" y2="118.4" stroke="#909090" stroke-width="0.4"/><line x1="503.1" y1="118.4" x2="671" y2="118.4" stroke="#c0c0c0" stroke-width="0.3"/><text x="503.60" y="13.90" font-family="Liberation Sans" font-size="2.8" text-anchor="start" fill="#333">control-2</text><text x="559.40" y="13.90" font-family="Liberation Sans" font-size="2.8" text-anchor="start" fill="#333">FH-2</text><text x="615.80" y="13.90" font-family="Liberation Sans" font-size="2.8" text-anchor="start" fill="#333">FS-2</text><text x="502.20" y="21.40" font-family="Liberation Sans" font-size="2.5" text-anchor="end" fill="#555">200</text><text x="502.20" y="24.00" font-family="Liberation Sans" font-size="2.5" text-anchor="end" fill="#555">(7.33)</text><text x="502.20" y="45.00" font-family="Liberation Sans" font-size="2.5" text-anchor="end" fill="#555">150</text><text x="502.20" y="47.60" font-family="Liberation Sans" font-size="2.5" text-anchor="end" fill="#555">(5.60)</text><text x="502.20" y="70.00" font-family="Liberation Sans" font-size="2.5" text-anchor="end" fill="#555">100</text><text x="502.20" y="72.60" font-family="Liberation Sans" font-size="2.5" text-anchor="end" fill="#555">(4.03)</text><text x="502.20" y="96.30" font-family="Liberation Sans" font-size="2.5" text-anchor="end" fill="#555">50</text><text x="502.20" y="98.90" font-family="Liberation Sans" font-size="2.5" text-anchor="end" fill="#555">(2.32)</text><text transform="translate(492.5,95) rotate(-90)" font-family="Liberation Sans" font-size="2.8" fill="#333">Retention time (s) [RT index]</text><text x="508.10" y="121.40" font-family="Liberation Sans" font-size="2.2" text-anchor="middle" fill="#555">2.0</text><text x="513.40" y="121.40" font-family="Liberation Sans" font-size="2.2" text-anchor="middle" fill="#555">1.0</text><text x="518.70" y="121.40" font-family="Liberation Sans" font-size="2.2" text-anchor="middle" fill="#555">6.0</text><text x="524.00" y="121.40" font-family="Liberation Sans" font-size="2.2" text-anchor="middle" fill="#555">8.0</text><text x="529.30" y="121.40" font-family="Liberation Sans" font-size="2.2" text-anchor="middle" fill="#555">10.0</text><text x="534.60" y="121.40" font-family="Liberation Sans" font-size="2.2" text-anchor="middle" fill="#555">12.0</text><text x="539.90" y="121.40" font-family="Liberation Sans" font-size="2.2" text-anchor="middle" fill="#555">14.0</text><text x="545.20" y="121.40" font-family="Liberation Sans" font-size="2.2" text-anchor="middle" fill="#555">16.0</text><text x="550.50" y="121.40" font-family="Liberation Sans" font-size="2.2" text-anchor="middle" fill="#555">18.0</text><text x="555.80" y="121.40" font-family="Liberation Sans" font-size="2.2" text-anchor="middle" fill="#555">20.0</text><text x="563.90" y="121.40" font-family="Liberation Sans" font-size="2.2" text-anchor="middle" fill="#555">2.0</text><text x="569.20" y="121.40" font-family="Liberation Sans" font-size="2.2" text-anchor="middle" fill="#555">1.0</text><text x="574.50" y="121.40" font-family="Liberation Sans" font-size="2.2" text-anchor="middle" fill="#555">6.0</text><text x="579.80" y="121.40" font-family="Liberation Sans" font-size="2.2" text-anchor="middle" fill="#555">8.0</text><text x="585.10" y="121.40" font-family="Liberation Sans" font-size="2.2" text-anchor="middle" fill="#555">10.0</text><text x="590.40" y="121.40" font-family="Liberation Sans" font-size="2.2" text-anchor="middle" fill="#555">12.0</text><text x="595.70" y="121.40" font-family="Liberation Sans" font-size="2.2" text-anchor="middle" fill="#555">14.0</text><text x="601.00" y="121.40" font-family="Liberation Sans" font-size="2.2" text-anchor="middle" fill="#555">16.0</text><text x="606.30" y="121.40" font-family="Liberation Sans" font-size="2.2" text-anchor="middle" fill="#555">18.0</text><text x="611.60" y="121.40" font-family="Liberation Sans" font-size="2.2" text-anchor="middle" fill="#555">20.0</text><text x="620.30" y="121.40" font-family="Liberation Sans" font-size="2.2" text-anchor="middle" fill="#555">2.0</text><text x="625.60" y="121.40" font-family="Liberation Sans" font-size="2.2" text-anchor="middle" fill="#555">1.0</text><text x="630.90" y="121.40" font-family="Liberation Sans" font-size="2.2" text-anchor="middle" fill="#555">6.0</text><text x="636.20" y="121.40" font-family="Liberation Sans" font-size="2.2" text-anchor="middle" fill="#555">8.0</text><text x="641.50" y="121.40" font-family="Liberation Sans" font-size="2.2" text-anchor="middle" fill="#555">10.0</text><text x="646.80" y="121.40" font-family="Liberation Sans" font-size="2.2" text-anchor="middle" fill="#555">12.0</text><text x="652.10" y="121.40" font-family="Liberation Sans" font-size="2.2" text-anchor="middle" fill="#555">14.0</text><text x="657.40" y="121.40" font-family="Liberation Sans" font-size="2.2" text-anchor="middle" fill="#555">16.0</text><text x="662.70" y="121.40" font-family="Liberation Sans" font-size="2.2" text-anchor="middle" fill="#555">18.0</text><text x="668.00" y="121.40" font-family="Liberation Sans" font-size="2.2" text-anchor="middle" fill="#555">20.0</text><text x="578.00" y="127.80" font-family="Liberation Sans" font-size="2.8" text-anchor="middle" fill="#333">drift time (ms)</text><rect x="110.20" y="170.00" width="425.00" height="57.20" fill="#10107a"/><rect x="110.20" y="170.00" width="7.51" height="6.41" fill="url(#g0)"/><rect x="110.20" y="176.36" width="7.51" height="6.41" fill="url(#g0)"/><rect x="110.20" y="182.71" width="7.51" height="6.41" fill="url(#g0)"/><rect x="110.20" y="189.07" width="7.51" height="6.41" fill="url(#g1)"/><rect x="110.20" y="195.42" width="7.51" height="6.41" fill="url(#g1)"/><rect x="110.20" y="201.78" width="7.51" height="6.41" fill="url(#g1)"/><rect x="110.20" y="208.13" width="7.51" height="6.41" fill="url(#g2)"/><rect x="110.20" y="214.49" width="7.51" height="6.41" fill="url(#g2)"/><rect x="110.20" y="220.84" width="7.51" height="6.41" fill="url(#g2)"/><rect x="117.66" y="170.00" width="7.51" height="6.41" fill="url(#g3)"/><rect x="117.66" y="176.36" width="7.51" height="6.41" fill="url(#g3)"/><rect x="117.66" y="182.71" width="7.51" height="6.41" fill="url(#g3)"/><rect x="117.66" y="189.07" width="7.51" height="6.41" fill="url(#g4)"/><rect x="117.66" y="195.42" width="7.51" height="6.41" fill="url(#g4)"/><rect x="117.66" y="201.78" width="7.51" height="6.41" fill="url(#g4)"/><rect x="117.66" y="208.13" width="7.51" height="6.41" fill="url(#g5)"/><rect x="117.66" y="214.49" width="7.51" height="6.41" fill="url(#g5)"/><rect x="117.66" y="220.84" width="7.51" height="6.41" fill="url(#g5)"/><rect x="125.11" y="170.00" width="7.51" height="6.41" fill="url(#g6)"/><rect x="125.11" y="176.36" width="7.51" height="6.41" fill="url(#g6)"/><rect x="125.11" y="182.71" width="7.51" height="6.41" fill="url(#g6)"/><rect x="125.11" y="189.07" width="7.51" height="6.41" fill="url(#g7)"/><rect x="125.11" y="195.42" width="7.51" height="6.41" fill="url(#g7)"/><rect x="125.11" y="201.78" width="7.51" height="6.41" fill="url(#g7)"/><rect x="125.11" y="208.13" width="7.51" height="6.41" fill="url(#g8)"/><rect x="125.11" y="214.49" width="7.51" height="6.41" fill="url(#g8)"/><rect x="125.11" y="220.84" width="7.51" height="6.41" fill="url(#g8)"/><rect x="132.57" y="170.00" width="7.51" height="6.41" fill="url(#g9)"/><rect x="132.57" y="176.36" width="7.51" height="6.41" fill="url(#g9)"/><rect x="132.57" y="182.71" width="7.51" height="6.41" fill="url(#g9)"/><rect x="132.57" y="189.07" width="7.51" height="6.41" fill="url(#g10)"/><rect x="132.57" y="195.42" width="7.51" height="6.41" fill="url(#g10)"/><rect x="132.57" y="201.78" width="7.51" height="6.41" fill="url(#g10)"/><rect x="132.57" y="208.13" width="7.51" height="6.41" fill="url(#g0)"/><rect x="132.57" y="214.49" width="7.51" height="6.41" fill="url(#g0)"/><rect x="132.57" y="220.84" width="7.51" height="6.41" fill="url(#g0)"/><rect x="140.02" y="170.00" width="7.51" height="6.41" fill="url(#g11)"/><rect x="140.02" y="176.36" width="7.51" height="6.41" fill="url(#g11)"/><rect x="140.02" y="182.71" width="7.51" height="6.41" fill="url(#g11)"/><rect x="140.02" y="189.07" width="7.51" height="6.41" fill="url(#g12)"/><rect x="140.02" y="195.42" width="7.51" height="6.41" fill="url(#g12)"/><rect x="140.02" y="201.78" width="7.51" height="6.41" fill="url(#g12)"/><rect x="140.02" y="208.13" width="7.51" height="6.41" fill="url(#g13)"/><rect x="140.02" y="214.49" width="7.51" height="6.41" fill="url(#g13)"/><rect x="140.02" y="220.84" width="7.51" height="6.41" fill="url(#g13)"/><rect x="147.48" y="170.00" width="7.51" height="6.41" fill="url(#g14)"/><rect x="147.48" y="176.36" width="7.51" height="6.41" fill="url(#g14)"/><rect x="147.48" y="182.71" width="7.51" height="6.41" fill="url(#g14)"/><rect x="147.48" y="189.07" width="7.51" height="6.41" fill="url(#g12)"/><rect x="147.48" y="195.42" width="7.51" height="6.41" fill="url(#g12)"/><rect x="147.48" y="201.78" width="7.51" height="6.41" fill="url(#g12)"/><rect x="147.48" y="208.13" width="7.51" height="6.41" fill="url(#g15)"/><rect x="147.48" y="214.49" width="7.51" height="6.41" fill="url(#g15)"/><rect x="147.48" y="220.84" width="7.51" height="6.41" fill="url(#g15)"/><rect x="154.94" y="170.00" width="7.51" height="6.41" fill="url(#g16)"/><rect x="154.94" y="176.36" width="7.51" height="6.41" fill="url(#g16)"/><rect x="154.94" y="182.71" width="7.51" height="6.41" fill="url(#g16)"/><rect x="154.94" y="189.07" width="7.51" height="6.41" fill="url(#g17)"/><rect x="154.94" y="195.42" width="7.51" height="6.41" fill="url(#g17)"/><rect x="154.94" y="201.78" width="7.51" height="6.41" fill="url(#g17)"/><rect x="154.94" y="208.13" width="7.51" height="6.41" fill="url(#g18)"/><rect x="154.94" y="214.49" width="7.51" height="6.41" fill="url(#g18)"/><rect x="154.94" y="220.84" width="7.51" height="6.41" fill="url(#g18)"/><rect x="162.39" y="170.00" width="7.51" height="6.41" fill="url(#g14)"/><rect x="162.39" y="176.36" width="7.51" height="6.41" fill="url(#g14)"/><rect x="162.39" y="182.71" width="7.51" height="6.41" fill="url(#g14)"/><rect x="162.39" y="189.07" width="7.51" height="6.41" fill="url(#g19)"/><rect x="162.39" y="195.42" width="7.51" height="6.41" fill="url(#g19)"/><rect x="162.39" y="201.78" width="7.51" height="6.41" fill="url(#g19)"/><rect x="162.39" y="208.13" width="7.51" height="6.41" fill="url(#g20)"/><rect x="162.39" y="214.49" width="7.51" height="6.41" fill="url(#g20)"/><rect x="162.39" y="220.84" width="7.51" height="6.41" fill="url(#g20)"/><rect x="169.85" y="170.00" width="7.51" height="6.41" fill="url(#g21)"/><rect x="169.85" y="176.36" width="7.51" height="6.41" fill="url(#g21)"/><rect x="169.85" y="182.71" width="7.51" height="6.41" fill="url(#g21)"/><rect x="169.85" y="189.07" width="7.51" height="6.41" fill="url(#g22)"/><rect x="169.85" y="195.42" width="7.51" height="6.41" fill="url(#g22)"/><rect x="169.85" y="201.78" width="7.51" height="6.41" fill="url(#g22)"/><rect x="169.85" y="208.13" width="7.51" height="6.41" fill="url(#g23)"/><rect x="169.85" y="214.49" width="7.51" height="6.41" fill="url(#g23)"/><rect x="169.85" y="220.84" width="7.51" height="6.41" fill="url(#g23)"/><rect x="177.31" y="170.00" width="7.51" height="6.41" fill="url(#g24)"/><rect x="177.31" y="176.36" width="7.51" height="6.41" fill="url(#g24)"/><rect x="177.31" y="182.71" width="7.51" height="6.41" fill="url(#g24)"/><rect x="177.31" y="189.07" width="7.51" height="6.41" fill="url(#g25)"/><rect x="177.31" y="195.42" width="7.51" height="6.41" fill="url(#g25)"/><rect x="177.31" y="201.78" width="7.51" height="6.41" fill="url(#g25)"/><rect x="177.31" y="208.13" width="7.51" height="6.41" fill="url(#g23)"/><rect x="177.31" y="214.49" width="7.51" height="6.41" fill="url(#g23)"/><rect x="177.31" y="220.84" width="7.51" height="6.41" fill="url(#g23)"/><rect x="184.76" y="170.00" width="7.51" height="6.41" fill="url(#g26)"/><rect x="184.76" y="176.36" width="7.51" height="6.41" fill="url(#g26)"/><rect x="184.76" y="182.71" width="7.51" height="6.41" fill="url(#g26)"/><rect x="184.76" y="189.07" width="7.51" height="6.41" fill="url(#g19)"/><rect x="184.76" y="195.42" width="7.51" height="6.41" fill="url(#g19)"/><rect x="184.76" y="201.78" width="7.51" height="6.41" fill="url(#g19)"/><rect x="184.76" y="208.13" width="7.51" height="6.41" fill="url(#g27)"/><rect x="184.76" y="214.49" width="7.51" height="6.41" fill="url(#g27)"/><rect x="184.76" y="220.84" width="7.51" height="6.41" fill="url(#g27)"/><rect x="192.22" y="170.00" width="7.51" height="6.41" fill="url(#g28)"/><rect x="192.22" y="176.36" width="7.51" height="6.41" fill="url(#g28)"/><rect x="192.22" y="182.71" width="7.51" height="6.41" fill="url(#g28)"/><rect x="192.22" y="189.07" width="7.51" height="6.41" fill="url(#g9)"/><rect x="192.22" y="195.42" width="7.51" height="6.41" fill="url(#g9)"/><rect x="192.22" y="201.78" width="7.51" height="6.41" fill="url(#g9)"/><rect x="192.22" y="208.13" width="7.51" height="6.41" fill="url(#g27)"/><rect x="192.22" y="214.49" width="7.51" height="6.41" fill="url(#g27)"/><rect x="192.22" y="220.84" width="7.51" height="6.41" fill="url(#g27)"/><rect x="199.67" y="170.00" width="7.51" height="6.41" fill="url(#g29)"/><rect x="199.67" y="176.36" width="7.51" height="6.41" fill="url(#g29)"/><rect x="199.67" y="182.71" width="7.51" height="6.41" fill="url(#g29)"/><rect x="199.67" y="189.07" width="7.51" height="6.41" fill="url(#g19)"/><rect x="199.67" y="195.42" width="7.51" height="6.41" fill="url(#g19)"/><rect x="199.67" y="201.78" width="7.51" height="6.41" fill="url(#g19)"/><rect x="199.67" y="208.13" width="7.51" height="6.41" fill="url(#g30)"/><rect x="199.67" y="214.49" width="7.51" height="6.41" fill="url(#g30)"/><rect x="199.67" y="220.84" width="7.51" height="6.41" fill="url(#g30)"/><rect x="207.13" y="170.00" width="7.51" height="6.41" fill="url(#g3)"/><rect x="207.13" y="176.36" width="7.51" height="6.41" fill="url(#g3)"/><rect x="207.13" y="182.71" width="7.51" height="6.41" fill="url(#g3)"/><rect x="207.13" y="189.07" width="7.51" height="6.41" fill="url(#g17)"/><rect x="207.13" y="195.42" width="7.51" height="6.41" fill="url(#g17)"/><rect x="207.13" y="201.78" width="7.51" height="6.41" fill="url(#g17)"/><rect x="207.13" y="208.13" width="7.51" height="6.41" fill="url(#g31)"/><rect x="207.13" y="214.49" width="7.51" height="6.41" fill="url(#g31)"/><rect x="207.13" y="220.84" width="7.51" height="6.41" fill="url(#g31)"/><rect x="214.59" y="170.00" width="7.51" height="6.41" fill="url(#g32)"/><rect x="214.59" y="176.36" width="7.51" height="6.41" fill="url(#g32)"/><rect x="214.59" y="182.71" width="7.51" height="6.41" fill="url(#g32)"/><rect x="214.59" y="189.07" width="7.51" height="6.41" fill="url(#g33)"/><rect x="214.59" y="195.42" width="7.51" height="6.41" fill="url(#g33)"/><rect x="214.59" y="201.78" width="7.51" height="6.41" fill="url(#g33)"/><rect x="214.59" y="208.13" width="7.51" height="6.41" fill="url(#g34)"/><rect x="214.59" y="214.49" width="7.51" height="6.41" fill="url(#g34)"/><rect x="214.59" y="220.84" width="7.51" height="6.41" fill="url(#g34)"/><rect x="222.04" y="170.00" width="7.51" height="6.41" fill="url(#g24)"/><rect x="222.04" y="176.36" width="7.51" height="6.41" fill="url(#g24)"/><rect x="222.04" y="182.71" width="7.51" height="6.41" fill="url(#g24)"/><rect x="222.04" y="189.07" width="7.51" height="6.41" fill="url(#g1)"/><rect x="222.04" y="195.42" width="7.51" height="6.41" fill="url(#g1)"/><rect x="222.04" y="201.78" width="7.51" height="6.41" fill="url(#g1)"/><rect x="222.04" y="208.13" width="7.51" height="6.41" fill="url(#g35)"/><rect x="222.04" y="214.49" width="7.51" height="6.41" fill="url(#g35)"/><rect x="222.04" y="220.84" width="7.51" height="6.41" fill="url(#g35)"/><rect x="229.50" y="170.00" width="7.51" height="6.41" fill="url(#g36)"/><rect x="229.50" y="176.36" width="7.51" height="6.41" fill="url(#g36)"/><rect x="229.50" y="182.71" width="7.51" height="6.41" fill="url(#g36)"/><rect x="229.50" y="189.07" width="7.51" height="6.41" fill="url(#g37)"/><rect x="229.50" y="195.42" width="7.51" height="6.41" fill="url(#g37)"/><rect x="229.50" y="201.78" width="7.51" height="6.41" fill="url(#g37)"/><rect x="229.50" y="208.13" width="7.51" height="6.41" fill="url(#g4)"/><rect x="229.50" y="214.49" width="7.51" height="6.41" fill="url(#g4)"/><rect x="229.50" y="220.84" width="7.51" height="6.41" fill="url(#g4)"/><rect x="236.95" y="170.00" width="7.51" height="6.41" fill="url(#g38)"/><rect x="236.95" y="176.36" width="7.51" height="6.41" fill="url(#g38)"/><rect x="236.95" y="182.71" width="7.51" height="6.41" fill="url(#g38)"/><rect x="236.95" y="189.07" width="7.51" height="6.41" fill="url(#g39)"/><rect x="236.95" y="195.42" width="7.51" height="6.41" fill="url(#g39)"/><rect x="236.95" y="201.78" width="7.51" height="6.41" fill="url(#g39)"/><rect x="236.95" y="208.13" width="7.51" height="6.41" fill="url(#g4)"/><rect x="236.95" y="214.49" width="7.51" height="6.41" fill="url(#g4)"/><rect x="236.95" y="220.84" width="7.51" height="6.41" fill="url(#g4)"/><rect x="244.41" y="170.00" width="7.51" height="6.41" fill="url(#g40)"/><rect x="244.41" y="176.36" width="7.51" height="6.41" fill="url(#g40)"/><rect x="244.41" y="182.71" width="7.51" height="6.41" fill="url(#g40)"/><rect x="244.41" y="189.07" width="7.51" height="6.41" fill="url(#g24)"/><rect x="244.41" y="195.42" width="7.51" height="6.41" fill="url(#g24)"/><rect x="244.41" y="201.78" width="7.51" height="6.41" fill="url(#g24)"/><rect x="244.41" y="208.13" width="7.51" height="6.41" fill="url(#g41)"/><rect x="244.41" y="214.49" width="7.51" height="6.41" fill="url(#g41)"/><rect x="244.41" y="220.84" width="7.51" height="6.41" fill="url(#g41)"/><rect x="251.87" y="170.00" width="7.51" height="6.41" fill="url(#g42)"/><rect x="251.87" y="176.36" width="7.51" height="6.41" fill="url(#g42)"/><rect x="251.87" y="182.71" width="7.51" height="6.41" fill="url(#g42)"/><rect x="251.87" y="189.07" width="7.51" height="6.41" fill="url(#g43)"/><rect x="251.87" y="195.42" width="7.51" height="6.41" fill="url(#g43)"/><rect x="251.87" y="201.78" width="7.51" height="6.41" fill="url(#g43)"/><rect x="251.87" y="208.13" width="7.51" height="6.41" fill="url(#g44)"/><rect x="251.87" y="214.49" width="7.51" height="6.41" fill="url(#g44)"/><rect x="251.87" y="220.84" width="7.51" height="6.41" fill="url(#g44)"/><rect x="259.32" y="170.00" width="7.51" height="6.41" fill="url(#g45)"/><rect x="259.32" y="176.36" width="7.51" height="6.41" fill="url(#g45)"/><rect x="259.32" y="182.71" width="7.51" height="6.41" fill="url(#g45)"/><rect x="259.32" y="189.07" width="7.51" height="6.41" fill="url(#g46)"/><rect x="259.32" y="195.42" width="7.51" height="6.41" fill="url(#g46)"/><rect x="259.32" y="201.78" width="7.51" height="6.41" fill="url(#g46)"/><rect x="259.32" y="208.13" width="7.51" height="6.41" fill="url(#g19)"/><rect x="259.32" y="214.49" width="7.51" height="6.41" fill="url(#g19)"/><rect x="259.32" y="220.84" width="7.51" height="6.41" fill="url(#g19)"/><rect x="266.78" y="170.00" width="7.51" height="6.41" fill="url(#g47)"/><rect x="266.78" y="176.36" width="7.51" height="6.41" fill="url(#g47)"/><rect x="266.78" y="182.71" width="7.51" height="6.41" fill="url(#g47)"/><rect x="266.78" y="189.07" width="7.51" height="6.41" fill="url(#g48)"/><rect x="266.78" y="195.42" width="7.51" height="6.41" fill="url(#g48)"/><rect x="266.78" y="201.78" width="7.51" height="6.41" fill="url(#g48)"/><rect x="266.78" y="208.13" width="7.51" height="6.41" fill="url(#g49)"/><rect x="266.78" y="214.49" width="7.51" height="6.41" fill="url(#g49)"/><rect x="266.78" y="220.84" width="7.51" height="6.41" fill="url(#g49)"/><rect x="274.24" y="170.00" width="7.51" height="6.41" fill="url(#g38)"/><rect x="274.24" y="176.36" width="7.51" height="6.41" fill="url(#g38)"/><rect x="274.24" y="182.71" width="7.51" height="6.41" fill="url(#g38)"/><rect x="274.24" y="189.07" width="7.51" height="6.41" fill="url(#g14)"/><rect x="274.24" y="195.42" width="7.51" height="6.41" fill="url(#g14)"/><rect x="274.24" y="201.78" width="7.51" height="6.41" fill="url(#g14)"/><rect x="274.24" y="208.13" width="7.51" height="6.41" fill="url(#g50)"/><rect x="274.24" y="214.49" width="7.51" height="6.41" fill="url(#g50)"/><rect x="274.24" y="220.84" width="7.51" height="6.41" fill="url(#g50)"/><rect x="281.69" y="170.00" width="7.51" height="6.41" fill="url(#g42)"/><rect x="281.69" y="176.36" width="7.51" height="6.41" fill="url(#g42)"/><rect x="281.69" y="182.71" width="7.51" height="6.41" fill="url(#g42)"/><rect x="281.69" y="189.07" width="7.51" height="6.41" fill="url(#g42)"/><rect x="281.69" y="195.42" width="7.51" height="6.41" fill="url(#g42)"/><rect x="281.69" y="201.78" width="7.51" height="6.41" fill="url(#g42)"/><rect x="281.69" y="208.13" width="7.51" height="6.41" fill="url(#g1)"/><rect x="281.69" y="214.49" width="7.51" height="6.41" fill="url(#g1)"/><rect x="281.69" y="220.84" width="7.51" height="6.41" fill="url(#g1)"/><rect x="289.15" y="170.00" width="7.51" height="6.41" fill="url(#g51)"/><rect x="289.15" y="176.36" width="7.51" height="6.41" fill="url(#g51)"/><rect x="289.15" y="182.71" width="7.51" height="6.41" fill="url(#g51)"/><rect x="289.15" y="189.07" width="7.51" height="6.41" fill="url(#g52)"/><rect x="289.15" y="195.42" width="7.51" height="6.41" fill="url(#g52)"/><rect x="289.15" y="201.78" width="7.51" height="6.41" fill="url(#g52)"/><rect x="289.15" y="208.13" width="7.51" height="6.41" fill="url(#g19)"/><rect x="289.15" y="214.49" width="7.51" height="6.41" fill="url(#g19)"/><rect x="289.15" y="220.84" width="7.51" height="6.41" fill="url(#g19)"/><rect x="296.60" y="170.00" width="7.51" height="6.41" fill="url(#g53)"/><rect x="296.60" y="176.36" width="7.51" height="6.41" fill="url(#g53)"/><rect x="296.60" y="182.71" width="7.51" height="6.41" fill="url(#g53)"/><rect x="296.60" y="189.07" width="7.51" height="6.41" fill="url(#g54)"/><rect x="296.60" y="195.42" width="7.51" height="6.41" fill="url(#g54)"/><rect x="296.60" y="201.78" width="7.51" height="6.41" fill="url(#g54)"/><rect x="296.60" y="208.13" width="7.51" height="6.41" fill="url(#g49)"/><rect x="296.60" y="214.49" width="7.51" height="6.41" fill="url(#g49)"/><rect x="296.60" y="220.84" width="7.51" height="6.41" fill="url(#g49)"/><rect x="304.06" y="170.00" width="7.51" height="6.41" fill="url(#g40)"/><rect x="304.06" y="176.36" width="7.51" height="6.41" fill="url(#g40)"/><rect x="304.06" y="182.71" width="7.51" height="6.41" fill="url(#g40)"/><rect x="304.06" y="189.07" width="7.51" height="6.41" fill="url(#g55)"/><rect x="304.06" y="195.42" width="7.51" height="6.41" fill="url(#g55)"/><rect x="304.06" y="201.78" width="7.51" height="6.41" fill="url(#g55)"/><rect x="304.06" y="208.13" width="7.51" height="6.41" fill="url(#g56)"/><rect x="304.06" y="214.49" width="7.51" height="6.41" fill="url(#g56)"/><rect x="304.06" y="220.84" width="7.51" height="6.41" fill="url(#g56)"/><rect x="311.52" y="170.00" width="7.51" height="6.41" fill="url(#g57)"/><rect x="311.52" y="176.36" width="7.51" height="6.41" fill="url(#g57)"/><rect x="311.52" y="182.71" width="7.51" height="6.41" fill="url(#g57)"/><rect x="311.52" y="189.07" width="7.51" height="6.41" fill="url(#g57)"/><rect x="311.52" y="195.42" width="7.51" height="6.41" fill="url(#g57)"/><rect x="311.52" y="201.78" width="7.51" height="6.41" fill="url(#g57)"/><rect x="311.52" y="208.13" width="7.51" height="6.41" fill="url(#g4)"/><rect x="311.52" y="214.49" width="7.51" height="6.41" fill="url(#g4)"/><rect x="311.52" y="220.84" width="7.51" height="6.41" fill="url(#g4)"/><rect x="318.97" y="170.00" width="7.51" height="6.41" fill="url(#g32)"/><rect x="318.97" y="176.36" width="7.51" height="6.41" fill="url(#g32)"/><rect x="318.97" y="182.71" width="7.51" height="6.41" fill="url(#g32)"/><rect x="318.97" y="189.07" width="7.51" height="6.41" fill="url(#g24)"/><rect x="318.97" y="195.42" width="7.51" height="6.41" fill="url(#g24)"/><rect x="318.97" y="201.78" width="7.51" height="6.41" fill="url(#g24)"/><rect x="318.97" y="208.13" width="7.51" height="6.41" fill="url(#g58)"/><rect x="318.97" y="214.49" width="7.51" height="6.41" fill="url(#g58)"/><rect x="318.97" y="220.84" width="7.51" height="6.41" fill="url(#g58)"/><rect x="326.43" y="170.00" width="7.51" height="6.41" fill="url(#g59)"/><rect x="326.43" y="176.36" width="7.51" height="6.41" fill="url(#g59)"/><rect x="326.43" y="182.71" width="7.51" height="6.41" fill="url(#g59)"/><rect x="326.43" y="189.07" width="7.51" height="6.41" fill="url(#g60)"/><rect x="326.43" y="195.42" width="7.51" height="6.41" fill="url(#g60)"/><rect x="326.43" y="201.78" width="7.51" height="6.41" fill="url(#g60)"/><rect x="326.43" y="208.13" width="7.51" height="6.41" fill="url(#g61)"/><rect x="326.43" y="214.49" width="7.51" height="6.41" fill="url(#g61)"/><rect x="326.43" y="220.84" width="7.51" height="6.41" fill="url(#g61)"/><rect x="333.88" y="170.00" width="7.51" height="6.41" fill="url(#g62)"/><rect x="333.88" y="176.36" width="7.51" height="6.41" fill="url(#g62)"/><rect x="333.88" y="182.71" width="7.51" height="6.41" fill="url(#g62)"/><rect x="333.88" y="189.07" width="7.51" height="6.41" fill="url(#g63)"/><rect x="333.88" y="195.42" width="7.51" height="6.41" fill="url(#g63)"/><rect x="333.88" y="201.78" width="7.51" height="6.41" fill="url(#g63)"/><rect x="333.88" y="208.13" width="7.51" height="6.41" fill="url(#g64)"/><rect x="333.88" y="214.49" width="7.51" height="6.41" fill="url(#g64)"/><rect x="333.88" y="220.84" width="7.51" height="6.41" fill="url(#g64)"/><rect x="341.34" y="170.00" width="7.51" height="6.41" fill="url(#g21)"/><rect x="341.34" y="176.36" width="7.51" height="6.41" fill="url(#g21)"/><rect x="341.34" y="182.71" width="7.51" height="6.41" fill="url(#g21)"/><rect x="341.34" y="189.07" width="7.51" height="6.41" fill="url(#g14)"/><rect x="341.34" y="195.42" width="7.51" height="6.41" fill="url(#g14)"/><rect x="341.34" y="201.78" width="7.51" height="6.41" fill="url(#g14)"/><rect x="341.34" y="208.13" width="7.51" height="6.41" fill="url(#g17)"/><rect x="341.34" y="214.49" width="7.51" height="6.41" fill="url(#g17)"/><rect x="341.34" y="220.84" width="7.51" height="6.41" fill="url(#g17)"/><rect x="348.80" y="170.00" width="7.51" height="6.41" fill="url(#g23)"/><rect x="348.80" y="176.36" width="7.51" height="6.41" fill="url(#g23)"/><rect x="348.80" y="182.71" width="7.51" height="6.41" fill="url(#g23)"/><rect x="348.80" y="189.07" width="7.51" height="6.41" fill="url(#g65)"/><rect x="348.80" y="195.42" width="7.51" height="6.41" fill="url(#g65)"/><rect x="348.80" y="201.78" width="7.51" height="6.41" fill="url(#g65)"/><rect x="348.80" y="208.13" width="7.51" height="6.41" fill="url(#g61)"/><rect x="348.80" y="214.49" width="7.51" height="6.41" fill="url(#g61)"/><rect x="348.80" y="220.84" width="7.51" height="6.41" fill="url(#g61)"/><rect x="356.25" y="170.00" width="7.51" height="6.41" fill="url(#g66)"/><rect x="356.25" y="176.36" width="7.51" height="6.41" fill="url(#g66)"/><rect x="356.25" y="182.71" width="7.51" height="6.41" fill="url(#g66)"/><rect x="356.25" y="189.07" width="7.51" height="6.41" fill="url(#g66)"/><rect x="356.25" y="195.42" width="7.51" height="6.41" fill="url(#g66)"/><rect x="356.25" y="201.78" width="7.51" height="6.41" fill="url(#g66)"/><rect x="356.25" y="208.13" width="7.51" height="6.41" fill="url(#g67)"/><rect x="356.25" y="214.49" width="7.51" height="6.41" fill="url(#g67)"/><rect x="356.25" y="220.84" width="7.51" height="6.41" fill="url(#g67)"/><rect x="363.71" y="170.00" width="7.51" height="6.41" fill="url(#g63)"/><rect x="363.71" y="176.36" width="7.51" height="6.41" fill="url(#g63)"/><rect x="363.71" y="182.71" width="7.51" height="6.41" fill="url(#g63)"/><rect x="363.71" y="189.07" width="7.51" height="6.41" fill="url(#g54)"/><rect x="363.71" y="195.42" width="7.51" height="6.41" fill="url(#g54)"/><rect x="363.71" y="201.78" width="7.51" height="6.41" fill="url(#g54)"/><rect x="363.71" y="208.13" width="7.51" height="6.41" fill="url(#g68)"/><rect x="363.71" y="214.49" width="7.51" height="6.41" fill="url(#g68)"/><rect x="363.71" y="220.84" width="7.51" height="6.41" fill="url(#g68)"/><rect x="371.16" y="170.00" width="7.51" height="6.41" fill="url(#g21)"/><rect x="371.16" y="176.36" width="7.51" height="6.41" fill="url(#g21)"/><rect x="371.16" y="182.71" width="7.51" height="6.41" fill="url(#g21)"/><rect x="371.16" y="189.07" width="7.51" height="6.41" fill="url(#g69)"/><rect x="371.16" y="195.42" width="7.51" height="6.41" fill="url(#g69)"/><rect x="371.16" y="201.78" width="7.51" height="6.41" fill="url(#g69)"/><rect x="371.16" y="208.13" width="7.51" height="6.41" fill="url(#g17)"/><rect x="371.16" y="214.49" width="7.51" height="6.41" fill="url(#g17)"/><rect x="371.16" y="220.84" width="7.51" height="6.41" fill="url(#g17)"/><rect x="378.62" y="170.00" width="7.51" height="6.41" fill="url(#g70)"/><rect x="378.62" y="176.36" width="7.51" height="6.41" fill="url(#g70)"/><rect x="378.62" y="182.71" width="7.51" height="6.41" fill="url(#g70)"/><rect x="378.62" y="189.07" width="7.51" height="6.41" fill="url(#g65)"/><rect x="378.62" y="195.42" width="7.51" height="6.41" fill="url(#g65)"/><rect x="378.62" y="201.78" width="7.51" height="6.41" fill="url(#g65)"/><rect x="378.62" y="208.13" width="7.51" height="6.41" fill="url(#g71)"/><rect x="378.62" y="214.49" width="7.51" height="6.41" fill="url(#g71)"/><rect x="378.62" y="220.84" width="7.51" height="6.41" fill="url(#g71)"/><rect x="386.08" y="170.00" width="7.51" height="6.41" fill="url(#g72)"/><rect x="386.08" y="176.36" width="7.51" height="6.41" fill="url(#g72)"/><rect x="386.08" y="182.71" width="7.51" height="6.41" fill="url(#g72)"/><rect x="386.08" y="189.07" width="7.51" height="6.41" fill="url(#g73)"/><rect x="386.08" y="195.42" width="7.51" height="6.41" fill="url(#g73)"/><rect x="386.08" y="201.78" width="7.51" height="6.41" fill="url(#g73)"/><rect x="386.08" y="208.13" width="7.51" height="6.41" fill="url(#g74)"/><rect x="386.08" y="214.49" width="7.51" height="6.41" fill="url(#g74)"/><rect x="386.08" y="220.84" width="7.51" height="6.41" fill="url(#g74)"/><rect x="393.53" y="170.00" width="7.51" height="6.41" fill="url(#g75)"/><rect x="393.53" y="176.36" width="7.51" height="6.41" fill="url(#g75)"/><rect x="393.53" y="182.71" width="7.51" height="6.41" fill="url(#g75)"/><rect x="393.53" y="189.07" width="7.51" height="6.41" fill="url(#g73)"/><rect x="393.53" y="195.42" width="7.51" height="6.41" fill="url(#g73)"/><rect x="393.53" y="201.78" width="7.51" height="6.41" fill="url(#g73)"/><rect x="393.53" y="208.13" width="7.51" height="6.41" fill="url(#g50)"/><rect x="393.53" y="214.49" width="7.51" height="6.41" fill="url(#g50)"/><rect x="393.53" y="220.84" width="7.51" height="6.41" fill="url(#g50)"/><rect x="400.99" y="170.00" width="7.51" height="6.41" fill="url(#g24)"/><rect x="400.99" y="176.36" width="7.51" height="6.41" fill="url(#g24)"/><rect x="400.99" y="182.71" width="7.51" height="6.41" fill="url(#g24)"/><rect x="400.99" y="189.07" width="7.51" height="6.41" fill="url(#g70)"/><rect x="400.99" y="195.42" width="7.51" height="6.41" fill="url(#g70)"/><rect x="400.99" y="201.78" width="7.51" height="6.41" fill="url(#g70)"/><rect x="400.99" y="208.13" width="7.51" height="6.41" fill="url(#g74)"/><rect x="400.99" y="214.49" width="7.51" height="6.41" fill="url(#g74)"/><rect x="400.99" y="220.84" width="7.51" height="6.41" fill="url(#g74)"/><rect x="408.45" y="170.00" width="7.51" height="6.41" fill="url(#g32)"/><rect x="408.45" y="176.36" width="7.51" height="6.41" fill="url(#g32)"/><rect x="408.45" y="182.71" width="7.51" height="6.41" fill="url(#g32)"/><rect x="408.45" y="189.07" width="7.51" height="6.41" fill="url(#g63)"/><rect x="408.45" y="195.42" width="7.51" height="6.41" fill="url(#g63)"/><rect x="408.45" y="201.78" width="7.51" height="6.41" fill="url(#g63)"/><rect x="408.45" y="208.13" width="7.51" height="6.41" fill="url(#g76)"/><rect x="408.45" y="214.49" width="7.51" height="6.41" fill="url(#g76)"/><rect x="408.45" y="220.84" width="7.51" height="6.41" fill="url(#g76)"/><rect x="415.90" y="170.00" width="7.51" height="6.41" fill="url(#g77)"/><rect x="415.90" y="176.36" width="7.51" height="6.41" fill="url(#g77)"/><rect x="415.90" y="182.71" width="7.51" height="6.41" fill="url(#g77)"/><rect x="415.90" y="189.07" width="7.51" height="6.41" fill="url(#g8)"/><rect x="415.90" y="195.42" width="7.51" height="6.41" fill="url(#g8)"/><rect x="415.90" y="201.78" width="7.51" height="6.41" fill="url(#g8)"/><rect x="415.90" y="208.13" width="7.51" height="6.41" fill="url(#g76)"/><rect x="415.90" y="214.49" width="7.51" height="6.41" fill="url(#g76)"/><rect x="415.90" y="220.84" width="7.51" height="6.41" fill="url(#g76)"/><rect x="423.36" y="170.00" width="7.51" height="6.41" fill="url(#g78)"/><rect x="423.36" y="176.36" width="7.51" height="6.41" fill="url(#g78)"/><rect x="423.36" y="182.71" width="7.51" height="6.41" fill="url(#g78)"/><rect x="423.36" y="189.07" width="7.51" height="6.41" fill="url(#g8)"/><rect x="423.36" y="195.42" width="7.51" height="6.41" fill="url(#g8)"/><rect x="423.36" y="201.78" width="7.51" height="6.41" fill="url(#g8)"/><rect x="423.36" y="208.13" width="7.51" height="6.41" fill="url(#g79)"/><rect x="423.36" y="214.49" width="7.51" height="6.41" fill="url(#g79)"/><rect x="423.36" y="220.84" width="7.51" height="6.41" fill="url(#g79)"/><rect x="430.81" y="170.00" width="7.51" height="6.41" fill="url(#g24)"/><rect x="430.81" y="176.36" width="7.51" height="6.41" fill="url(#g24)"/><rect x="430.81" y="182.71" width="7.51" height="6.41" fill="url(#g24)"/><rect x="430.81" y="189.07" width="7.51" height="6.41" fill="url(#g24)"/><rect x="430.81" y="195.42" width="7.51" height="6.41" fill="url(#g24)"/><rect x="430.81" y="201.78" width="7.51" height="6.41" fill="url(#g24)"/><rect x="430.81" y="208.13" width="7.51" height="6.41" fill="url(#g64)"/><rect x="430.81" y="214.49" width="7.51" height="6.41" fill="url(#g64)"/><rect x="430.81" y="220.84" width="7.51" height="6.41" fill="url(#g64)"/><rect x="438.27" y="170.00" width="7.51" height="6.41" fill="url(#g80)"/><rect x="438.27" y="176.36" width="7.51" height="6.41" fill="url(#g80)"/><rect x="438.27" y="182.71" width="7.51" height="6.41" fill="url(#g80)"/><rect x="438.27" y="189.07" width="7.51" height="6.41" fill="url(#g81)"/><rect x="438.27" y="195.42" width="7.51" height="6.41" fill="url(#g81)"/><rect x="438.27" y="201.78" width="7.51" height="6.41" fill="url(#g81)"/><rect x="438.27" y="208.13" width="7.51" height="6.41" fill="url(#g74)"/><rect x="438.27" y="214.49" width="7.51" height="6.41" fill="url(#g74)"/><rect x="438.27" y="220.84" width="7.51" height="6.41" fill="url(#g74)"/><rect x="445.73" y="170.00" width="7.51" height="6.41" fill="url(#g82)"/><rect x="445.73" y="176.36" width="7.51" height="6.41" fill="url(#g82)"/><rect x="445.73" y="182.71" width="7.51" height="6.41" fill="url(#g82)"/><rect x="445.73" y="189.07" width="7.51" height="6.41" fill="url(#g82)"/><rect x="445.73" y="195.42" width="7.51" height="6.41" fill="url(#g82)"/><rect x="445.73" y="201.78" width="7.51" height="6.41" fill="url(#g82)"/><rect x="445.73" y="208.13" width="7.51" height="6.41" fill="url(#g74)"/><rect x="445.73" y="214.49" width="7.51" height="6.41" fill="url(#g74)"/><rect x="445.73" y="220.84" width="7.51" height="6.41" fill="url(#g74)"/><rect x="453.18" y="170.00" width="7.51" height="6.41" fill="url(#g73)"/><rect x="453.18" y="176.36" width="7.51" height="6.41" fill="url(#g73)"/><rect x="453.18" y="182.71" width="7.51" height="6.41" fill="url(#g73)"/><rect x="453.18" y="189.07" width="7.51" height="6.41" fill="url(#g73)"/><rect x="453.18" y="195.42" width="7.51" height="6.41" fill="url(#g73)"/><rect x="453.18" y="201.78" width="7.51" height="6.41" fill="url(#g73)"/><rect x="453.18" y="208.13" width="7.51" height="6.41" fill="url(#g83)"/><rect x="453.18" y="214.49" width="7.51" height="6.41" fill="url(#g83)"/><rect x="453.18" y="220.84" width="7.51" height="6.41" fill="url(#g83)"/><rect x="460.64" y="170.00" width="7.51" height="6.41" fill="url(#g27)"/><rect x="460.64" y="176.36" width="7.51" height="6.41" fill="url(#g27)"/><rect x="460.64" y="182.71" width="7.51" height="6.41" fill="url(#g27)"/><rect x="460.64" y="189.07" width="7.51" height="6.41" fill="url(#g55)"/><rect x="460.64" y="195.42" width="7.51" height="6.41" fill="url(#g55)"/><rect x="460.64" y="201.78" width="7.51" height="6.41" fill="url(#g55)"/><rect x="460.64" y="208.13" width="7.51" height="6.41" fill="url(#g64)"/><rect x="460.64" y="214.49" width="7.51" height="6.41" fill="url(#g64)"/><rect x="460.64" y="220.84" width="7.51" height="6.41" fill="url(#g64)"/><rect x="468.09" y="170.00" width="7.51" height="6.41" fill="url(#g77)"/><rect x="468.09" y="176.36" width="7.51" height="6.41" fill="url(#g77)"/><rect x="468.09" y="182.71" width="7.51" height="6.41" fill="url(#g77)"/><rect x="468.09" y="189.07" width="7.51" height="6.41" fill="url(#g14)"/><rect x="468.09" y="195.42" width="7.51" height="6.41" fill="url(#g14)"/><rect x="468.09" y="201.78" width="7.51" height="6.41" fill="url(#g14)"/><rect x="468.09" y="208.13" width="7.51" height="6.41" fill="url(#g84)"/><rect x="468.09" y="214.49" width="7.51" height="6.41" fill="url(#g84)"/><rect x="468.09" y="220.84" width="7.51" height="6.41" fill="url(#g84)"/><rect x="475.55" y="170.00" width="7.51" height="6.41" fill="url(#g85)"/><rect x="475.55" y="176.36" width="7.51" height="6.41" fill="url(#g85)"/><rect x="475.55" y="182.71" width="7.51" height="6.41" fill="url(#g85)"/><rect x="475.55" y="189.07" width="7.51" height="6.41" fill="url(#g63)"/><rect x="475.55" y="195.42" width="7.51" height="6.41" fill="url(#g63)"/><rect x="475.55" y="201.78" width="7.51" height="6.41" fill="url(#g63)"/><rect x="475.55" y="208.13" width="7.51" height="6.41" fill="url(#g84)"/><rect x="475.55" y="214.49" width="7.51" height="6.41" fill="url(#g84)"/><rect x="475.55" y="220.84" width="7.51" height="6.41" fill="url(#g84)"/><rect x="483.01" y="170.00" width="7.51" height="6.41" fill="url(#g86)"/><rect x="483.01" y="176.36" width="7.51" height="6.41" fill="url(#g86)"/><rect x="483.01" y="182.71" width="7.51" height="6.41" fill="url(#g86)"/><rect x="483.01" y="189.07" width="7.51" height="6.41" fill="url(#g48)"/><rect x="483.01" y="195.42" width="7.51" height="6.41" fill="url(#g48)"/><rect x="483.01" y="201.78" width="7.51" height="6.41" fill="url(#g48)"/><rect x="483.01" y="208.13" width="7.51" height="6.41" fill="url(#g29)"/><rect x="483.01" y="214.49" width="7.51" height="6.41" fill="url(#g29)"/><rect x="483.01" y="220.84" width="7.51" height="6.41" fill="url(#g29)"/><rect x="490.46" y="170.00" width="7.51" height="6.41" fill="url(#g87)"/><rect x="490.46" y="176.36" width="7.51" height="6.41" fill="url(#g87)"/><rect x="490.46" y="182.71" width="7.51" height="6.41" fill="url(#g87)"/><rect x="490.46" y="189.07" width="7.51" height="6.41" fill="url(#g46)"/><rect x="490.46" y="195.42" width="7.51" height="6.41" fill="url(#g46)"/><rect x="490.46" y="201.78" width="7.51" height="6.41" fill="url(#g46)"/><rect x="490.46" y="208.13" width="7.51" height="6.41" fill="url(#g34)"/><rect x="490.46" y="214.49" width="7.51" height="6.41" fill="url(#g34)"/><rect x="490.46" y="220.84" width="7.51" height="6.41" fill="url(#g34)"/><rect x="497.92" y="170.00" width="7.51" height="6.41" fill="url(#g24)"/><rect x="497.92" y="176.36" width="7.51" height="6.41" fill="url(#g24)"/><rect x="497.92" y="182.71" width="7.51" height="6.41" fill="url(#g24)"/><rect x="497.92" y="189.07" width="7.51" height="6.41" fill="url(#g57)"/><rect x="497.92" y="195.42" width="7.51" height="6.41" fill="url(#g57)"/><rect x="497.92" y="201.78" width="7.51" height="6.41" fill="url(#g57)"/><rect x="497.92" y="208.13" width="7.51" height="6.41" fill="url(#g17)"/><rect x="497.92" y="214.49" width="7.51" height="6.41" fill="url(#g17)"/><rect x="497.92" y="220.84" width="7.51" height="6.41" fill="url(#g17)"/><rect x="505.38" y="170.00" width="7.51" height="6.41" fill="url(#g88)"/><rect x="505.38" y="176.36" width="7.51" height="6.41" fill="url(#g88)"/><rect x="505.38" y="182.71" width="7.51" height="6.41" fill="url(#g88)"/><rect x="505.38" y="189.07" width="7.51" height="6.41" fill="url(#g88)"/><rect x="505.38" y="195.42" width="7.51" height="6.41" fill="url(#g88)"/><rect x="505.38" y="201.78" width="7.51" height="6.41" fill="url(#g88)"/><rect x="505.38" y="208.13" width="7.51" height="6.41" fill="url(#g64)"/><rect x="505.38" y="214.49" width="7.51" height="6.41" fill="url(#g64)"/><rect x="505.38" y="220.84" width="7.51" height="6.41" fill="url(#g64)"/><rect x="512.83" y="170.00" width="7.51" height="6.41" fill="url(#g66)"/><rect x="512.83" y="176.36" width="7.51" height="6.41" fill="url(#g66)"/><rect x="512.83" y="182.71" width="7.51" height="6.41" fill="url(#g66)"/><rect x="512.83" y="189.07" width="7.51" height="6.41" fill="url(#g89)"/><rect x="512.83" y="195.42" width="7.51" height="6.41" fill="url(#g89)"/><rect x="512.83" y="201.78" width="7.51" height="6.41" fill="url(#g89)"/><rect x="512.83" y="208.13" width="7.51" height="6.41" fill="url(#g41)"/><rect x="512.83" y="214.49" width="7.51" height="6.41" fill="url(#g41)"/><rect x="512.83" y="220.84" width="7.51" height="6.41" fill="url(#g41)"/><rect x="520.29" y="170.00" width="7.51" height="6.41" fill="url(#g19)"/><rect x="520.29" y="176.36" width="7.51" height="6.41" fill="url(#g19)"/><rect x="520.29" y="182.71" width="7.51" height="6.41" fill="url(#g19)"/><rect x="520.29" y="189.07" width="7.51" height="6.41" fill="url(#g62)"/><rect x="520.29" y="195.42" width="7.51" height="6.41" fill="url(#g62)"/><rect x="520.29" y="201.78" width="7.51" height="6.41" fill="url(#g62)"/><rect x="520.29" y="208.13" width="7.51" height="6.41" fill="url(#g90)"/><rect x="520.29" y="214.49" width="7.51" height="6.41" fill="url(#g90)"/><rect x="520.29" y="220.84" width="7.51" height="6.41" fill="url(#g90)"/><rect x="527.74" y="170.00" width="7.51" height="6.41" fill="url(#g62)"/><rect x="527.74" y="176.36" width="7.51" height="6.41" fill="url(#g62)"/><rect x="527.74" y="182.71" width="7.51" height="6.41" fill="url(#g62)"/><rect x="527.74" y="189.07" width="7.51" height="6.41" fill="url(#g85)"/><rect x="527.74" y="195.42" width="7.51" height="6.41" fill="url(#g85)"/><rect x="527.74" y="201.78" width="7.51" height="6.41" fill="url(#g85)"/><rect x="527.74" y="208.13" width="7.51" height="6.41" fill="url(#g91)"/><rect x="527.74" y="214.49" width="7.51" height="6.41" fill="url(#g91)"/><rect x="527.74" y="220.84" width="7.51" height="6.41" fill="url(#g91)"/><text transform="translate(111.93,233.50) rotate(90)" font-family="Liberation Serif" font-size="6.0" fill="#000" stroke="#000" stroke-width="0.22">(E,E)-2,4-octadienal</text><text transform="translate(119.38,233.50) rotate(90)" font-family="Liberation Serif" font-size="6.0" fill="#000" stroke="#000" stroke-width="0.22">ethylbenzene</text><text transform="translate(126.84,233.50) rotate(90)" font-family="Liberation Serif" font-size="6.0" fill="#000" stroke="#000" stroke-width="0.22">Benzaldehyde-M</text><text transform="translate(134.30,233.50) rotate(90)" font-family="Liberation Serif" font-size="6.0" fill="#000" stroke="#000" stroke-width="0.22">4-methyl-2-pentanol</text><text transform="translate(141.75,233.50) rotate(90)" font-family="Liberation Serif" font-size="6.0" fill="#000" stroke="#000" stroke-width="0.22">3-Methyl-1-butanal-M</text><text transform="translate(149.21,233.50) rotate(90)" font-family="Liberation Serif" font-size="6.0" fill="#000" stroke="#000" stroke-width="0.22">Benzaldehyde-D</text><text transform="translate(156.66,233.50) rotate(90)" font-family="Liberation Serif" font-size="6.0" fill="#000" stroke="#000" stroke-width="0.22">Butanal-M</text><text transform="translate(164.12,233.50) rotate(90)" font-family="Liberation Serif" font-size="6.0" fill="#000" stroke="#000" stroke-width="0.22">Pyrazine, 2-methyl-3-(methylthio)</text><text transform="translate(171.58,233.50) rotate(90)" font-family="Liberation Serif" font-size="6.0" fill="#000" stroke="#000" stroke-width="0.22">1-methylethyl acetate</text><text transform="translate(179.03,233.50) rotate(90)" font-family="Liberation Serif" font-size="6.0" fill="#000" stroke="#000" stroke-width="0.22">Linalyl acetate</text><text transform="translate(186.49,233.50) rotate(90)" font-family="Liberation Serif" font-size="6.0" fill="#000" stroke="#000" stroke-width="0.22">Ethylpyrazine</text><text transform="translate(193.95,233.50) rotate(90)" font-family="Liberation Serif" font-size="6.0" fill="#000" stroke="#000" stroke-width="0.22">2-Octynoic acid, methyl ester</text><text transform="translate(201.40,233.50) rotate(90)" font-family="Liberation Serif" font-size="6.0" fill="#000" stroke="#000" stroke-width="0.22">Butan-2-one</text><text transform="translate(208.86,233.50) rotate(90)" font-family="Liberation Serif" font-size="6.0" fill="#000" stroke="#000" stroke-width="0.22">3-hydroxy-2-butanone</text><text transform="translate(216.31,233.50) rotate(90)" font-family="Liberation Serif" font-size="6.0" fill="#000" stroke="#000" stroke-width="0.22">Cyclohexanone</text><text transform="translate(223.77,233.50) rotate(90)" font-family="Liberation Serif" font-size="6.0" fill="#000" stroke="#000" stroke-width="0.22">β-myrcene</text><text transform="translate(231.23,233.50) rotate(90)" font-family="Liberation Serif" font-size="6.0" fill="#000" stroke="#000" stroke-width="0.22">propanal-M</text><text transform="translate(238.68,233.50) rotate(90)" font-family="Liberation Serif" font-size="6.0" fill="#000" stroke="#000" stroke-width="0.22">19</text><text transform="translate(246.14,233.50) rotate(90)" font-family="Liberation Serif" font-size="6.0" fill="#000" stroke="#000" stroke-width="0.22">4-hydroxy-4-methyl-2-pentanone</text><text transform="translate(253.59,233.50) rotate(90)" font-family="Liberation Serif" font-size="6.0" fill="#000" stroke="#000" stroke-width="0.22">2-Ethyl-1-hexanol-D</text><text transform="translate(261.05,233.50) rotate(90)" font-family="Liberation Serif" font-size="6.0" fill="#000" stroke="#000" stroke-width="0.22">propanoic acid</text><text transform="translate(268.51,233.50) rotate(90)" font-family="Liberation Serif" font-size="6.0" fill="#000" stroke="#000" stroke-width="0.22">acetic acid-D</text><text transform="translate(275.96,233.50) rotate(90)" font-family="Liberation Serif" font-size="6.0" fill="#000" stroke="#000" stroke-width="0.22">2</text><text transform="translate(283.42,233.50) rotate(90)" font-family="Liberation Serif" font-size="6.0" fill="#000" stroke="#000" stroke-width="0.22">2-Methylpropanoic acid</text><text transform="translate(290.88,233.50) rotate(90)" font-family="Liberation Serif" font-size="6.0" fill="#000" stroke="#000" stroke-width="0.22">n-Butylbenzene</text><text transform="translate(298.33,233.50) rotate(90)" font-family="Liberation Serif" font-size="6.0" fill="#000" stroke="#000" stroke-width="0.22">2-Ethyl-1-hexanol-M</text><text transform="translate(305.79,233.50) rotate(90)" font-family="Liberation Serif" font-size="6.0" fill="#000" stroke="#000" stroke-width="0.22">isobutyl acetate</text><text transform="translate(313.24,233.50) rotate(90)" font-family="Liberation Serif" font-size="6.0" fill="#000" stroke="#000" stroke-width="0.22">propyl acetate</text><text transform="translate(320.70,233.50) rotate(90)" font-family="Liberation Serif" font-size="6.0" fill="#000" stroke="#000" stroke-width="0.22">ethyl propanoate</text><text transform="translate(328.16,233.50) rotate(90)" font-family="Liberation Serif" font-size="6.0" fill="#000" stroke="#000" stroke-width="0.22">Ethyl butanoate</text><text transform="translate(335.61,233.50) rotate(90)" font-family="Liberation Serif" font-size="6.0" fill="#000" stroke="#000" stroke-width="0.22">17</text><text transform="translate(343.07,233.50) rotate(90)" font-family="Liberation Serif" font-size="6.0" fill="#000" stroke="#000" stroke-width="0.22">1-Hexanol-D</text><text transform="translate(350.52,233.50) rotate(90)" font-family="Liberation Serif" font-size="6.0" fill="#000" stroke="#000" stroke-width="0.22">18</text><text transform="translate(357.98,233.50) rotate(90)" font-family="Liberation Serif" font-size="6.0" fill="#000" stroke="#000" stroke-width="0.22">dimethyl disulfide</text><text transform="translate(365.44,233.50) rotate(90)" font-family="Liberation Serif" font-size="6.0" fill="#000" stroke="#000" stroke-width="0.22">methyl butanoate</text><text transform="translate(372.89,233.50) rotate(90)" font-family="Liberation Serif" font-size="6.0" fill="#000" stroke="#000" stroke-width="0.22">4-Methyl-2-pentanone</text><text transform="translate(380.35,233.50) rotate(90)" font-family="Liberation Serif" font-size="6.0" fill="#000" stroke="#000" stroke-width="0.22">Phenylacetaldehyde</text><text transform="translate(387.81,233.50) rotate(90)" font-family="Liberation Serif" font-size="6.0" fill="#000" stroke="#000" stroke-width="0.22">2-butylfuran</text><text transform="translate(395.26,233.50) rotate(90)" font-family="Liberation Serif" font-size="6.0" fill="#000" stroke="#000" stroke-width="0.22">ethyl pentanoate</text><text transform="translate(402.72,233.50) rotate(90)" font-family="Liberation Serif" font-size="6.0" fill="#000" stroke="#000" stroke-width="0.22">triethylamine</text><text transform="translate(410.17,233.50) rotate(90)" font-family="Liberation Serif" font-size="6.0" fill="#000" stroke="#000" stroke-width="0.22">pentanoic acid-D</text><text transform="translate(417.63,233.50) rotate(90)" font-family="Liberation Serif" font-size="6.0" fill="#000" stroke="#000" stroke-width="0.22">1-dodecene</text><text transform="translate(425.09,233.50) rotate(90)" font-family="Liberation Serif" font-size="6.0" fill="#000" stroke="#000" stroke-width="0.22">16</text><text transform="translate(432.54,233.50) rotate(90)" font-family="Liberation Serif" font-size="6.0" fill="#000" stroke="#000" stroke-width="0.22">Ethylene glycol</text><text transform="translate(440.00,233.50) rotate(90)" font-family="Liberation Serif" font-size="6.0" fill="#000" stroke="#000" stroke-width="0.22">Methional</text><text transform="translate(447.45,233.50) rotate(90)" font-family="Liberation Serif" font-size="6.0" fill="#000" stroke="#000" stroke-width="0.22">acetic acid-M</text><text transform="translate(454.91,233.50) rotate(90)" font-family="Liberation Serif" font-size="6.0" fill="#000" stroke="#000" stroke-width="0.22">pentanoic acid-M</text><text transform="translate(462.37,233.50) rotate(90)" font-family="Liberation Serif" font-size="6.0" fill="#000" stroke="#000" stroke-width="0.22">11</text><text transform="translate(469.82,233.50) rotate(90)" font-family="Liberation Serif" font-size="6.0" fill="#000" stroke="#000" stroke-width="0.22">Isoamyl acetate</text><text transform="translate(477.28,233.50) rotate(90)" font-family="Liberation Serif" font-size="6.0" fill="#000" stroke="#000" stroke-width="0.22">2-Phenylethyl acetate</text><text transform="translate(484.74,233.50) rotate(90)" font-family="Liberation Serif" font-size="6.0" fill="#000" stroke="#000" stroke-width="0.22">1,8-cineole</text><text transform="translate(492.19,233.50) rotate(90)" font-family="Liberation Serif" font-size="6.0" fill="#000" stroke="#000" stroke-width="0.22">3-Methyl-1-butanol-D</text><text transform="translate(499.65,233.50) rotate(90)" font-family="Liberation Serif" font-size="6.0" fill="#000" stroke="#000" stroke-width="0.22">1-Hexanol-M</text><text transform="translate(507.10,233.50) rotate(90)" font-family="Liberation Serif" font-size="6.0" fill="#000" stroke="#000" stroke-width="0.22">Ethyl hexanoate</text><text transform="translate(514.56,233.50) rotate(90)" font-family="Liberation Serif" font-size="6.0" fill="#000" stroke="#000" stroke-width="0.22">2-Methyl-1-propanol</text><text transform="translate(522.02,233.50) rotate(90)" font-family="Liberation Serif" font-size="6.0" fill="#000" stroke="#000" stroke-width="0.22">10</text><text transform="translate(529.47,233.50) rotate(90)" font-family="Liberation Serif" font-size="6.0" fill="#000" stroke="#000" stroke-width="0.22">butan-1-ol-D</text><text x="537.00" y="175.00" font-family="Liberation Serif" font-size="6.4" font-weight="bold" text-anchor="start" fill="#000">Control-1</text><text x="537.00" y="181.20" font-family="Liberation Serif" font-size="6.4" font-weight="bold" text-anchor="start" fill="#000">Control-2</text><text x="537.00" y="187.50" font-family="Liberation Serif" font-size="6.4" font-weight="bold" text-anchor="start" fill="#000">Control-3</text><text x="537.00" y="195.90" font-family="Liberation Serif" font-size="6.4" font-weight="bold" text-anchor="start" fill="#000">FH-1</text><text x="537.00" y="202.20" font-family="Liberation Serif" font-size="6.4" font-weight="bold" text-anchor="start" fill="#000">FH-2</text><text x="537.00" y="208.30" font-family="Liberation Serif" font-size="6.4" font-weight="bold" text-anchor="start" fill="#000">FH-3</text><text x="537.00" y="214.50" font-family="Liberation Serif" font-size="6.4" font-weight="bold" text-anchor="start" fill="#000">FS-1</text><text x="537.00" y="220.60" font-family="Liberation Serif" font-size="6.4" font-weight="bold" text-anchor="start" fill="#000">FS-2</text><text x="537.00" y="227.00" font-family="Liberation Serif" font-size="6.4" font-weight="bold" text-anchor="start" fill="#000">FS-3</text><rect x="79.10" y="324.30" width="483.00" height="58.60" fill="#10107a"/><rect x="79.10" y="324.30" width="7.48" height="6.56" fill="url(#g37)"/><rect x="79.10" y="330.81" width="7.48" height="6.56" fill="url(#g37)"/><rect x="79.10" y="337.32" width="7.48" height="6.56" fill="url(#g37)"/><rect x="79.10" y="343.83" width="7.48" height="6.56" fill="url(#g19)"/><rect x="79.10" y="350.34" width="7.48" height="6.56" fill="url(#g19)"/><rect x="79.10" y="356.86" width="7.48" height="6.56" fill="url(#g19)"/><rect x="79.10" y="363.37" width="7.48" height="6.56" fill="url(#g92)"/><rect x="79.10" y="369.88" width="7.48" height="6.56" fill="url(#g92)"/><rect x="79.10" y="376.39" width="7.48" height="6.56" fill="url(#g92)"/><rect x="86.53" y="324.30" width="7.48" height="6.56" fill="url(#g93)"/><rect x="86.53" y="330.81" width="7.48" height="6.56" fill="url(#g93)"/><rect x="86.53" y="337.32" width="7.48" height="6.56" fill="url(#g93)"/><rect x="86.53" y="343.83" width="7.48" height="6.56" fill="url(#g22)"/><rect x="86.53" y="350.34" width="7.48" height="6.56" fill="url(#g22)"/><rect x="86.53" y="356.86" width="7.48" height="6.56" fill="url(#g22)"/><rect x="86.53" y="363.37" width="7.48" height="6.56" fill="url(#g94)"/><rect x="86.53" y="369.88" width="7.48" height="6.56" fill="url(#g94)"/><rect x="86.53" y="376.39" width="7.48" height="6.56" fill="url(#g94)"/><rect x="93.96" y="324.30" width="7.48" height="6.56" fill="url(#g37)"/><rect x="93.96" y="330.81" width="7.48" height="6.56" fill="url(#g37)"/><rect x="93.96" y="337.32" width="7.48" height="6.56" fill="url(#g37)"/><rect x="93.96" y="343.83" width="7.48" height="6.56" fill="url(#g95)"/><rect x="93.96" y="350.34" width="7.48" height="6.56" fill="url(#g95)"/><rect x="93.96" y="356.86" width="7.48" height="6.56" fill="url(#g95)"/><rect x="93.96" y="363.37" width="7.48" height="6.56" fill="url(#g95)"/><rect x="93.96" y="369.88" width="7.48" height="6.56" fill="url(#g95)"/><rect x="93.96" y="376.39" width="7.48" height="6.56" fill="url(#g95)"/><rect x="101.39" y="324.30" width="7.48" height="6.56" fill="url(#g44)"/><rect x="101.39" y="330.81" width="7.48" height="6.56" fill="url(#g44)"/><rect x="101.39" y="337.32" width="7.48" height="6.56" fill="url(#g44)"/><rect x="101.39" y="343.83" width="7.48" height="6.56" fill="url(#g39)"/><rect x="101.39" y="350.34" width="7.48" height="6.56" fill="url(#g39)"/><rect x="101.39" y="356.86" width="7.48" height="6.56" fill="url(#g39)"/><rect x="101.39" y="363.37" width="7.48" height="6.56" fill="url(#g96)"/><rect x="101.39" y="369.88" width="7.48" height="6.56" fill="url(#g96)"/><rect x="101.39" y="376.39" width="7.48" height="6.56" fill="url(#g96)"/><rect x="108.82" y="324.30" width="7.48" height="6.56" fill="url(#g95)"/><rect x="108.82" y="330.81" width="7.48" height="6.56" fill="url(#g95)"/><rect x="108.82" y="337.32" width="7.48" height="6.56" fill="url(#g95)"/><rect x="108.82" y="343.83" width="7.48" height="6.56" fill="url(#g12)"/><rect x="108.82" y="350.34" width="7.48" height="6.56" fill="url(#g12)"/><rect x="108.82" y="356.86" width="7.48" height="6.56" fill="url(#g12)"/><rect x="108.82" y="363.37" width="7.48" height="6.56" fill="url(#g97)"/><rect x="108.82" y="369.88" width="7.48" height="6.56" fill="url(#g97)"/><rect x="108.82" y="376.39" width="7.48" height="6.56" fill="url(#g97)"/><rect x="116.25" y="324.30" width="7.48" height="6.56" fill="url(#g90)"/><rect x="116.25" y="330.81" width="7.48" height="6.56" fill="url(#g90)"/><rect x="116.25" y="337.32" width="7.48" height="6.56" fill="url(#g90)"/><rect x="116.25" y="343.83" width="7.48" height="6.56" fill="url(#g64)"/><rect x="116.25" y="350.34" width="7.48" height="6.56" fill="url(#g64)"/><rect x="116.25" y="356.86" width="7.48" height="6.56" fill="url(#g64)"/><rect x="116.25" y="363.37" width="7.48" height="6.56" fill="url(#g24)"/><rect x="116.25" y="369.88" width="7.48" height="6.56" fill="url(#g24)"/><rect x="116.25" y="376.39" width="7.48" height="6.56" fill="url(#g24)"/><rect x="123.68" y="324.30" width="7.48" height="6.56" fill="url(#g71)"/><rect x="123.68" y="330.81" width="7.48" height="6.56" fill="url(#g71)"/><rect x="123.68" y="337.32" width="7.48" height="6.56" fill="url(#g71)"/><rect x="123.68" y="343.83" width="7.48" height="6.56" fill="url(#g1)"/><rect x="123.68" y="350.34" width="7.48" height="6.56" fill="url(#g1)"/><rect x="123.68" y="356.86" width="7.48" height="6.56" fill="url(#g1)"/><rect x="123.68" y="363.37" width="7.48" height="6.56" fill="url(#g98)"/><rect x="123.68" y="369.88" width="7.48" height="6.56" fill="url(#g98)"/><rect x="123.68" y="376.39" width="7.48" height="6.56" fill="url(#g98)"/><rect x="131.12" y="324.30" width="7.48" height="6.56" fill="url(#g19)"/><rect x="131.12" y="330.81" width="7.48" height="6.56" fill="url(#g19)"/><rect x="131.12" y="337.32" width="7.48" height="6.56" fill="url(#g19)"/><rect x="131.12" y="343.83" width="7.48" height="6.56" fill="url(#g99)"/><rect x="131.12" y="350.34" width="7.48" height="6.56" fill="url(#g99)"/><rect x="131.12" y="356.86" width="7.48" height="6.56" fill="url(#g99)"/><rect x="131.12" y="363.37" width="7.48" height="6.56" fill="url(#g100)"/><rect x="131.12" y="369.88" width="7.48" height="6.56" fill="url(#g100)"/><rect x="131.12" y="376.39" width="7.48" height="6.56" fill="url(#g100)"/><rect x="138.55" y="324.30" width="7.48" height="6.56" fill="url(#g26)"/><rect x="138.55" y="330.81" width="7.48" height="6.56" fill="url(#g26)"/><rect x="138.55" y="337.32" width="7.48" height="6.56" fill="url(#g26)"/><rect x="138.55" y="343.83" width="7.48" height="6.56" fill="url(#g19)"/><rect x="138.55" y="350.34" width="7.48" height="6.56" fill="url(#g19)"/><rect x="138.55" y="356.86" width="7.48" height="6.56" fill="url(#g19)"/><rect x="138.55" y="363.37" width="7.48" height="6.56" fill="url(#g101)"/><rect x="138.55" y="369.88" width="7.48" height="6.56" fill="url(#g101)"/><rect x="138.55" y="376.39" width="7.48" height="6.56" fill="url(#g101)"/><rect x="145.98" y="324.30" width="7.48" height="6.56" fill="url(#g90)"/><rect x="145.98" y="330.81" width="7.48" height="6.56" fill="url(#g90)"/><rect x="145.98" y="337.32" width="7.48" height="6.56" fill="url(#g90)"/><rect x="145.98" y="343.83" width="7.48" height="6.56" fill="url(#g17)"/><rect x="145.98" y="350.34" width="7.48" height="6.56" fill="url(#g17)"/><rect x="145.98" y="356.86" width="7.48" height="6.56" fill="url(#g17)"/><rect x="145.98" y="363.37" width="7.48" height="6.56" fill="url(#g77)"/><rect x="145.98" y="369.88" width="7.48" height="6.56" fill="url(#g77)"/><rect x="145.98" y="376.39" width="7.48" height="6.56" fill="url(#g77)"/><rect x="153.41" y="324.30" width="7.48" height="6.56" fill="url(#g102)"/><rect x="153.41" y="330.81" width="7.48" height="6.56" fill="url(#g102)"/><rect x="153.41" y="337.32" width="7.48" height="6.56" fill="url(#g102)"/><rect x="153.41" y="343.83" width="7.48" height="6.56" fill="url(#g4)"/><rect x="153.41" y="350.34" width="7.48" height="6.56" fill="url(#g4)"/><rect x="153.41" y="356.86" width="7.48" height="6.56" fill="url(#g4)"/><rect x="153.41" y="363.37" width="7.48" height="6.56" fill="url(#g21)"/><rect x="153.41" y="369.88" width="7.48" height="6.56" fill="url(#g21)"/><rect x="153.41" y="376.39" width="7.48" height="6.56" fill="url(#g21)"/><rect x="160.84" y="324.30" width="7.48" height="6.56" fill="url(#g19)"/><rect x="160.84" y="330.81" width="7.48" height="6.56" fill="url(#g19)"/><rect x="160.84" y="337.32" width="7.48" height="6.56" fill="url(#g19)"/><rect x="160.84" y="343.83" width="7.48" height="6.56" fill="url(#g4)"/><rect x="160.84" y="350.34" width="7.48" height="6.56" fill="url(#g4)"/><rect x="160.84" y="356.86" width="7.48" height="6.56" fill="url(#g4)"/><rect x="160.84" y="363.37" width="7.48" height="6.56" fill="url(#g3)"/><rect x="160.84" y="369.88" width="7.48" height="6.56" fill="url(#g3)"/><rect x="160.84" y="376.39" width="7.48" height="6.56" fill="url(#g3)"/><rect x="168.27" y="324.30" width="7.48" height="6.56" fill="url(#g103)"/><rect x="168.27" y="330.81" width="7.48" height="6.56" fill="url(#g103)"/><rect x="168.27" y="337.32" width="7.48" height="6.56" fill="url(#g103)"/><rect x="168.27" y="343.83" width="7.48" height="6.56" fill="url(#g26)"/><rect x="168.27" y="350.34" width="7.48" height="6.56" fill="url(#g26)"/><rect x="168.27" y="356.86" width="7.48" height="6.56" fill="url(#g26)"/><rect x="168.27" y="363.37" width="7.48" height="6.56" fill="url(#g24)"/><rect x="168.27" y="369.88" width="7.48" height="6.56" fill="url(#g24)"/><rect x="168.27" y="376.39" width="7.48" height="6.56" fill="url(#g24)"/><rect x="175.70" y="324.30" width="7.48" height="6.56" fill="url(#g104)"/><rect x="175.70" y="330.81" width="7.48" height="6.56" fill="url(#g104)"/><rect x="175.70" y="337.32" width="7.48" height="6.56" fill="url(#g104)"/><rect x="175.70" y="343.83" width="7.48" height="6.56" fill="url(#g26)"/><rect x="175.70" y="350.34" width="7.48" height="6.56" fill="url(#g26)"/><rect x="175.70" y="356.86" width="7.48" height="6.56" fill="url(#g26)"/><rect x="175.70" y="363.37" width="7.48" height="6.56" fill="url(#g105)"/><rect x="175.70" y="369.88" width="7.48" height="6.56" fill="url(#g105)"/><rect x="175.70" y="376.39" width="7.48" height="6.56" fill="url(#g105)"/><rect x="183.13" y="324.30" width="7.48" height="6.56" fill="url(#g19)"/><rect x="183.13" y="330.81" width="7.48" height="6.56" fill="url(#g19)"/><rect x="183.13" y="337.32" width="7.48" height="6.56" fill="url(#g19)"/><rect x="183.13" y="343.83" width="7.48" height="6.56" fill="url(#g55)"/><rect x="183.13" y="350.34" width="7.48" height="6.56" fill="url(#g55)"/><rect x="183.13" y="356.86" width="7.48" height="6.56" fill="url(#g55)"/><rect x="183.13" y="363.37" width="7.48" height="6.56" fill="url(#g24)"/><rect x="183.13" y="369.88" width="7.48" height="6.56" fill="url(#g24)"/><rect x="183.13" y="376.39" width="7.48" height="6.56" fill="url(#g24)"/><rect x="190.56" y="324.30" width="7.48" height="6.56" fill="url(#g1)"/><rect x="190.56" y="330.81" width="7.48" height="6.56" fill="url(#g1)"/><rect x="190.56" y="337.32" width="7.48" height="6.56" fill="url(#g1)"/><rect x="190.56" y="343.83" width="7.48" height="6.56" fill="url(#g97)"/><rect x="190.56" y="350.34" width="7.48" height="6.56" fill="url(#g97)"/><rect x="190.56" y="356.86" width="7.48" height="6.56" fill="url(#g97)"/><rect x="190.56" y="363.37" width="7.48" height="6.56" fill="url(#g77)"/><rect x="190.56" y="369.88" width="7.48" height="6.56" fill="url(#g77)"/><rect x="190.56" y="376.39" width="7.48" height="6.56" fill="url(#g77)"/><rect x="197.99" y="324.30" width="7.48" height="6.56" fill="url(#g50)"/><rect x="197.99" y="330.81" width="7.48" height="6.56" fill="url(#g50)"/><rect x="197.99" y="337.32" width="7.48" height="6.56" fill="url(#g50)"/><rect x="197.99" y="343.83" width="7.48" height="6.56" fill="url(#g14)"/><rect x="197.99" y="350.34" width="7.48" height="6.56" fill="url(#g14)"/><rect x="197.99" y="356.86" width="7.48" height="6.56" fill="url(#g14)"/><rect x="197.99" y="363.37" width="7.48" height="6.56" fill="url(#g88)"/><rect x="197.99" y="369.88" width="7.48" height="6.56" fill="url(#g88)"/><rect x="197.99" y="376.39" width="7.48" height="6.56" fill="url(#g88)"/><rect x="205.42" y="324.30" width="7.48" height="6.56" fill="url(#g19)"/><rect x="205.42" y="330.81" width="7.48" height="6.56" fill="url(#g19)"/><rect x="205.42" y="337.32" width="7.48" height="6.56" fill="url(#g19)"/><rect x="205.42" y="343.83" width="7.48" height="6.56" fill="url(#g89)"/><rect x="205.42" y="350.34" width="7.48" height="6.56" fill="url(#g89)"/><rect x="205.42" y="356.86" width="7.48" height="6.56" fill="url(#g89)"/><rect x="205.42" y="363.37" width="7.48" height="6.56" fill="url(#g21)"/><rect x="205.42" y="369.88" width="7.48" height="6.56" fill="url(#g21)"/><rect x="205.42" y="376.39" width="7.48" height="6.56" fill="url(#g21)"/><rect x="212.85" y="324.30" width="7.48" height="6.56" fill="url(#g19)"/><rect x="212.85" y="330.81" width="7.48" height="6.56" fill="url(#g19)"/><rect x="212.85" y="337.32" width="7.48" height="6.56" fill="url(#g19)"/><rect x="212.85" y="343.83" width="7.48" height="6.56" fill="url(#g62)"/><rect x="212.85" y="350.34" width="7.48" height="6.56" fill="url(#g62)"/><rect x="212.85" y="356.86" width="7.48" height="6.56" fill="url(#g62)"/><rect x="212.85" y="363.37" width="7.48" height="6.56" fill="url(#g62)"/><rect x="212.85" y="369.88" width="7.48" height="6.56" fill="url(#g62)"/><rect x="212.85" y="376.39" width="7.48" height="6.56" fill="url(#g62)"/><rect x="220.28" y="324.30" width="7.48" height="6.56" fill="url(#g74)"/><rect x="220.28" y="330.81" width="7.48" height="6.56" fill="url(#g74)"/><rect x="220.28" y="337.32" width="7.48" height="6.56" fill="url(#g74)"/><rect x="220.28" y="343.83" width="7.48" height="6.56" fill="url(#g63)"/><rect x="220.28" y="350.34" width="7.48" height="6.56" fill="url(#g63)"/><rect x="220.28" y="356.86" width="7.48" height="6.56" fill="url(#g63)"/><rect x="220.28" y="363.37" width="7.48" height="6.56" fill="url(#g106)"/><rect x="220.28" y="369.88" width="7.48" height="6.56" fill="url(#g106)"/><rect x="220.28" y="376.39" width="7.48" height="6.56" fill="url(#g106)"/><rect x="227.72" y="324.30" width="7.48" height="6.56" fill="url(#g74)"/><rect x="227.72" y="330.81" width="7.48" height="6.56" fill="url(#g74)"/><rect x="227.72" y="337.32" width="7.48" height="6.56" fill="url(#g74)"/><rect x="227.72" y="343.83" width="7.48" height="6.56" fill="url(#g42)"/><rect x="227.72" y="350.34" width="7.48" height="6.56" fill="url(#g42)"/><rect x="227.72" y="356.86" width="7.48" height="6.56" fill="url(#g42)"/><rect x="227.72" y="363.37" width="7.48" height="6.56" fill="url(#g100)"/><rect x="227.72" y="369.88" width="7.48" height="6.56" fill="url(#g100)"/><rect x="227.72" y="376.39" width="7.48" height="6.56" fill="url(#g100)"/><rect x="235.15" y="324.30" width="7.48" height="6.56" fill="url(#g74)"/><rect x="235.15" y="330.81" width="7.48" height="6.56" fill="url(#g74)"/><rect x="235.15" y="337.32" width="7.48" height="6.56" fill="url(#g74)"/><rect x="235.15" y="343.83" width="7.48" height="6.56" fill="url(#g78)"/><rect x="235.15" y="350.34" width="7.48" height="6.56" fill="url(#g78)"/><rect x="235.15" y="356.86" width="7.48" height="6.56" fill="url(#g78)"/><rect x="235.15" y="363.37" width="7.48" height="6.56" fill="url(#g72)"/><rect x="235.15" y="369.88" width="7.48" height="6.56" fill="url(#g72)"/><rect x="235.15" y="376.39" width="7.48" height="6.56" fill="url(#g72)"/><rect x="242.58" y="324.30" width="7.48" height="6.56" fill="url(#g50)"/><rect x="242.58" y="330.81" width="7.48" height="6.56" fill="url(#g50)"/><rect x="242.58" y="337.32" width="7.48" height="6.56" fill="url(#g50)"/><rect x="242.58" y="343.83" width="7.48" height="6.56" fill="url(#g46)"/><rect x="242.58" y="350.34" width="7.48" height="6.56" fill="url(#g46)"/><rect x="242.58" y="356.86" width="7.48" height="6.56" fill="url(#g46)"/><rect x="242.58" y="363.37" width="7.48" height="6.56" fill="url(#g42)"/><rect x="242.58" y="369.88" width="7.48" height="6.56" fill="url(#g42)"/><rect x="242.58" y="376.39" width="7.48" height="6.56" fill="url(#g42)"/><rect x="250.01" y="324.30" width="7.48" height="6.56" fill="url(#g50)"/><rect x="250.01" y="330.81" width="7.48" height="6.56" fill="url(#g50)"/><rect x="250.01" y="337.32" width="7.48" height="6.56" fill="url(#g50)"/><rect x="250.01" y="343.83" width="7.48" height="6.56" fill="url(#g46)"/><rect x="250.01" y="350.34" width="7.48" height="6.56" fill="url(#g46)"/><rect x="250.01" y="356.86" width="7.48" height="6.56" fill="url(#g46)"/><rect x="250.01" y="363.37" width="7.48" height="6.56" fill="url(#g78)"/><rect x="250.01" y="369.88" width="7.48" height="6.56" fill="url(#g78)"/><rect x="250.01" y="376.39" width="7.48" height="6.56" fill="url(#g78)"/><rect x="257.44" y="324.30" width="7.48" height="6.56" fill="url(#g19)"/><rect x="257.44" y="330.81" width="7.48" height="6.56" fill="url(#g19)"/><rect x="257.44" y="337.32" width="7.48" height="6.56" fill="url(#g19)"/><rect x="257.44" y="343.83" width="7.48" height="6.56" fill="url(#g47)"/><rect x="257.44" y="350.34" width="7.48" height="6.56" fill="url(#g47)"/><rect x="257.44" y="356.86" width="7.48" height="6.56" fill="url(#g47)"/><rect x="257.44" y="363.37" width="7.48" height="6.56" fill="url(#g46)"/><rect x="257.44" y="369.88" width="7.48" height="6.56" fill="url(#g46)"/><rect x="257.44" y="376.39" width="7.48" height="6.56" fill="url(#g46)"/><rect x="264.87" y="324.30" width="7.48" height="6.56" fill="url(#g1)"/><rect x="264.87" y="330.81" width="7.48" height="6.56" fill="url(#g1)"/><rect x="264.87" y="337.32" width="7.48" height="6.56" fill="url(#g1)"/><rect x="264.87" y="343.83" width="7.48" height="6.56" fill="url(#g42)"/><rect x="264.87" y="350.34" width="7.48" height="6.56" fill="url(#g42)"/><rect x="264.87" y="356.86" width="7.48" height="6.56" fill="url(#g42)"/><rect x="264.87" y="363.37" width="7.48" height="6.56" fill="url(#g100)"/><rect x="264.87" y="369.88" width="7.48" height="6.56" fill="url(#g100)"/><rect x="264.87" y="376.39" width="7.48" height="6.56" fill="url(#g100)"/><rect x="272.30" y="324.30" width="7.48" height="6.56" fill="url(#g84)"/><rect x="272.30" y="330.81" width="7.48" height="6.56" fill="url(#g84)"/><rect x="272.30" y="337.32" width="7.48" height="6.56" fill="url(#g84)"/><rect x="272.30" y="343.83" width="7.48" height="6.56" fill="url(#g107)"/><rect x="272.30" y="350.34" width="7.48" height="6.56" fill="url(#g107)"/><rect x="272.30" y="356.86" width="7.48" height="6.56" fill="url(#g107)"/><rect x="272.30" y="363.37" width="7.48" height="6.56" fill="url(#g108)"/><rect x="272.30" y="369.88" width="7.48" height="6.56" fill="url(#g108)"/><rect x="272.30" y="376.39" width="7.48" height="6.56" fill="url(#g108)"/><rect x="279.73" y="324.30" width="7.48" height="6.56" fill="url(#g19)"/><rect x="279.73" y="330.81" width="7.48" height="6.56" fill="url(#g19)"/><rect x="279.73" y="337.32" width="7.48" height="6.56" fill="url(#g19)"/><rect x="279.73" y="343.83" width="7.48" height="6.56" fill="url(#g88)"/><rect x="279.73" y="350.34" width="7.48" height="6.56" fill="url(#g88)"/><rect x="279.73" y="356.86" width="7.48" height="6.56" fill="url(#g88)"/><rect x="279.73" y="363.37" width="7.48" height="6.56" fill="url(#g97)"/><rect x="279.73" y="369.88" width="7.48" height="6.56" fill="url(#g97)"/><rect x="279.73" y="376.39" width="7.48" height="6.56" fill="url(#g97)"/><rect x="287.16" y="324.30" width="7.48" height="6.56" fill="url(#g19)"/><rect x="287.16" y="330.81" width="7.48" height="6.56" fill="url(#g19)"/><rect x="287.16" y="337.32" width="7.48" height="6.56" fill="url(#g19)"/><rect x="287.16" y="343.83" width="7.48" height="6.56" fill="url(#g98)"/><rect x="287.16" y="350.34" width="7.48" height="6.56" fill="url(#g98)"/><rect x="287.16" y="356.86" width="7.48" height="6.56" fill="url(#g98)"/><rect x="287.16" y="363.37" width="7.48" height="6.56" fill="url(#g97)"/><rect x="287.16" y="369.88" width="7.48" height="6.56" fill="url(#g97)"/><rect x="287.16" y="376.39" width="7.48" height="6.56" fill="url(#g97)"/><rect x="294.59" y="324.30" width="7.48" height="6.56" fill="url(#g79)"/><rect x="294.59" y="330.81" width="7.48" height="6.56" fill="url(#g79)"/><rect x="294.59" y="337.32" width="7.48" height="6.56" fill="url(#g79)"/><rect x="294.59" y="343.83" width="7.48" height="6.56" fill="url(#g109)"/><rect x="294.59" y="350.34" width="7.48" height="6.56" fill="url(#g109)"/><rect x="294.59" y="356.86" width="7.48" height="6.56" fill="url(#g109)"/><rect x="294.59" y="363.37" width="7.48" height="6.56" fill="url(#g43)"/><rect x="294.59" y="369.88" width="7.48" height="6.56" fill="url(#g43)"/><rect x="294.59" y="376.39" width="7.48" height="6.56" fill="url(#g43)"/><rect x="302.02" y="324.30" width="7.48" height="6.56" fill="url(#g110)"/><rect x="302.02" y="330.81" width="7.48" height="6.56" fill="url(#g110)"/><rect x="302.02" y="337.32" width="7.48" height="6.56" fill="url(#g110)"/><rect x="302.02" y="343.83" width="7.48" height="6.56" fill="url(#g16)"/><rect x="302.02" y="350.34" width="7.48" height="6.56" fill="url(#g16)"/><rect x="302.02" y="356.86" width="7.48" height="6.56" fill="url(#g16)"/><rect x="302.02" y="363.37" width="7.48" height="6.56" fill="url(#g98)"/><rect x="302.02" y="369.88" width="7.48" height="6.56" fill="url(#g98)"/><rect x="302.02" y="376.39" width="7.48" height="6.56" fill="url(#g98)"/><rect x="309.45" y="324.30" width="7.48" height="6.56" fill="url(#g74)"/><rect x="309.45" y="330.81" width="7.48" height="6.56" fill="url(#g74)"/><rect x="309.45" y="337.32" width="7.48" height="6.56" fill="url(#g74)"/><rect x="309.45" y="343.83" width="7.48" height="6.56" fill="url(#g11)"/><rect x="309.45" y="350.34" width="7.48" height="6.56" fill="url(#g11)"/><rect x="309.45" y="356.86" width="7.48" height="6.56" fill="url(#g11)"/><rect x="309.45" y="363.37" width="7.48" height="6.56" fill="url(#g100)"/><rect x="309.45" y="369.88" width="7.48" height="6.56" fill="url(#g100)"/><rect x="309.45" y="376.39" width="7.48" height="6.56" fill="url(#g100)"/><rect x="316.88" y="324.30" width="7.48" height="6.56" fill="url(#g19)"/><rect x="316.88" y="330.81" width="7.48" height="6.56" fill="url(#g19)"/><rect x="316.88" y="337.32" width="7.48" height="6.56" fill="url(#g19)"/><rect x="316.88" y="343.83" width="7.48" height="6.56" fill="url(#g11)"/><rect x="316.88" y="350.34" width="7.48" height="6.56" fill="url(#g11)"/><rect x="316.88" y="356.86" width="7.48" height="6.56" fill="url(#g11)"/><rect x="316.88" y="363.37" width="7.48" height="6.56" fill="url(#g111)"/><rect x="316.88" y="369.88" width="7.48" height="6.56" fill="url(#g111)"/><rect x="316.88" y="376.39" width="7.48" height="6.56" fill="url(#g111)"/><rect x="324.32" y="324.30" width="7.48" height="6.56" fill="url(#g4)"/><rect x="324.32" y="330.81" width="7.48" height="6.56" fill="url(#g4)"/><rect x="324.32" y="337.32" width="7.48" height="6.56" fill="url(#g4)"/><rect x="324.32" y="343.83" width="7.48" height="6.56" fill="url(#g16)"/><rect x="324.32" y="350.34" width="7.48" height="6.56" fill="url(#g16)"/><rect x="324.32" y="356.86" width="7.48" height="6.56" fill="url(#g16)"/><rect x="324.32" y="363.37" width="7.48" height="6.56" fill="url(#g112)"/><rect x="324.32" y="369.88" width="7.48" height="6.56" fill="url(#g112)"/><rect x="324.32" y="376.39" width="7.48" height="6.56" fill="url(#g112)"/><rect x="331.75" y="324.30" width="7.48" height="6.56" fill="url(#g19)"/><rect x="331.75" y="330.81" width="7.48" height="6.56" fill="url(#g19)"/><rect x="331.75" y="337.32" width="7.48" height="6.56" fill="url(#g19)"/><rect x="331.75" y="343.83" width="7.48" height="6.56" fill="url(#g113)"/><rect x="331.75" y="350.34" width="7.48" height="6.56" fill="url(#g113)"/><rect x="331.75" y="356.86" width="7.48" height="6.56" fill="url(#g113)"/><rect x="331.75" y="363.37" width="7.48" height="6.56" fill="url(#g88)"/><rect x="331.75" y="369.88" width="7.48" height="6.56" fill="url(#g88)"/><rect x="331.75" y="376.39" width="7.48" height="6.56" fill="url(#g88)"/><rect x="339.18" y="324.30" width="7.48" height="6.56" fill="url(#g71)"/><rect x="339.18" y="330.81" width="7.48" height="6.56" fill="url(#g71)"/><rect x="339.18" y="337.32" width="7.48" height="6.56" fill="url(#g71)"/><rect x="339.18" y="343.83" width="7.48" height="6.56" fill="url(#g66)"/><rect x="339.18" y="350.34" width="7.48" height="6.56" fill="url(#g66)"/><rect x="339.18" y="356.86" width="7.48" height="6.56" fill="url(#g66)"/><rect x="339.18" y="363.37" width="7.48" height="6.56" fill="url(#g108)"/><rect x="339.18" y="369.88" width="7.48" height="6.56" fill="url(#g108)"/><rect x="339.18" y="376.39" width="7.48" height="6.56" fill="url(#g108)"/><rect x="346.61" y="324.30" width="7.48" height="6.56" fill="url(#g114)"/><rect x="346.61" y="330.81" width="7.48" height="6.56" fill="url(#g114)"/><rect x="346.61" y="337.32" width="7.48" height="6.56" fill="url(#g114)"/><rect x="346.61" y="343.83" width="7.48" height="6.56" fill="url(#g115)"/><rect x="346.61" y="350.34" width="7.48" height="6.56" fill="url(#g115)"/><rect x="346.61" y="356.86" width="7.48" height="6.56" fill="url(#g115)"/><rect x="346.61" y="363.37" width="7.48" height="6.56" fill="url(#g116)"/><rect x="346.61" y="369.88" width="7.48" height="6.56" fill="url(#g116)"/><rect x="346.61" y="376.39" width="7.48" height="6.56" fill="url(#g116)"/><rect x="354.04" y="324.30" width="7.48" height="6.56" fill="url(#g74)"/><rect x="354.04" y="330.81" width="7.48" height="6.56" fill="url(#g74)"/><rect x="354.04" y="337.32" width="7.48" height="6.56" fill="url(#g74)"/><rect x="354.04" y="343.83" width="7.48" height="6.56" fill="url(#g42)"/><rect x="354.04" y="350.34" width="7.48" height="6.56" fill="url(#g42)"/><rect x="354.04" y="356.86" width="7.48" height="6.56" fill="url(#g42)"/><rect x="354.04" y="363.37" width="7.48" height="6.56" fill="url(#g66)"/><rect x="354.04" y="369.88" width="7.48" height="6.56" fill="url(#g66)"/><rect x="354.04" y="376.39" width="7.48" height="6.56" fill="url(#g66)"/><rect x="361.47" y="324.30" width="7.48" height="6.56" fill="url(#g44)"/><rect x="361.47" y="330.81" width="7.48" height="6.56" fill="url(#g44)"/><rect x="361.47" y="337.32" width="7.48" height="6.56" fill="url(#g44)"/><rect x="361.47" y="343.83" width="7.48" height="6.56" fill="url(#g117)"/><rect x="361.47" y="350.34" width="7.48" height="6.56" fill="url(#g117)"/><rect x="361.47" y="356.86" width="7.48" height="6.56" fill="url(#g117)"/><rect x="361.47" y="363.37" width="7.48" height="6.56" fill="url(#g66)"/><rect x="361.47" y="369.88" width="7.48" height="6.56" fill="url(#g66)"/><rect x="361.47" y="376.39" width="7.48" height="6.56" fill="url(#g66)"/><rect x="368.90" y="324.30" width="7.48" height="6.56" fill="url(#g84)"/><rect x="368.90" y="330.81" width="7.48" height="6.56" fill="url(#g84)"/><rect x="368.90" y="337.32" width="7.48" height="6.56" fill="url(#g84)"/><rect x="368.90" y="343.83" width="7.48" height="6.56" fill="url(#g100)"/><rect x="368.90" y="350.34" width="7.48" height="6.56" fill="url(#g100)"/><rect x="368.90" y="356.86" width="7.48" height="6.56" fill="url(#g100)"/><rect x="368.90" y="363.37" width="7.48" height="6.56" fill="url(#g116)"/><rect x="368.90" y="369.88" width="7.48" height="6.56" fill="url(#g116)"/><rect x="368.90" y="376.39" width="7.48" height="6.56" fill="url(#g116)"/><rect x="376.33" y="324.30" width="7.48" height="6.56" fill="url(#g35)"/><rect x="376.33" y="330.81" width="7.48" height="6.56" fill="url(#g35)"/><rect x="376.33" y="337.32" width="7.48" height="6.56" fill="url(#g35)"/><rect x="376.33" y="343.83" width="7.48" height="6.56" fill="url(#g118)"/><rect x="376.33" y="350.34" width="7.48" height="6.56" fill="url(#g118)"/><rect x="376.33" y="356.86" width="7.48" height="6.56" fill="url(#g118)"/><rect x="376.33" y="363.37" width="7.48" height="6.56" fill="url(#g119)"/><rect x="376.33" y="369.88" width="7.48" height="6.56" fill="url(#g119)"/><rect x="376.33" y="376.39" width="7.48" height="6.56" fill="url(#g119)"/><rect x="383.76" y="324.30" width="7.48" height="6.56" fill="url(#g120)"/><rect x="383.76" y="330.81" width="7.48" height="6.56" fill="url(#g120)"/><rect x="383.76" y="337.32" width="7.48" height="6.56" fill="url(#g120)"/><rect x="383.76" y="343.83" width="7.48" height="6.56" fill="url(#g121)"/><rect x="383.76" y="350.34" width="7.48" height="6.56" fill="url(#g121)"/><rect x="383.76" y="356.86" width="7.48" height="6.56" fill="url(#g121)"/><rect x="383.76" y="363.37" width="7.48" height="6.56" fill="url(#g100)"/><rect x="383.76" y="369.88" width="7.48" height="6.56" fill="url(#g100)"/><rect x="383.76" y="376.39" width="7.48" height="6.56" fill="url(#g100)"/><rect x="391.19" y="324.30" width="7.48" height="6.56" fill="url(#g67)"/><rect x="391.19" y="330.81" width="7.48" height="6.56" fill="url(#g67)"/><rect x="391.19" y="337.32" width="7.48" height="6.56" fill="url(#g67)"/><rect x="391.19" y="343.83" width="7.48" height="6.56" fill="url(#g122)"/><rect x="391.19" y="350.34" width="7.48" height="6.56" fill="url(#g122)"/><rect x="391.19" y="356.86" width="7.48" height="6.56" fill="url(#g122)"/><rect x="391.19" y="363.37" width="7.48" height="6.56" fill="url(#g119)"/><rect x="391.19" y="369.88" width="7.48" height="6.56" fill="url(#g119)"/><rect x="391.19" y="376.39" width="7.48" height="6.56" fill="url(#g119)"/><rect x="398.62" y="324.30" width="7.48" height="6.56" fill="url(#g56)"/><rect x="398.62" y="330.81" width="7.48" height="6.56" fill="url(#g56)"/><rect x="398.62" y="337.32" width="7.48" height="6.56" fill="url(#g56)"/><rect x="398.62" y="343.83" width="7.48" height="6.56" fill="url(#g54)"/><rect x="398.62" y="350.34" width="7.48" height="6.56" fill="url(#g54)"/><rect x="398.62" y="356.86" width="7.48" height="6.56" fill="url(#g54)"/><rect x="398.62" y="363.37" width="7.48" height="6.56" fill="url(#g100)"/><rect x="398.62" y="369.88" width="7.48" height="6.56" fill="url(#g100)"/><rect x="398.62" y="376.39" width="7.48" height="6.56" fill="url(#g100)"/><rect x="406.05" y="324.30" width="7.48" height="6.56" fill="url(#g19)"/><rect x="406.05" y="330.81" width="7.48" height="6.56" fill="url(#g19)"/><rect x="406.05" y="337.32" width="7.48" height="6.56" fill="url(#g19)"/><rect x="406.05" y="343.83" width="7.48" height="6.56" fill="url(#g123)"/><rect x="406.05" y="350.34" width="7.48" height="6.56" fill="url(#g123)"/><rect x="406.05" y="356.86" width="7.48" height="6.56" fill="url(#g123)"/><rect x="406.05" y="363.37" width="7.48" height="6.56" fill="url(#g23)"/><rect x="406.05" y="369.88" width="7.48" height="6.56" fill="url(#g23)"/><rect x="406.05" y="376.39" width="7.48" height="6.56" fill="url(#g23)"/><rect x="413.48" y="324.30" width="7.48" height="6.56" fill="url(#g49)"/><rect x="413.48" y="330.81" width="7.48" height="6.56" fill="url(#g49)"/><rect x="413.48" y="337.32" width="7.48" height="6.56" fill="url(#g49)"/><rect x="413.48" y="343.83" width="7.48" height="6.56" fill="url(#g115)"/><rect x="413.48" y="350.34" width="7.48" height="6.56" fill="url(#g115)"/><rect x="413.48" y="356.86" width="7.48" height="6.56" fill="url(#g115)"/><rect x="413.48" y="363.37" width="7.48" height="6.56" fill="url(#g124)"/><rect x="413.48" y="369.88" width="7.48" height="6.56" fill="url(#g124)"/><rect x="413.48" y="376.39" width="7.48" height="6.56" fill="url(#g124)"/><rect x="420.92" y="324.30" width="7.48" height="6.56" fill="url(#g49)"/><rect x="420.92" y="330.81" width="7.48" height="6.56" fill="url(#g49)"/><rect x="420.92" y="337.32" width="7.48" height="6.56" fill="url(#g49)"/><rect x="420.92" y="343.83" width="7.48" height="6.56" fill="url(#g125)"/><rect x="420.92" y="350.34" width="7.48" height="6.56" fill="url(#g125)"/><rect x="420.92" y="356.86" width="7.48" height="6.56" fill="url(#g125)"/><rect x="420.92" y="363.37" width="7.48" height="6.56" fill="url(#g88)"/><rect x="420.92" y="369.88" width="7.48" height="6.56" fill="url(#g88)"/><rect x="420.92" y="376.39" width="7.48" height="6.56" fill="url(#g88)"/><rect x="428.35" y="324.30" width="7.48" height="6.56" fill="url(#g50)"/><rect x="428.35" y="330.81" width="7.48" height="6.56" fill="url(#g50)"/><rect x="428.35" y="337.32" width="7.48" height="6.56" fill="url(#g50)"/><rect x="428.35" y="343.83" width="7.48" height="6.56" fill="url(#g126)"/><rect x="428.35" y="350.34" width="7.48" height="6.56" fill="url(#g126)"/><rect x="428.35" y="356.86" width="7.48" height="6.56" fill="url(#g126)"/><rect x="428.35" y="363.37" width="7.48" height="6.56" fill="url(#g24)"/><rect x="428.35" y="369.88" width="7.48" height="6.56" fill="url(#g24)"/><rect x="428.35" y="376.39" width="7.48" height="6.56" fill="url(#g24)"/><rect x="435.78" y="324.30" width="7.48" height="6.56" fill="url(#g19)"/><rect x="435.78" y="330.81" width="7.48" height="6.56" fill="url(#g19)"/><rect x="435.78" y="337.32" width="7.48" height="6.56" fill="url(#g19)"/><rect x="435.78" y="343.83" width="7.48" height="6.56" fill="url(#g125)"/><rect x="435.78" y="350.34" width="7.48" height="6.56" fill="url(#g125)"/><rect x="435.78" y="356.86" width="7.48" height="6.56" fill="url(#g125)"/><rect x="435.78" y="363.37" width="7.48" height="6.56" fill="url(#g48)"/><rect x="435.78" y="369.88" width="7.48" height="6.56" fill="url(#g48)"/><rect x="435.78" y="376.39" width="7.48" height="6.56" fill="url(#g48)"/><rect x="443.21" y="324.30" width="7.48" height="6.56" fill="url(#g17)"/><rect x="443.21" y="330.81" width="7.48" height="6.56" fill="url(#g17)"/><rect x="443.21" y="337.32" width="7.48" height="6.56" fill="url(#g17)"/><rect x="443.21" y="343.83" width="7.48" height="6.56" fill="url(#g88)"/><rect x="443.21" y="350.34" width="7.48" height="6.56" fill="url(#g88)"/><rect x="443.21" y="356.86" width="7.48" height="6.56" fill="url(#g88)"/><rect x="443.21" y="363.37" width="7.48" height="6.56" fill="url(#g42)"/><rect x="443.21" y="369.88" width="7.48" height="6.56" fill="url(#g42)"/><rect x="443.21" y="376.39" width="7.48" height="6.56" fill="url(#g42)"/><rect x="450.64" y="324.30" width="7.48" height="6.56" fill="url(#g79)"/><rect x="450.64" y="330.81" width="7.48" height="6.56" fill="url(#g79)"/><rect x="450.64" y="337.32" width="7.48" height="6.56" fill="url(#g79)"/><rect x="450.64" y="343.83" width="7.48" height="6.56" fill="url(#g127)"/><rect x="450.64" y="350.34" width="7.48" height="6.56" fill="url(#g127)"/><rect x="450.64" y="356.86" width="7.48" height="6.56" fill="url(#g127)"/><rect x="450.64" y="363.37" width="7.48" height="6.56" fill="url(#g66)"/><rect x="450.64" y="369.88" width="7.48" height="6.56" fill="url(#g66)"/><rect x="450.64" y="376.39" width="7.48" height="6.56" fill="url(#g66)"/><rect x="458.07" y="324.30" width="7.48" height="6.56" fill="url(#g84)"/><rect x="458.07" y="330.81" width="7.48" height="6.56" fill="url(#g84)"/><rect x="458.07" y="337.32" width="7.48" height="6.56" fill="url(#g84)"/><rect x="458.07" y="343.83" width="7.48" height="6.56" fill="url(#g106)"/><rect x="458.07" y="350.34" width="7.48" height="6.56" fill="url(#g106)"/><rect x="458.07" y="356.86" width="7.48" height="6.56" fill="url(#g106)"/><rect x="458.07" y="363.37" width="7.48" height="6.56" fill="url(#g128)"/><rect x="458.07" y="369.88" width="7.48" height="6.56" fill="url(#g128)"/><rect x="458.07" y="376.39" width="7.48" height="6.56" fill="url(#g128)"/><rect x="465.50" y="324.30" width="7.48" height="6.56" fill="url(#g84)"/><rect x="465.50" y="330.81" width="7.48" height="6.56" fill="url(#g84)"/><rect x="465.50" y="337.32" width="7.48" height="6.56" fill="url(#g84)"/><rect x="465.50" y="343.83" width="7.48" height="6.56" fill="url(#g100)"/><rect x="465.50" y="350.34" width="7.48" height="6.56" fill="url(#g100)"/><rect x="465.50" y="356.86" width="7.48" height="6.56" fill="url(#g100)"/><rect x="465.50" y="363.37" width="7.48" height="6.56" fill="url(#g42)"/><rect x="465.50" y="369.88" width="7.48" height="6.56" fill="url(#g42)"/><rect x="465.50" y="376.39" width="7.48" height="6.56" fill="url(#g42)"/><rect x="472.93" y="324.30" width="7.48" height="6.56" fill="url(#g84)"/><rect x="472.93" y="330.81" width="7.48" height="6.56" fill="url(#g84)"/><rect x="472.93" y="337.32" width="7.48" height="6.56" fill="url(#g84)"/><rect x="472.93" y="343.83" width="7.48" height="6.56" fill="url(#g126)"/><rect x="472.93" y="350.34" width="7.48" height="6.56" fill="url(#g126)"/><rect x="472.93" y="356.86" width="7.48" height="6.56" fill="url(#g126)"/><rect x="472.93" y="363.37" width="7.48" height="6.56" fill="url(#g66)"/><rect x="472.93" y="369.88" width="7.48" height="6.56" fill="url(#g66)"/><rect x="472.93" y="376.39" width="7.48" height="6.56" fill="url(#g66)"/><rect x="480.36" y="324.30" width="7.48" height="6.56" fill="url(#g17)"/><rect x="480.36" y="330.81" width="7.48" height="6.56" fill="url(#g17)"/><rect x="480.36" y="337.32" width="7.48" height="6.56" fill="url(#g17)"/><rect x="480.36" y="343.83" width="7.48" height="6.56" fill="url(#g82)"/><rect x="480.36" y="350.34" width="7.48" height="6.56" fill="url(#g82)"/><rect x="480.36" y="356.86" width="7.48" height="6.56" fill="url(#g82)"/><rect x="480.36" y="363.37" width="7.48" height="6.56" fill="url(#g99)"/><rect x="480.36" y="369.88" width="7.48" height="6.56" fill="url(#g99)"/><rect x="480.36" y="376.39" width="7.48" height="6.56" fill="url(#g99)"/><rect x="487.79" y="324.30" width="7.48" height="6.56" fill="url(#g17)"/><rect x="487.79" y="330.81" width="7.48" height="6.56" fill="url(#g17)"/><rect x="487.79" y="337.32" width="7.48" height="6.56" fill="url(#g17)"/><rect x="487.79" y="343.83" width="7.48" height="6.56" fill="url(#g125)"/><rect x="487.79" y="350.34" width="7.48" height="6.56" fill="url(#g125)"/><rect x="487.79" y="356.86" width="7.48" height="6.56" fill="url(#g125)"/><rect x="487.79" y="363.37" width="7.48" height="6.56" fill="url(#g66)"/><rect x="487.79" y="369.88" width="7.48" height="6.56" fill="url(#g66)"/><rect x="487.79" y="376.39" width="7.48" height="6.56" fill="url(#g66)"/><rect x="495.22" y="324.30" width="7.48" height="6.56" fill="url(#g17)"/><rect x="495.22" y="330.81" width="7.48" height="6.56" fill="url(#g17)"/><rect x="495.22" y="337.32" width="7.48" height="6.56" fill="url(#g17)"/><rect x="495.22" y="343.83" width="7.48" height="6.56" fill="url(#g129)"/><rect x="495.22" y="350.34" width="7.48" height="6.56" fill="url(#g129)"/><rect x="495.22" y="356.86" width="7.48" height="6.56" fill="url(#g129)"/><rect x="495.22" y="363.37" width="7.48" height="6.56" fill="url(#g42)"/><rect x="495.22" y="369.88" width="7.48" height="6.56" fill="url(#g42)"/><rect x="495.22" y="376.39" width="7.48" height="6.56" fill="url(#g42)"/><rect x="502.65" y="324.30" width="7.48" height="6.56" fill="url(#g74)"/><rect x="502.65" y="330.81" width="7.48" height="6.56" fill="url(#g74)"/><rect x="502.65" y="337.32" width="7.48" height="6.56" fill="url(#g74)"/><rect x="502.65" y="343.83" width="7.48" height="6.56" fill="url(#g55)"/><rect x="502.65" y="350.34" width="7.48" height="6.56" fill="url(#g55)"/><rect x="502.65" y="356.86" width="7.48" height="6.56" fill="url(#g55)"/><rect x="502.65" y="363.37" width="7.48" height="6.56" fill="url(#g116)"/><rect x="502.65" y="369.88" width="7.48" height="6.56" fill="url(#g116)"/><rect x="502.65" y="376.39" width="7.48" height="6.56" fill="url(#g116)"/><rect x="510.08" y="324.30" width="7.48" height="6.56" fill="url(#g17)"/><rect x="510.08" y="330.81" width="7.48" height="6.56" fill="url(#g17)"/><rect x="510.08" y="337.32" width="7.48" height="6.56" fill="url(#g17)"/><rect x="510.08" y="343.83" width="7.48" height="6.56" fill="url(#g55)"/><rect x="510.08" y="350.34" width="7.48" height="6.56" fill="url(#g55)"/><rect x="510.08" y="356.86" width="7.48" height="6.56" fill="url(#g55)"/><rect x="510.08" y="363.37" width="7.48" height="6.56" fill="url(#g118)"/><rect x="510.08" y="369.88" width="7.48" height="6.56" fill="url(#g118)"/><rect x="510.08" y="376.39" width="7.48" height="6.56" fill="url(#g118)"/><rect x="517.52" y="324.30" width="7.48" height="6.56" fill="url(#g4)"/><rect x="517.52" y="330.81" width="7.48" height="6.56" fill="url(#g4)"/><rect x="517.52" y="337.32" width="7.48" height="6.56" fill="url(#g4)"/><rect x="517.52" y="343.83" width="7.48" height="6.56" fill="url(#g130)"/><rect x="517.52" y="350.34" width="7.48" height="6.56" fill="url(#g130)"/><rect x="517.52" y="356.86" width="7.48" height="6.56" fill="url(#g130)"/><rect x="517.52" y="363.37" width="7.48" height="6.56" fill="url(#g66)"/><rect x="517.52" y="369.88" width="7.48" height="6.56" fill="url(#g66)"/><rect x="517.52" y="376.39" width="7.48" height="6.56" fill="url(#g66)"/><rect x="524.95" y="324.30" width="7.48" height="6.56" fill="url(#g26)"/><rect x="524.95" y="330.81" width="7.48" height="6.56" fill="url(#g26)"/><rect x="524.95" y="337.32" width="7.48" height="6.56" fill="url(#g26)"/><rect x="524.95" y="343.83" width="7.48" height="6.56" fill="url(#g24)"/><rect x="524.95" y="350.34" width="7.48" height="6.56" fill="url(#g24)"/><rect x="524.95" y="356.86" width="7.48" height="6.56" fill="url(#g24)"/><rect x="524.95" y="363.37" width="7.48" height="6.56" fill="url(#g17)"/><rect x="524.95" y="369.88" width="7.48" height="6.56" fill="url(#g17)"/><rect x="524.95" y="376.39" width="7.48" height="6.56" fill="url(#g17)"/><rect x="532.38" y="324.30" width="7.48" height="6.56" fill="url(#g19)"/><rect x="532.38" y="330.81" width="7.48" height="6.56" fill="url(#g19)"/><rect x="532.38" y="337.32" width="7.48" height="6.56" fill="url(#g19)"/><rect x="532.38" y="343.83" width="7.48" height="6.56" fill="url(#g131)"/><rect x="532.38" y="350.34" width="7.48" height="6.56" fill="url(#g131)"/><rect x="532.38" y="356.86" width="7.48" height="6.56" fill="url(#g131)"/><rect x="532.38" y="363.37" width="7.48" height="6.56" fill="url(#g46)"/><rect x="532.38" y="369.88" width="7.48" height="6.56" fill="url(#g46)"/><rect x="532.38" y="376.39" width="7.48" height="6.56" fill="url(#g46)"/><rect x="539.81" y="324.30" width="7.48" height="6.56" fill="url(#g74)"/><rect x="539.81" y="330.81" width="7.48" height="6.56" fill="url(#g74)"/><rect x="539.81" y="337.32" width="7.48" height="6.56" fill="url(#g74)"/><rect x="539.81" y="343.83" width="7.48" height="6.56" fill="url(#g119)"/><rect x="539.81" y="350.34" width="7.48" height="6.56" fill="url(#g119)"/><rect x="539.81" y="356.86" width="7.48" height="6.56" fill="url(#g119)"/><rect x="539.81" y="363.37" width="7.48" height="6.56" fill="url(#g124)"/><rect x="539.81" y="369.88" width="7.48" height="6.56" fill="url(#g124)"/><rect x="539.81" y="376.39" width="7.48" height="6.56" fill="url(#g124)"/><rect x="547.24" y="324.30" width="7.48" height="6.56" fill="url(#g84)"/><rect x="547.24" y="330.81" width="7.48" height="6.56" fill="url(#g84)"/><rect x="547.24" y="337.32" width="7.48" height="6.56" fill="url(#g84)"/><rect x="547.24" y="343.83" width="7.48" height="6.56" fill="url(#g62)"/><rect x="547.24" y="350.34" width="7.48" height="6.56" fill="url(#g62)"/><rect x="547.24" y="356.86" width="7.48" height="6.56" fill="url(#g62)"/><rect x="547.24" y="363.37" width="7.48" height="6.56" fill="url(#g91)"/><rect x="547.24" y="369.88" width="7.48" height="6.56" fill="url(#g91)"/><rect x="547.24" y="376.39" width="7.48" height="6.56" fill="url(#g91)"/><rect x="554.67" y="324.30" width="7.48" height="6.56" fill="url(#g79)"/><rect x="554.67" y="330.81" width="7.48" height="6.56" fill="url(#g79)"/><rect x="554.67" y="337.32" width="7.48" height="6.56" fill="url(#g79)"/><rect x="554.67" y="343.83" width="7.48" height="6.56" fill="url(#g78)"/><rect x="554.67" y="350.34" width="7.48" height="6.56" fill="url(#g78)"/><rect x="554.67" y="356.86" width="7.48" height="6.56" fill="url(#g78)"/><rect x="554.67" y="363.37" width="7.48" height="6.56" fill="url(#g78)"/><rect x="554.67" y="369.88" width="7.48" height="6.56" fill="url(#g78)"/><rect x="554.67" y="376.39" width="7.48" height="6.56" fill="url(#g78)"/><text transform="translate(80.82,390.30) rotate(90)" font-family="Liberation Serif" font-size="6.15" fill="#000" stroke="#000" stroke-width="0.22">Undecane-M</text><text transform="translate(88.25,390.30) rotate(90)" font-family="Liberation Serif" font-size="6.15" fill="#000" stroke="#000" stroke-width="0.22">Butyraldehyde</text><text transform="translate(95.68,390.30) rotate(90)" font-family="Liberation Serif" font-size="6.15" fill="#000" stroke="#000" stroke-width="0.22">acetone</text><text transform="translate(103.11,390.30) rotate(90)" font-family="Liberation Serif" font-size="6.15" fill="#000" stroke="#000" stroke-width="0.22">Ethyl Acetate</text><text transform="translate(110.54,390.30) rotate(90)" font-family="Liberation Serif" font-size="6.15" fill="#000" stroke="#000" stroke-width="0.22">1-Pentanol-M</text><text transform="translate(117.97,390.30) rotate(90)" font-family="Liberation Serif" font-size="6.15" fill="#000" stroke="#000" stroke-width="0.22">Pentan-2-one</text><text transform="translate(125.40,390.30) rotate(90)" font-family="Liberation Serif" font-size="6.15" fill="#000" stroke="#000" stroke-width="0.22">6</text><text transform="translate(132.83,390.30) rotate(90)" font-family="Liberation Serif" font-size="6.15" fill="#000" stroke="#000" stroke-width="0.22">2-Hexenal-M</text><text transform="translate(140.26,390.30) rotate(90)" font-family="Liberation Serif" font-size="6.15" fill="#000" stroke="#000" stroke-width="0.22">α-Phellandrene</text><text transform="translate(147.69,390.30) rotate(90)" font-family="Liberation Serif" font-size="6.15" fill="#000" stroke="#000" stroke-width="0.22">15</text><text transform="translate(155.12,390.30) rotate(90)" font-family="Liberation Serif" font-size="6.15" fill="#000" stroke="#000" stroke-width="0.22">(E)-2-pentenal-M</text><text transform="translate(162.55,390.30) rotate(90)" font-family="Liberation Serif" font-size="6.15" fill="#000" stroke="#000" stroke-width="0.22">heptanal-M</text><text transform="translate(169.98,390.30) rotate(90)" font-family="Liberation Serif" font-size="6.15" fill="#000" stroke="#000" stroke-width="0.22">1,4-cineole</text><text transform="translate(177.42,390.30) rotate(90)" font-family="Liberation Serif" font-size="6.15" fill="#000" stroke="#000" stroke-width="0.22">propanal-D</text><text transform="translate(184.85,390.30) rotate(90)" font-family="Liberation Serif" font-size="6.15" fill="#000" stroke="#000" stroke-width="0.22">diethyl succinate</text><text transform="translate(192.28,390.30) rotate(90)" font-family="Liberation Serif" font-size="6.15" fill="#000" stroke="#000" stroke-width="0.22">1</text><text transform="translate(199.71,390.30) rotate(90)" font-family="Liberation Serif" font-size="6.15" fill="#000" stroke="#000" stroke-width="0.22">(E,Z)-2,6-nonadienal</text><text transform="translate(207.14,390.30) rotate(90)" font-family="Liberation Serif" font-size="6.15" fill="#000" stroke="#000" stroke-width="0.22">2-acetylfuran</text><text transform="translate(214.57,390.30) rotate(90)" font-family="Liberation Serif" font-size="6.15" fill="#000" stroke="#000" stroke-width="0.22">2-Undecanone</text><text transform="translate(222.00,390.30) rotate(90)" font-family="Liberation Serif" font-size="6.15" fill="#000" stroke="#000" stroke-width="0.22">(E,E)-2,4-heptadienal-M</text><text transform="translate(229.43,390.30) rotate(90)" font-family="Liberation Serif" font-size="6.15" fill="#000" stroke="#000" stroke-width="0.22">(E,E)-2,4-heptadienal-D</text><text transform="translate(236.86,390.30) rotate(90)" font-family="Liberation Serif" font-size="6.15" fill="#000" stroke="#000" stroke-width="0.22">3</text><text transform="translate(244.29,390.30) rotate(90)" font-family="Liberation Serif" font-size="6.15" fill="#000" stroke="#000" stroke-width="0.22">(E)-2-octenal-M</text><text transform="translate(251.72,390.30) rotate(90)" font-family="Liberation Serif" font-size="6.15" fill="#000" stroke="#000" stroke-width="0.22">Dipropyl disulphide</text><text transform="translate(259.15,390.30) rotate(90)" font-family="Liberation Serif" font-size="6.15" fill="#000" stroke="#000" stroke-width="0.22">Nonanal-M</text><text transform="translate(266.58,390.30) rotate(90)" font-family="Liberation Serif" font-size="6.15" fill="#000" stroke="#000" stroke-width="0.22">(E)-2-octenal-D</text><text transform="translate(274.02,390.30) rotate(90)" font-family="Liberation Serif" font-size="6.15" fill="#000" stroke="#000" stroke-width="0.22">Nonanal-D</text><text transform="translate(281.45,390.30) rotate(90)" font-family="Liberation Serif" font-size="6.15" fill="#000" stroke="#000" stroke-width="0.22">nonan-2-one</text><text transform="translate(288.88,390.30) rotate(90)" font-family="Liberation Serif" font-size="6.15" fill="#000" stroke="#000" stroke-width="0.22">6-methylhept-5-en-2-one</text><text transform="translate(296.31,390.30) rotate(90)" font-family="Liberation Serif" font-size="6.15" fill="#000" stroke="#000" stroke-width="0.22">(E)-β-Damascenone</text><text transform="translate(303.74,390.30) rotate(90)" font-family="Liberation Serif" font-size="6.15" fill="#000" stroke="#000" stroke-width="0.22">4</text><text transform="translate(311.17,390.30) rotate(90)" font-family="Liberation Serif" font-size="6.15" fill="#000" stroke="#000" stroke-width="0.22">5</text><text transform="translate(318.60,390.30) rotate(90)" font-family="Liberation Serif" font-size="6.15" fill="#000" stroke="#000" stroke-width="0.22">(E)-2-heptenal-M</text><text transform="translate(326.03,390.30) rotate(90)" font-family="Liberation Serif" font-size="6.15" fill="#000" stroke="#000" stroke-width="0.22">1-hydroxypropan-2-one</text><text transform="translate(333.46,390.30) rotate(90)" font-family="Liberation Serif" font-size="6.15" fill="#000" stroke="#000" stroke-width="0.22">ethyl heptanoate</text><text transform="translate(340.89,390.30) rotate(90)" font-family="Liberation Serif" font-size="6.15" fill="#000" stroke="#000" stroke-width="0.22">(E)-2-heptenal-D</text><text transform="translate(348.32,390.30) rotate(90)" font-family="Liberation Serif" font-size="6.15" fill="#000" stroke="#000" stroke-width="0.22">octanal-M</text><text transform="translate(355.75,390.30) rotate(90)" font-family="Liberation Serif" font-size="6.15" fill="#000" stroke="#000" stroke-width="0.22">octan-2-one</text><text transform="translate(363.18,390.30) rotate(90)" font-family="Liberation Serif" font-size="6.15" fill="#000" stroke="#000" stroke-width="0.22">octanal-D</text><text transform="translate(370.62,390.30) rotate(90)" font-family="Liberation Serif" font-size="6.15" fill="#000" stroke="#000" stroke-width="0.22">rose oxide</text><text transform="translate(378.05,390.30) rotate(90)" font-family="Liberation Serif" font-size="6.15" fill="#000" stroke="#000" stroke-width="0.22">7</text><text transform="translate(385.48,390.30) rotate(90)" font-family="Liberation Serif" font-size="6.15" fill="#000" stroke="#000" stroke-width="0.22">8</text><text transform="translate(392.91,390.30) rotate(90)" font-family="Liberation Serif" font-size="6.15" fill="#000" stroke="#000" stroke-width="0.22">1-Octen-3-one</text><text transform="translate(400.34,390.30) rotate(90)" font-family="Liberation Serif" font-size="6.15" fill="#000" stroke="#000" stroke-width="0.22">9</text><text transform="translate(407.77,390.30) rotate(90)" font-family="Liberation Serif" font-size="6.15" fill="#000" stroke="#000" stroke-width="0.22">1-Pentanol-D</text><text transform="translate(415.20,390.30) rotate(90)" font-family="Liberation Serif" font-size="6.15" fill="#000" stroke="#000" stroke-width="0.22">(Z)-hept-4-enal</text><text transform="translate(422.63,390.30) rotate(90)" font-family="Liberation Serif" font-size="6.15" fill="#000" stroke="#000" stroke-width="0.22">2-pentylfuran</text><text transform="translate(430.06,390.30) rotate(90)" font-family="Liberation Serif" font-size="6.15" fill="#000" stroke="#000" stroke-width="0.22">12</text><text transform="translate(437.49,390.30) rotate(90)" font-family="Liberation Serif" font-size="6.15" fill="#000" stroke="#000" stroke-width="0.22">2-Hexenal-D</text><text transform="translate(444.92,390.30) rotate(90)" font-family="Liberation Serif" font-size="6.15" fill="#000" stroke="#000" stroke-width="0.22">Limonene</text><text transform="translate(452.35,390.30) rotate(90)" font-family="Liberation Serif" font-size="6.15" fill="#000" stroke="#000" stroke-width="0.22">heptanal-D</text><text transform="translate(459.78,390.30) rotate(90)" font-family="Liberation Serif" font-size="6.15" fill="#000" stroke="#000" stroke-width="0.22">13</text><text transform="translate(467.22,390.30) rotate(90)" font-family="Liberation Serif" font-size="6.15" fill="#000" stroke="#000" stroke-width="0.22">2-Methyl-2-pentenal</text><text transform="translate(474.65,390.30) rotate(90)" font-family="Liberation Serif" font-size="6.15" fill="#000" stroke="#000" stroke-width="0.22">(E)-2-pentenal-D</text><text transform="translate(482.08,390.30) rotate(90)" font-family="Liberation Serif" font-size="6.15" fill="#000" stroke="#000" stroke-width="0.22">Undecane-D</text><text transform="translate(489.51,390.30) rotate(90)" font-family="Liberation Serif" font-size="6.15" fill="#000" stroke="#000" stroke-width="0.22">Hexanal</text><text transform="translate(496.94,390.30) rotate(90)" font-family="Liberation Serif" font-size="6.15" fill="#000" stroke="#000" stroke-width="0.22">pentanal</text><text transform="translate(504.37,390.30) rotate(90)" font-family="Liberation Serif" font-size="6.15" fill="#000" stroke="#000" stroke-width="0.22">14</text><text transform="translate(511.80,390.30) rotate(90)" font-family="Liberation Serif" font-size="6.15" fill="#000" stroke="#000" stroke-width="0.22">3-carene</text><text transform="translate(519.23,390.30) rotate(90)" font-family="Liberation Serif" font-size="6.15" fill="#000" stroke="#000" stroke-width="0.22">ethanol</text><text transform="translate(526.66,390.30) rotate(90)" font-family="Liberation Serif" font-size="6.15" fill="#000" stroke="#000" stroke-width="0.22">20</text><text transform="translate(534.09,390.30) rotate(90)" font-family="Liberation Serif" font-size="6.15" fill="#000" stroke="#000" stroke-width="0.22">1-Penten-3-one</text><text transform="translate(541.52,390.30) rotate(90)" font-family="Liberation Serif" font-size="6.15" fill="#000" stroke="#000" stroke-width="0.22">21</text><text transform="translate(548.95,390.30) rotate(90)" font-family="Liberation Serif" font-size="6.15" fill="#000" stroke="#000" stroke-width="0.22">22</text><text transform="translate(556.38,390.30) rotate(90)" font-family="Liberation Serif" font-size="6.15" fill="#000" stroke="#000" stroke-width="0.22">acrolein</text><text x="562.80" y="328.50" font-family="Liberation Serif" font-size="6.4" font-weight="bold" text-anchor="start" fill="#000">Control-1</text><text x="562.80" y="334.90" font-family="Liberation Serif" font-size="6.4" font-weight="bold" text-anchor="start" fill="#000">Control-2</text><text x="562.80" y="341.20" font-family="Liberation Serif" font-size="6.4" font-weight="bold" text-anchor="start" fill="#000">Control-3</text><text x="562.80" y="349.70" font-family="Liberation Serif" font-size="6.4" font-weight="bold" text-anchor="start" fill="#000">FH-1</text><text x="562.80" y="356.40" font-family="Liberation Serif" font-size="6.4" font-weight="bold" text-anchor="start" fill="#000">FH-2</text><text x="562.80" y="362.70" font-family="Liberation Serif" font-size="6.4" font-weight="bold" text-anchor="start" fill="#000">FH-3</text><text x="562.80" y="369.20" font-family="Liberation Serif" font-size="6.4" font-weight="bold" text-anchor="start" fill="#000">FS-1</text><text x="562.80" y="375.60" font-family="Liberation Serif" font-size="6.4" font-weight="bold" text-anchor="start" fill="#000">FS-2</text><text x="562.80" y="382.20" font-family="Liberation Serif" font-size="6.4" font-weight="bold" text-anchor="start" fill="#000">FS-3</text><rect x="507.0" y="170.0" width="2.4" height="6.3" fill="#ff5010"/><rect x="506.4" y="170.0" width="0.7" height="6.3" fill="#ffe040"/><rect x="509.4" y="170.0" width="0.7" height="6.3" fill="#ffe040"/><rect x="178.4" y="324.3" width="2.2" height="19.5" fill="#f03010"/><rect x="178.6" y="343.8" width="1.8" height="19.5" fill="#f0e040" opacity="0.8"/><rect x="50.00" y="506.00" width="24.65" height="6.35" fill="#f33234"/><rect x="74.60" y="506.00" width="24.65" height="6.35" fill="#8c8cfa"/><rect x="99.20" y="506.00" width="24.65" height="6.35" fill="#9b9bfa"/><text transform="translate(48.30,510.63) scale(0.82,1)" font-family="Liberation Serif" font-size="4.5" text-anchor="end" fill="#1a1a1a" stroke="#111" stroke-width="0.14">Acrolein</text><rect x="50.00" y="512.30" width="24.65" height="6.35" fill="#f03e42"/><rect x="74.60" y="512.30" width="24.65" height="6.35" fill="#dcdcfa"/><rect x="99.20" y="512.30" width="24.65" height="6.35" fill="#5858fa"/><text transform="translate(48.30,516.93) scale(0.82,1)" font-family="Liberation Serif" font-size="4.5" text-anchor="end" fill="#1a1a1a" stroke="#111" stroke-width="0.14">Pentanal</text><rect x="50.00" y="518.60" width="24.65" height="6.35" fill="#f07074"/><rect x="74.60" y="518.60" width="24.65" height="6.35" fill="#f0a5a9"/><rect x="99.20" y="518.60" width="24.65" height="6.35" fill="#3a20fa"/><text transform="translate(48.30,523.24) scale(0.82,1)" font-family="Liberation Serif" font-size="4.5" text-anchor="end" fill="#1a1a1a" stroke="#111" stroke-width="0.14">Propanal-D</text><rect x="50.00" y="524.90" width="24.65" height="6.35" fill="#4b3efa"/><rect x="74.60" y="524.90" width="24.65" height="6.35" fill="#f5e2e4"/><rect x="99.20" y="524.90" width="24.65" height="6.35" fill="#f06266"/><text transform="translate(48.30,529.53) scale(0.82,1)" font-family="Liberation Serif" font-size="4.5" text-anchor="end" fill="#1a1a1a" stroke="#111" stroke-width="0.14">Propanal-M</text><rect x="50.00" y="531.20" width="24.65" height="6.35" fill="#3720fa"/><rect x="74.60" y="531.20" width="24.65" height="6.35" fill="#f06e72"/><rect x="99.20" y="531.20" width="24.65" height="6.35" fill="#f0b9bd"/><text transform="translate(48.30,535.84) scale(0.82,1)" font-family="Liberation Serif" font-size="4.5" text-anchor="end" fill="#1a1a1a" stroke="#111" stroke-width="0.14">Butyraldehyde</text><rect x="50.00" y="537.50" width="24.65" height="6.35" fill="#f33234"/><rect x="74.60" y="537.50" width="24.65" height="6.35" fill="#a5a5fa"/><rect x="99.20" y="537.50" width="24.65" height="6.35" fill="#7d7dfa"/><text transform="translate(48.30,542.13) scale(0.82,1)" font-family="Liberation Serif" font-size="4.5" text-anchor="end" fill="#1a1a1a" stroke="#111" stroke-width="0.14">Hexanal</text><rect x="50.00" y="543.80" width="24.65" height="6.35" fill="#f5e4e6"/><rect x="74.60" y="543.80" width="24.65" height="6.35" fill="#f04b4f"/><rect x="99.20" y="543.80" width="24.65" height="6.35" fill="#5246fa"/><text transform="translate(48.30,548.43) scale(0.82,1)" font-family="Liberation Serif" font-size="4.5" text-anchor="end" fill="#1a1a1a" stroke="#111" stroke-width="0.14">(E,E)-2,4-Octadienal</text><rect x="50.00" y="550.10" width="24.65" height="6.35" fill="#f33234"/><rect x="74.60" y="550.10" width="24.65" height="6.35" fill="#9191fa"/><rect x="99.20" y="550.10" width="24.65" height="6.35" fill="#9696fa"/><text transform="translate(48.30,554.74) scale(0.82,1)" font-family="Liberation Serif" font-size="4.5" text-anchor="end" fill="#1a1a1a" stroke="#111" stroke-width="0.14">(E)-2-Pentenal-D</text><rect x="50.00" y="556.40" width="24.65" height="6.35" fill="#f8f0f0"/><rect x="74.60" y="556.40" width="24.65" height="6.35" fill="#f05054"/><rect x="99.20" y="556.40" width="24.65" height="6.35" fill="#5246fa"/><text transform="translate(48.30,561.03) scale(0.82,1)" font-family="Liberation Serif" font-size="4.5" text-anchor="end" fill="#1a1a1a" stroke="#111" stroke-width="0.14">(E)-2-Pentenal-M</text><rect x="50.00" y="562.70" width="24.65" height="6.35" fill="#f33234"/><rect x="74.60" y="562.70" width="24.65" height="6.35" fill="#9696fa"/><rect x="99.20" y="562.70" width="24.65" height="6.35" fill="#8c8cfa"/><text transform="translate(48.30,567.34) scale(0.82,1)" font-family="Liberation Serif" font-size="4.5" text-anchor="end" fill="#1a1a1a" stroke="#111" stroke-width="0.14">2-Methyl-2-pentenal</text><rect x="50.00" y="569.00" width="24.65" height="6.35" fill="#f33234"/><rect x="74.60" y="569.00" width="24.65" height="6.35" fill="#bebefa"/><rect x="99.20" y="569.00" width="24.65" height="6.35" fill="#8282fa"/><text transform="translate(48.30,573.63) scale(0.82,1)" font-family="Liberation Serif" font-size="4.5" text-anchor="end" fill="#1a1a1a" stroke="#111" stroke-width="0.14">Heptanal-D</text><rect x="50.00" y="575.30" width="24.65" height="6.35" fill="#f08286"/><rect x="74.60" y="575.30" width="24.65" height="6.35" fill="#f0a5a9"/><rect x="99.20" y="575.30" width="24.65" height="6.35" fill="#3c20fa"/><text transform="translate(48.30,579.93) scale(0.82,1)" font-family="Liberation Serif" font-size="4.5" text-anchor="end" fill="#1a1a1a" stroke="#111" stroke-width="0.14">Heptanal-M</text><rect x="50.00" y="581.60" width="24.65" height="6.35" fill="#f33234"/><rect x="74.60" y="581.60" width="24.65" height="6.35" fill="#9696fa"/><rect x="99.20" y="581.60" width="24.65" height="6.35" fill="#9191fa"/><text transform="translate(48.30,586.24) scale(0.82,1)" font-family="Liberation Serif" font-size="4.5" text-anchor="end" fill="#1a1a1a" stroke="#111" stroke-width="0.14">2-Hexenal-D</text><rect x="50.00" y="587.90" width="24.65" height="6.35" fill="#f0696d"/><rect x="74.60" y="587.90" width="24.65" height="6.35" fill="#f0d2d6"/><rect x="99.20" y="587.90" width="24.65" height="6.35" fill="#4634fa"/><text transform="translate(48.30,592.53) scale(0.82,1)" font-family="Liberation Serif" font-size="4.5" text-anchor="end" fill="#1a1a1a" stroke="#111" stroke-width="0.14">2-Hexenal-M</text><rect x="50.00" y="594.20" width="24.65" height="6.35" fill="#f04246"/><rect x="74.60" y="594.20" width="24.65" height="6.35" fill="#e1e1fa"/><rect x="99.20" y="594.20" width="24.65" height="6.35" fill="#5a50fa"/><text transform="translate(48.30,598.84) scale(0.82,1)" font-family="Liberation Serif" font-size="4.5" text-anchor="end" fill="#1a1a1a" stroke="#111" stroke-width="0.14">(Z)-Hept-4-enal</text><rect x="50.00" y="600.50" width="24.65" height="6.35" fill="#f33234"/><rect x="74.60" y="600.50" width="24.65" height="6.35" fill="#9696fa"/><rect x="99.20" y="600.50" width="24.65" height="6.35" fill="#9191fa"/><text transform="translate(48.30,605.13) scale(0.82,1)" font-family="Liberation Serif" font-size="4.5" text-anchor="end" fill="#1a1a1a" stroke="#111" stroke-width="0.14">Octanal-D</text><rect x="50.00" y="606.80" width="24.65" height="6.35" fill="#f04246"/><rect x="74.60" y="606.80" width="24.65" height="6.35" fill="#f0f0fa"/><rect x="99.20" y="606.80" width="24.65" height="6.35" fill="#5248fa"/><text transform="translate(48.30,611.43) scale(0.82,1)" font-family="Liberation Serif" font-size="4.5" text-anchor="end" fill="#1a1a1a" stroke="#111" stroke-width="0.14">Octanal-M</text><rect x="50.00" y="613.10" width="24.65" height="6.35" fill="#f33234"/><rect x="74.60" y="613.10" width="24.65" height="6.35" fill="#a0a0fa"/><rect x="99.20" y="613.10" width="24.65" height="6.35" fill="#9b9bfa"/><text transform="translate(48.30,617.74) scale(0.82,1)" font-family="Liberation Serif" font-size="4.5" text-anchor="end" fill="#1a1a1a" stroke="#111" stroke-width="0.14">(E)-2-Heptenal-D</text><rect x="50.00" y="619.40" width="24.65" height="6.35" fill="#f33234"/><rect x="74.60" y="619.40" width="24.65" height="6.35" fill="#a5a5fa"/><rect x="99.20" y="619.40" width="24.65" height="6.35" fill="#8c8cfa"/><text transform="translate(48.30,624.03) scale(0.82,1)" font-family="Liberation Serif" font-size="4.5" text-anchor="end" fill="#1a1a1a" stroke="#111" stroke-width="0.14">(E)-2-Heptenal-M</text><rect x="50.00" y="625.70" width="24.65" height="6.35" fill="#f33234"/><rect x="74.60" y="625.70" width="24.65" height="6.35" fill="#9b9bfa"/><rect x="99.20" y="625.70" width="24.65" height="6.35" fill="#9696fa"/><text transform="translate(48.30,630.34) scale(0.82,1)" font-family="Liberation Serif" font-size="4.5" text-anchor="end" fill="#1a1a1a" stroke="#111" stroke-width="0.14">(E)-2-Octenal-D</text><rect x="50.00" y="632.00" width="24.65" height="6.35" fill="#f33234"/><rect x="74.60" y="632.00" width="24.65" height="6.35" fill="#a5a5fa"/><rect x="99.20" y="632.00" width="24.65" height="6.35" fill="#7373fa"/><text transform="translate(48.30,636.63) scale(0.82,1)" font-family="Liberation Serif" font-size="4.5" text-anchor="end" fill="#1a1a1a" stroke="#111" stroke-width="0.14">(E)-2-Octenal-M</text><rect x="50.00" y="638.30" width="24.65" height="6.35" fill="#f33234"/><rect x="74.60" y="638.30" width="24.65" height="6.35" fill="#9b9bfa"/><rect x="99.20" y="638.30" width="24.65" height="6.35" fill="#9696fa"/><text transform="translate(48.30,642.93) scale(0.82,1)" font-family="Liberation Serif" font-size="4.5" text-anchor="end" fill="#1a1a1a" stroke="#111" stroke-width="0.14">Nonanal-D</text><rect x="50.00" y="644.60" width="24.65" height="6.35" fill="#f33234"/><rect x="74.60" y="644.60" width="24.65" height="6.35" fill="#cdcdfa"/><rect x="99.20" y="644.60" width="24.65" height="6.35" fill="#6464fa"/><text transform="translate(48.30,649.24) scale(0.82,1)" font-family="Liberation Serif" font-size="4.5" text-anchor="end" fill="#1a1a1a" stroke="#111" stroke-width="0.14">Nonanal-M</text><rect x="50.00" y="650.90" width="24.65" height="6.35" fill="#7878fa"/><rect x="74.60" y="650.90" width="24.65" height="6.35" fill="#a5a5fa"/><rect x="99.20" y="650.90" width="24.65" height="6.35" fill="#f33234"/><text transform="translate(48.30,655.53) scale(0.82,1)" font-family="Liberation Serif" font-size="4.5" text-anchor="end" fill="#1a1a1a" stroke="#111" stroke-width="0.14">Methional</text><rect x="50.00" y="657.20" width="24.65" height="6.35" fill="#f33234"/><rect x="74.60" y="657.20" width="24.65" height="6.35" fill="#8c8cfa"/><rect x="99.20" y="657.20" width="24.65" height="6.35" fill="#9b9bfa"/><text transform="translate(48.30,661.84) scale(0.82,1)" font-family="Liberation Serif" font-size="4.5" text-anchor="end" fill="#1a1a1a" stroke="#111" stroke-width="0.14">(E,E)-2,4-Heptadienal-D</text><rect x="50.00" y="663.50" width="24.65" height="6.35" fill="#f33234"/><rect x="74.60" y="663.50" width="24.65" height="6.35" fill="#7373fa"/><rect x="99.20" y="663.50" width="24.65" height="6.35" fill="#aaaafa"/><text transform="translate(48.30,668.13) scale(0.82,1)" font-family="Liberation Serif" font-size="4.5" text-anchor="end" fill="#1a1a1a" stroke="#111" stroke-width="0.14">(E,E)-2,4-Heptadienal-M</text><rect x="50.00" y="669.80" width="24.65" height="6.35" fill="#6464fa"/><rect x="74.60" y="669.80" width="24.65" height="6.35" fill="#f33234"/><rect x="99.20" y="669.80" width="24.65" height="6.35" fill="#d2d2fa"/><text transform="translate(48.30,674.43) scale(0.82,1)" font-family="Liberation Serif" font-size="4.5" text-anchor="end" fill="#1a1a1a" stroke="#111" stroke-width="0.14">Benzaldehyde-D</text><rect x="50.00" y="676.10" width="24.65" height="6.35" fill="#9b9bfa"/><rect x="74.60" y="676.10" width="24.65" height="6.35" fill="#f33234"/><rect x="99.20" y="676.10" width="24.65" height="6.35" fill="#9696fa"/><text transform="translate(48.30,680.74) scale(0.82,1)" font-family="Liberation Serif" font-size="4.5" text-anchor="end" fill="#1a1a1a" stroke="#111" stroke-width="0.14">Benzaldehyde-M</text><rect x="50.00" y="682.40" width="24.65" height="6.35" fill="#f33234"/><rect x="74.60" y="682.40" width="24.65" height="6.35" fill="#9b9bfa"/><rect x="99.20" y="682.40" width="24.65" height="6.35" fill="#8787fa"/><text transform="translate(48.30,687.03) scale(0.82,1)" font-family="Liberation Serif" font-size="4.5" text-anchor="end" fill="#1a1a1a" stroke="#111" stroke-width="0.14">(E,Z)-2,6-Nonadienal</text><rect x="50.00" y="688.70" width="24.65" height="6.35" fill="#7878fa"/><rect x="74.60" y="688.70" width="24.65" height="6.35" fill="#c3c3fa"/><rect x="99.20" y="688.70" width="24.65" height="6.35" fill="#f33234"/><text transform="translate(48.30,693.34) scale(0.82,1)" font-family="Liberation Serif" font-size="4.5" text-anchor="end" fill="#1a1a1a" stroke="#111" stroke-width="0.14">Phenylacetaldehyde</text><line x1="50.00" y1="512.30" x2="123.80" y2="512.30" stroke="#ffffff" stroke-opacity="0.18" stroke-width="0.4"/><line x1="50.00" y1="518.60" x2="123.80" y2="518.60" stroke="#ffffff" stroke-opacity="0.18" stroke-width="0.4"/><line x1="50.00" y1="524.90" x2="123.80" y2="524.90" stroke="#ffffff" stroke-opacity="0.18" stroke-width="0.4"/><line x1="50.00" y1="531.20" x2="123.80" y2="531.20" stroke="#ffffff" stroke-opacity="0.18" stroke-width="0.4"/><line x1="50.00" y1="537.50" x2="123.80" y2="537.50" stroke="#ffffff" stroke-opacity="0.18" stroke-width="0.4"/><line x1="50.00" y1="543.80" x2="123.80" y2="543.80" stroke="#ffffff" stroke-opacity="0.18" stroke-width="0.4"/><line x1="50.00" y1="550.10" x2="123.80" y2="550.10" stroke="#ffffff" stroke-opacity="0.18" stroke-width="0.4"/><line x1="50.00" y1="556.40" x2="123.80" y2="556.40" stroke="#ffffff" stroke-opacity="0.18" stroke-width="0.4"/><line x1="50.00" y1="562.70" x2="123.80" y2="562.70" stroke="#ffffff" stroke-opacity="0.18" stroke-width="0.4"/><line x1="50.00" y1="569.00" x2="123.80" y2="569.00" stroke="#ffffff" stroke-opacity="0.18" stroke-width="0.4"/><line x1="50.00" y1="575.30" x2="123.80" y2="575.30" stroke="#ffffff" stroke-opacity="0.18" stroke-width="0.4"/><line x1="50.00" y1="581.60" x2="123.80" y2="581.60" stroke="#ffffff" stroke-opacity="0.18" stroke-width="0.4"/><line x1="50.00" y1="587.90" x2="123.80" y2="587.90" stroke="#ffffff" stroke-opacity="0.18" stroke-width="0.4"/><line x1="50.00" y1="594.20" x2="123.80" y2="594.20" stroke="#ffffff" stroke-opacity="0.18" stroke-width="0.4"/><line x1="50.00" y1="600.50" x2="123.80" y2="600.50" stroke="#ffffff" stroke-opacity="0.18" stroke-width="0.4"/><line x1="50.00" y1="606.80" x2="123.80" y2="606.80" stroke="#ffffff" stroke-opacity="0.18" stroke-width="0.4"/><line x1="50.00" y1="613.10" x2="123.80" y2="613.10" stroke="#ffffff" stroke-opacity="0.18" stroke-width="0.4"/><line x1="50.00" y1="619.40" x2="123.80" y2="619.40" stroke="#ffffff" stroke-opacity="0.18" stroke-width="0.4"/><line x1="50.00" y1="625.70" x2="123.80" y2="625.70" stroke="#ffffff" stroke-opacity="0.18" stroke-width="0.4"/><line x1="50.00" y1="632.00" x2="123.80" y2="632.00" stroke="#ffffff" stroke-opacity="0.18" stroke-width="0.4"/><line x1="50.00" y1="638.30" x2="123.80" y2="638.30" stroke="#ffffff" stroke-opacity="0.18" stroke-width="0.4"/><line x1="50.00" y1="644.60" x2="123.80" y2="644.60" stroke="#ffffff" stroke-opacity="0.18" stroke-width="0.4"/><line x1="50.00" y1="650.90" x2="123.80" y2="650.90" stroke="#ffffff" stroke-opacity="0.18" stroke-width="0.4"/><line x1="50.00" y1="657.20" x2="123.80" y2="657.20" stroke="#ffffff" stroke-opacity="0.18" stroke-width="0.4"/><line x1="50.00" y1="663.50" x2="123.80" y2="663.50" stroke="#ffffff" stroke-opacity="0.18" stroke-width="0.4"/><line x1="50.00" y1="669.80" x2="123.80" y2="669.80" stroke="#ffffff" stroke-opacity="0.18" stroke-width="0.4"/><line x1="50.00" y1="676.10" x2="123.80" y2="676.10" stroke="#ffffff" stroke-opacity="0.18" stroke-width="0.4"/><line x1="50.00" y1="682.40" x2="123.80" y2="682.40" stroke="#ffffff" stroke-opacity="0.18" stroke-width="0.4"/><line x1="50.00" y1="688.70" x2="123.80" y2="688.70" stroke="#ffffff" stroke-opacity="0.18" stroke-width="0.4"/><text x="87.90" y="501.80" font-family="Liberation Serif" font-size="5.75" font-weight="bold" text-anchor="middle" fill="#000">Aldehydes</text><text x="62.30" y="701.60" font-family="Liberation Serif" font-size="4.6" font-weight="bold" text-anchor="middle" fill="#000">Control</text><text x="86.90" y="701.60" font-family="Liberation Serif" font-size="4.6" font-weight="bold" text-anchor="middle" fill="#000">FH</text><text x="111.50" y="701.60" font-family="Liberation Serif" font-size="4.6" font-weight="bold" text-anchor="middle" fill="#000">FS</text><rect x="129.00" y="505.90" width="10.00" height="73.80" fill="url(#zbar)"/><text x="128.50" y="503.90" font-family="Liberation Serif" font-size="3.4" text-anchor="start" fill="#222" font-style="italic">Z-score</text><line x1="139.00" y1="505.90" x2="140.20" y2="505.90" stroke="#555" stroke-width="0.3"/><text x="140.60" y="507.10" font-family="Liberation Serif" font-size="3.5" text-anchor="start" fill="#222">1.5</text><line x1="139.00" y1="520.66" x2="140.20" y2="520.66" stroke="#555" stroke-width="0.3"/><text x="140.60" y="521.86" font-family="Liberation Serif" font-size="3.5" text-anchor="start" fill="#222">0.9</text><line x1="139.00" y1="535.42" x2="140.20" y2="535.42" stroke="#555" stroke-width="0.3"/><text x="140.60" y="536.62" font-family="Liberation Serif" font-size="3.5" text-anchor="start" fill="#222">0.3</text><line x1="139.00" y1="550.18" x2="140.20" y2="550.18" stroke="#555" stroke-width="0.3"/><text x="140.60" y="551.38" font-family="Liberation Serif" font-size="3.5" text-anchor="start" fill="#222">-0.3</text><line x1="139.00" y1="564.94" x2="140.20" y2="564.94" stroke="#555" stroke-width="0.3"/><text x="140.60" y="566.14" font-family="Liberation Serif" font-size="3.5" text-anchor="start" fill="#222">-0.9</text><line x1="139.00" y1="579.70" x2="140.20" y2="579.70" stroke="#555" stroke-width="0.3"/><text x="140.60" y="580.90" font-family="Liberation Serif" font-size="3.5" text-anchor="start" fill="#222">-1.5</text><rect x="227.10" y="504.60" width="24.85" height="5.86" fill="#bebefa"/><rect x="251.90" y="504.60" width="24.75" height="5.86" fill="#6e6efa"/><rect x="276.60" y="504.60" width="24.45" height="5.86" fill="#f33234"/><text x="225.60" y="508.98" font-family="Liberation Serif" font-size="4.45" text-anchor="end" fill="#1a1a1a">Isoamyl acetate</text><rect x="227.10" y="510.41" width="24.85" height="5.86" fill="#6e6efa"/><rect x="251.90" y="510.41" width="24.75" height="5.86" fill="#f33234"/><rect x="276.60" y="510.41" width="24.45" height="5.86" fill="#bebefa"/><text x="225.60" y="514.79" font-family="Liberation Serif" font-size="4.45" text-anchor="end" fill="#1a1a1a">1-Methylethyl acetate</text><rect x="227.10" y="516.23" width="24.85" height="5.86" fill="#a0a0fa"/><rect x="251.90" y="516.23" width="24.75" height="5.86" fill="#8787fa"/><rect x="276.60" y="516.23" width="24.45" height="5.86" fill="#f33234"/><text x="225.60" y="520.60" font-family="Liberation Serif" font-size="4.45" text-anchor="end" fill="#1a1a1a">Ethyl acetate</text><rect x="227.10" y="522.04" width="24.85" height="5.86" fill="#8c8cfa"/><rect x="251.90" y="522.04" width="24.75" height="5.86" fill="#9b9bfa"/><rect x="276.60" y="522.04" width="24.45" height="5.86" fill="#f33234"/><text x="225.60" y="526.42" font-family="Liberation Serif" font-size="4.45" text-anchor="end" fill="#1a1a1a">Isobutyl acetate</text><rect x="227.10" y="527.85" width="24.85" height="5.86" fill="#a0a0fa"/><rect x="251.90" y="527.85" width="24.75" height="5.86" fill="#8c8cfa"/><rect x="276.60" y="527.85" width="24.45" height="5.86" fill="#f33234"/><text x="225.60" y="532.23" font-family="Liberation Serif" font-size="4.45" text-anchor="end" fill="#1a1a1a">Propyl acetate</text><rect x="227.10" y="533.67" width="24.85" height="5.86" fill="#5046fa"/><rect x="251.90" y="533.67" width="24.75" height="5.86" fill="#f0f0fa"/><rect x="276.60" y="533.67" width="24.45" height="5.86" fill="#f03e42"/><text x="225.60" y="538.04" font-family="Liberation Serif" font-size="4.45" text-anchor="end" fill="#1a1a1a">Ethyl propanoate</text><rect x="227.10" y="539.48" width="24.85" height="5.86" fill="#8282fa"/><rect x="251.90" y="539.48" width="24.75" height="5.86" fill="#afaffa"/><rect x="276.60" y="539.48" width="24.45" height="5.86" fill="#f33234"/><text x="225.60" y="543.86" font-family="Liberation Serif" font-size="4.45" text-anchor="end" fill="#1a1a1a">Methyl butanoate</text><rect x="227.10" y="545.29" width="24.85" height="5.86" fill="#9696fa"/><rect x="251.90" y="545.29" width="24.75" height="5.86" fill="#a0a0fa"/><rect x="276.60" y="545.29" width="24.45" height="5.86" fill="#f33234"/><text x="225.60" y="549.67" font-family="Liberation Serif" font-size="4.45" text-anchor="end" fill="#1a1a1a">Ethyl butanoate</text><rect x="227.10" y="551.11" width="24.85" height="5.86" fill="#afaffa"/><rect x="251.90" y="551.11" width="24.75" height="5.86" fill="#7878fa"/><rect x="276.60" y="551.11" width="24.45" height="5.86" fill="#f33234"/><text x="225.60" y="555.48" font-family="Liberation Serif" font-size="4.45" text-anchor="end" fill="#1a1a1a">Ethyl pentanoate</text><rect x="227.10" y="556.92" width="24.85" height="5.86" fill="#7878fa"/><rect x="251.90" y="556.92" width="24.75" height="5.86" fill="#aaaafa"/><rect x="276.60" y="556.92" width="24.45" height="5.86" fill="#f33234"/><text x="225.60" y="561.30" font-family="Liberation Serif" font-size="4.45" text-anchor="end" fill="#1a1a1a">2-Octynoic acid, methyl ester</text><rect x="227.10" y="562.73" width="24.85" height="5.86" fill="#cdcdfa"/><rect x="251.90" y="562.73" width="24.75" height="5.86" fill="#6464fa"/><rect x="276.60" y="562.73" width="24.45" height="5.86" fill="#f03c40"/><text x="225.60" y="567.11" font-family="Liberation Serif" font-size="4.45" text-anchor="end" fill="#1a1a1a">Ethyl hexanoate</text><rect x="227.10" y="568.55" width="24.85" height="5.86" fill="#9696fa"/><rect x="251.90" y="568.55" width="24.75" height="5.86" fill="#8282fa"/><rect x="276.60" y="568.55" width="24.45" height="5.86" fill="#f33234"/><text x="225.60" y="572.92" font-family="Liberation Serif" font-size="4.45" text-anchor="end" fill="#1a1a1a">2-Phenylethyl acetate</text><rect x="227.10" y="574.36" width="24.85" height="5.86" fill="#f33234"/><rect x="251.90" y="574.36" width="24.75" height="5.86" fill="#b4b4fa"/><rect x="276.60" y="574.36" width="24.45" height="5.86" fill="#7373fa"/><text x="225.60" y="578.74" font-family="Liberation Serif" font-size="4.45" text-anchor="end" fill="#1a1a1a">Ethyl heptanoate</text><rect x="227.10" y="580.17" width="24.85" height="5.86" fill="#b4b4fa"/><rect x="251.90" y="580.17" width="24.75" height="5.86" fill="#f33234"/><rect x="276.60" y="580.17" width="24.45" height="5.86" fill="#7878fa"/><text x="225.60" y="584.55" font-family="Liberation Serif" font-size="4.45" text-anchor="end" fill="#1a1a1a">Linalyl acetate</text><rect x="227.10" y="585.99" width="24.85" height="5.86" fill="#f33234"/><rect x="251.90" y="585.99" width="24.75" height="5.86" fill="#7878fa"/><rect x="276.60" y="585.99" width="24.45" height="5.86" fill="#b9b9fa"/><text x="225.60" y="590.36" font-family="Liberation Serif" font-size="4.45" text-anchor="end" fill="#1a1a1a">Diethyl succinate</text><line x1="227.10" y1="510.41" x2="301.00" y2="510.41" stroke="#ffffff" stroke-opacity="0.18" stroke-width="0.4"/><line x1="227.10" y1="516.23" x2="301.00" y2="516.23" stroke="#ffffff" stroke-opacity="0.18" stroke-width="0.4"/><line x1="227.10" y1="522.04" x2="301.00" y2="522.04" stroke="#ffffff" stroke-opacity="0.18" stroke-width="0.4"/><line x1="227.10" y1="527.85" x2="301.00" y2="527.85" stroke="#ffffff" stroke-opacity="0.18" stroke-width="0.4"/><line x1="227.10" y1="533.67" x2="301.00" y2="533.67" stroke="#ffffff" stroke-opacity="0.18" stroke-width="0.4"/><line x1="227.10" y1="539.48" x2="301.00" y2="539.48" stroke="#ffffff" stroke-opacity="0.18" stroke-width="0.4"/><line x1="227.10" y1="545.29" x2="301.00" y2="545.29" stroke="#ffffff" stroke-opacity="0.18" stroke-width="0.4"/><line x1="227.10" y1="551.11" x2="301.00" y2="551.11" stroke="#ffffff" stroke-opacity="0.18" stroke-width="0.4"/><line x1="227.10" y1="556.92" x2="301.00" y2="556.92" stroke="#ffffff" stroke-opacity="0.18" stroke-width="0.4"/><line x1="227.10" y1="562.73" x2="301.00" y2="562.73" stroke="#ffffff" stroke-opacity="0.18" stroke-width="0.4"/><line x1="227.10" y1="568.55" x2="301.00" y2="568.55" stroke="#ffffff" stroke-opacity="0.18" stroke-width="0.4"/><line x1="227.10" y1="574.36" x2="301.00" y2="574.36" stroke="#ffffff" stroke-opacity="0.18" stroke-width="0.4"/><line x1="227.10" y1="580.17" x2="301.00" y2="580.17" stroke="#ffffff" stroke-opacity="0.18" stroke-width="0.4"/><line x1="227.10" y1="585.99" x2="301.00" y2="585.99" stroke="#ffffff" stroke-opacity="0.18" stroke-width="0.4"/><text x="263.40" y="500.20" font-family="Liberation Serif" font-size="5.75" font-weight="bold" text-anchor="middle" fill="#000">Esters</text><text x="239.50" y="597.30" font-family="Liberation Serif" font-size="4.6" font-weight="bold" text-anchor="middle" fill="#000">Control</text><text x="264.25" y="597.30" font-family="Liberation Serif" font-size="4.6" font-weight="bold" text-anchor="middle" fill="#000">FH</text><text x="288.80" y="597.30" font-family="Liberation Serif" font-size="4.6" font-weight="bold" text-anchor="middle" fill="#000">FS</text><rect x="306.10" y="504.50" width="9.80" height="34.00" fill="url(#zbar)"/><text x="305.60" y="502.50" font-family="Liberation Serif" font-size="3.4" text-anchor="start" fill="#222" font-style="italic">Z-score</text><line x1="315.90" y1="504.50" x2="317.10" y2="504.50" stroke="#555" stroke-width="0.3"/><text x="317.50" y="505.70" font-family="Liberation Serif" font-size="3.5" text-anchor="start" fill="#222">1.5</text><line x1="315.90" y1="511.30" x2="317.10" y2="511.30" stroke="#555" stroke-width="0.3"/><text x="317.50" y="512.50" font-family="Liberation Serif" font-size="3.5" text-anchor="start" fill="#222">0.9</text><line x1="315.90" y1="518.10" x2="317.10" y2="518.10" stroke="#555" stroke-width="0.3"/><text x="317.50" y="519.30" font-family="Liberation Serif" font-size="3.5" text-anchor="start" fill="#222">0.3</text><line x1="315.90" y1="524.90" x2="317.10" y2="524.90" stroke="#555" stroke-width="0.3"/><text x="317.50" y="526.10" font-family="Liberation Serif" font-size="3.5" text-anchor="start" fill="#222">-0.3</text><line x1="315.90" y1="531.70" x2="317.10" y2="531.70" stroke="#555" stroke-width="0.3"/><text x="317.50" y="532.90" font-family="Liberation Serif" font-size="3.5" text-anchor="start" fill="#222">-0.9</text><line x1="315.90" y1="538.50" x2="317.10" y2="538.50" stroke="#555" stroke-width="0.3"/><text x="317.50" y="539.70" font-family="Liberation Serif" font-size="3.5" text-anchor="start" fill="#222">-1.5</text><rect x="390.50" y="503.60" width="24.25" height="5.49" fill="#f03c40"/><rect x="414.70" y="503.60" width="24.15" height="5.49" fill="#f0f0fa"/><rect x="438.80" y="503.60" width="24.15" height="5.49" fill="#5a5afa"/><text x="388.80" y="507.59" font-family="Liberation Serif" font-size="3.85" text-anchor="end" fill="#1a1a1a">Ethanol</text><rect x="390.50" y="509.04" width="24.25" height="5.49" fill="#f06e72"/><rect x="414.70" y="509.04" width="24.15" height="5.49" fill="#321efa"/><rect x="438.80" y="509.04" width="24.15" height="5.49" fill="#f0bec2"/><text x="388.80" y="513.04" font-family="Liberation Serif" font-size="3.85" text-anchor="end" fill="#1a1a1a">Butan-1-ol-D</text><rect x="390.50" y="514.49" width="24.25" height="5.49" fill="#5550fa"/><rect x="414.70" y="514.49" width="24.15" height="5.49" fill="#f0f0fa"/><rect x="438.80" y="514.49" width="24.15" height="5.49" fill="#f04246"/><text x="388.80" y="518.48" font-family="Liberation Serif" font-size="3.85" text-anchor="end" fill="#1a1a1a">2-Methyl-1-propanol</text><rect x="390.50" y="519.93" width="24.25" height="5.49" fill="#5550fa"/><rect x="414.70" y="519.93" width="24.15" height="5.49" fill="#f0464a"/><rect x="438.80" y="519.93" width="24.15" height="5.49" fill="#f0f0fa"/><text x="388.80" y="523.92" font-family="Liberation Serif" font-size="3.85" text-anchor="end" fill="#1a1a1a">Butanol-M</text><rect x="390.50" y="525.38" width="24.25" height="5.49" fill="#5a55fa"/><rect x="414.70" y="525.38" width="24.15" height="5.49" fill="#f0464a"/><rect x="438.80" y="525.38" width="24.15" height="5.49" fill="#dcdcfa"/><text x="388.80" y="529.37" font-family="Liberation Serif" font-size="3.85" text-anchor="end" fill="#1a1a1a">4-Methyl-2-pentanol</text><rect x="390.50" y="530.82" width="24.25" height="5.49" fill="#f0f0fa"/><rect x="414.70" y="530.82" width="24.15" height="5.49" fill="#5f5afa"/><rect x="438.80" y="530.82" width="24.15" height="5.49" fill="#f04246"/><text x="388.80" y="534.81" font-family="Liberation Serif" font-size="3.85" text-anchor="end" fill="#1a1a1a">1,8-Cineole</text><rect x="390.50" y="536.26" width="24.25" height="5.49" fill="#a0a0fa"/><rect x="414.70" y="536.26" width="24.15" height="5.49" fill="#8282fa"/><rect x="438.80" y="536.26" width="24.15" height="5.49" fill="#f33234"/><text x="388.80" y="540.25" font-family="Liberation Serif" font-size="3.85" text-anchor="end" fill="#1a1a1a">3-Methyl-1-butanol-D</text><rect x="390.50" y="541.71" width="24.25" height="5.49" fill="#463cfa"/><rect x="414.70" y="541.71" width="24.15" height="5.49" fill="#f05256"/><rect x="438.80" y="541.71" width="24.15" height="5.49" fill="#f8f0f0"/><text x="388.80" y="545.70" font-family="Liberation Serif" font-size="3.85" text-anchor="end" fill="#1a1a1a">3-Methyl-1-butanol-M</text><rect x="390.50" y="547.15" width="24.25" height="5.49" fill="#f04044"/><rect x="414.70" y="547.15" width="24.15" height="5.49" fill="#f0f0fa"/><rect x="438.80" y="547.15" width="24.15" height="5.49" fill="#5a50fa"/><text x="388.80" y="551.14" font-family="Liberation Serif" font-size="3.85" text-anchor="end" fill="#1a1a1a">1-Pentanol-D</text><rect x="390.50" y="552.59" width="24.25" height="5.49" fill="#f08c90"/><rect x="414.70" y="552.59" width="24.15" height="5.49" fill="#f0969a"/><rect x="438.80" y="552.59" width="24.15" height="5.49" fill="#321efa"/><text x="388.80" y="556.59" font-family="Liberation Serif" font-size="3.85" text-anchor="end" fill="#1a1a1a">1-Pentanol-M</text><rect x="390.50" y="558.04" width="24.25" height="5.49" fill="#463cfa"/><rect x="414.70" y="558.04" width="24.15" height="5.49" fill="#f8f0f0"/><rect x="438.80" y="558.04" width="24.15" height="5.49" fill="#f0565a"/><text x="388.80" y="562.03" font-family="Liberation Serif" font-size="3.85" text-anchor="end" fill="#1a1a1a">4-Hydroxy-4-methyl-2-pentanone</text><rect x="390.50" y="563.48" width="24.25" height="5.49" fill="#afaffa"/><rect x="414.70" y="563.48" width="24.15" height="5.49" fill="#8787fa"/><rect x="438.80" y="563.48" width="24.15" height="5.49" fill="#f33234"/><text x="388.80" y="567.47" font-family="Liberation Serif" font-size="3.85" text-anchor="end" fill="#1a1a1a">1-Hexanol-D</text><rect x="390.50" y="568.92" width="24.25" height="5.49" fill="#7373fa"/><rect x="414.70" y="568.92" width="24.15" height="5.49" fill="#dcdcfa"/><rect x="438.80" y="568.92" width="24.15" height="5.49" fill="#f03c40"/><text x="388.80" y="572.92" font-family="Liberation Serif" font-size="3.85" text-anchor="end" fill="#1a1a1a">1-Hexanol-M</text><rect x="390.50" y="574.37" width="24.25" height="5.49" fill="#9b9bfa"/><rect x="414.70" y="574.37" width="24.15" height="5.49" fill="#a0a0fa"/><rect x="438.80" y="574.37" width="24.15" height="5.49" fill="#f33234"/><text x="388.80" y="578.36" font-family="Liberation Serif" font-size="3.85" text-anchor="end" fill="#1a1a1a">2-Ethyl-1-hexanol-D</text><rect x="390.50" y="579.81" width="24.25" height="5.49" fill="#9b9bfa"/><rect x="414.70" y="579.81" width="24.15" height="5.49" fill="#a0a0fa"/><rect x="438.80" y="579.81" width="24.15" height="5.49" fill="#f33234"/><text x="388.80" y="583.80" font-family="Liberation Serif" font-size="3.85" text-anchor="end" fill="#1a1a1a">2-Ethyl-1-hexanol-M</text><rect x="390.50" y="585.26" width="24.25" height="5.49" fill="#8c8cfa"/><rect x="414.70" y="585.26" width="24.15" height="5.49" fill="#a0a0fa"/><rect x="438.80" y="585.26" width="24.15" height="5.49" fill="#f33234"/><text x="388.80" y="589.25" font-family="Liberation Serif" font-size="3.85" text-anchor="end" fill="#1a1a1a">Ethyleneglycol</text><line x1="390.50" y1="509.04" x2="462.90" y2="509.04" stroke="#ffffff" stroke-opacity="0.18" stroke-width="0.4"/><line x1="390.50" y1="514.49" x2="462.90" y2="514.49" stroke="#ffffff" stroke-opacity="0.18" stroke-width="0.4"/><line x1="390.50" y1="519.93" x2="462.90" y2="519.93" stroke="#ffffff" stroke-opacity="0.18" stroke-width="0.4"/><line x1="390.50" y1="525.38" x2="462.90" y2="525.38" stroke="#ffffff" stroke-opacity="0.18" stroke-width="0.4"/><line x1="390.50" y1="530.82" x2="462.90" y2="530.82" stroke="#ffffff" stroke-opacity="0.18" stroke-width="0.4"/><line x1="390.50" y1="536.26" x2="462.90" y2="536.26" stroke="#ffffff" stroke-opacity="0.18" stroke-width="0.4"/><line x1="390.50" y1="541.71" x2="462.90" y2="541.71" stroke="#ffffff" stroke-opacity="0.18" stroke-width="0.4"/><line x1="390.50" y1="547.15" x2="462.90" y2="547.15" stroke="#ffffff" stroke-opacity="0.18" stroke-width="0.4"/><line x1="390.50" y1="552.59" x2="462.90" y2="552.59" stroke="#ffffff" stroke-opacity="0.18" stroke-width="0.4"/><line x1="390.50" y1="558.04" x2="462.90" y2="558.04" stroke="#ffffff" stroke-opacity="0.18" stroke-width="0.4"/><line x1="390.50" y1="563.48" x2="462.90" y2="563.48" stroke="#ffffff" stroke-opacity="0.18" stroke-width="0.4"/><line x1="390.50" y1="568.92" x2="462.90" y2="568.92" stroke="#ffffff" stroke-opacity="0.18" stroke-width="0.4"/><line x1="390.50" y1="574.37" x2="462.90" y2="574.37" stroke="#ffffff" stroke-opacity="0.18" stroke-width="0.4"/><line x1="390.50" y1="579.81" x2="462.90" y2="579.81" stroke="#ffffff" stroke-opacity="0.18" stroke-width="0.4"/><line x1="390.50" y1="585.26" x2="462.90" y2="585.26" stroke="#ffffff" stroke-opacity="0.18" stroke-width="0.4"/><text x="426.80" y="500.30" font-family="Liberation Serif" font-size="5.75" font-weight="bold" text-anchor="middle" fill="#000">Alcohols</text><text x="402.60" y="596.60" font-family="Liberation Serif" font-size="4.6" font-weight="bold" text-anchor="middle" fill="#000">Control</text><text x="426.75" y="596.60" font-family="Liberation Serif" font-size="4.6" font-weight="bold" text-anchor="middle" fill="#000">FH</text><text x="450.85" y="596.60" font-family="Liberation Serif" font-size="4.6" font-weight="bold" text-anchor="middle" fill="#000">FS</text><rect x="467.90" y="503.60" width="9.10" height="33.80" fill="url(#zbar)"/><text x="467.40" y="501.60" font-family="Liberation Serif" font-size="3.4" text-anchor="start" fill="#222" font-style="italic">Z-score</text><line x1="477.00" y1="503.60" x2="478.20" y2="503.60" stroke="#555" stroke-width="0.3"/><text x="478.60" y="504.80" font-family="Liberation Serif" font-size="3.5" text-anchor="start" fill="#222">1.5</text><line x1="477.00" y1="510.36" x2="478.20" y2="510.36" stroke="#555" stroke-width="0.3"/><text x="478.60" y="511.56" font-family="Liberation Serif" font-size="3.5" text-anchor="start" fill="#222">0.9</text><line x1="477.00" y1="517.12" x2="478.20" y2="517.12" stroke="#555" stroke-width="0.3"/><text x="478.60" y="518.32" font-family="Liberation Serif" font-size="3.5" text-anchor="start" fill="#222">0.3</text><line x1="477.00" y1="523.88" x2="478.20" y2="523.88" stroke="#555" stroke-width="0.3"/><text x="478.60" y="525.08" font-family="Liberation Serif" font-size="3.5" text-anchor="start" fill="#222">-0.3</text><line x1="477.00" y1="530.64" x2="478.20" y2="530.64" stroke="#555" stroke-width="0.3"/><text x="478.60" y="531.84" font-family="Liberation Serif" font-size="3.5" text-anchor="start" fill="#222">-0.9</text><line x1="477.00" y1="537.40" x2="478.20" y2="537.40" stroke="#555" stroke-width="0.3"/><text x="478.60" y="538.60" font-family="Liberation Serif" font-size="3.5" text-anchor="start" fill="#222">-1.5</text><rect x="568.00" y="501.40" width="25.15" height="6.20" fill="#f33234"/><rect x="593.10" y="501.40" width="24.95" height="6.20" fill="#7878fa"/><rect x="618.00" y="501.40" width="24.95" height="6.20" fill="#afaffa"/><text x="566.60" y="505.97" font-family="Liberation Serif" font-size="4.54" text-anchor="end" fill="#1a1a1a">1-Penten-3-one</text><rect x="568.00" y="507.55" width="25.15" height="6.20" fill="#321efa"/><rect x="593.10" y="507.55" width="24.95" height="6.20" fill="#f08c90"/><rect x="618.00" y="507.55" width="24.95" height="6.20" fill="#f07d81"/><text x="566.60" y="512.12" font-family="Liberation Serif" font-size="4.54" text-anchor="end" fill="#1a1a1a">Butan-2-one</text><rect x="568.00" y="513.70" width="25.15" height="6.20" fill="#321efa"/><rect x="593.10" y="513.70" width="24.95" height="6.20" fill="#f0a5a9"/><rect x="618.00" y="513.70" width="24.95" height="6.20" fill="#f07377"/><text x="566.60" y="518.27" font-family="Liberation Serif" font-size="4.54" text-anchor="end" fill="#1a1a1a">Acetone</text><rect x="568.00" y="519.85" width="25.15" height="6.20" fill="#f05f63"/><rect x="593.10" y="519.85" width="24.95" height="6.20" fill="#f5dcde"/><rect x="618.00" y="519.85" width="24.95" height="6.20" fill="#321efa"/><text x="566.60" y="524.42" font-family="Liberation Serif" font-size="4.54" text-anchor="end" fill="#1a1a1a">Pentan-2-one</text><rect x="568.00" y="526.00" width="25.15" height="6.20" fill="#d2d2fa"/><rect x="593.10" y="526.00" width="24.95" height="6.20" fill="#6e6efa"/><rect x="618.00" y="526.00" width="24.95" height="6.20" fill="#f33234"/><text x="566.60" y="530.57" font-family="Liberation Serif" font-size="4.54" text-anchor="end" fill="#1a1a1a">4-Methyl-2-pentanone</text><rect x="568.00" y="532.15" width="25.15" height="6.20" fill="#321efa"/><rect x="593.10" y="532.15" width="24.95" height="6.20" fill="#f06e72"/><rect x="618.00" y="532.15" width="24.95" height="6.20" fill="#f0b4b8"/><text x="566.60" y="536.72" font-family="Liberation Serif" font-size="4.54" text-anchor="end" fill="#1a1a1a">3-Hydroxy-2-butanone</text><rect x="568.00" y="538.30" width="25.15" height="6.20" fill="#4637fa"/><rect x="593.10" y="538.30" width="24.95" height="6.20" fill="#f05f63"/><rect x="618.00" y="538.30" width="24.95" height="6.20" fill="#f5e6e8"/><text x="566.60" y="542.87" font-family="Liberation Serif" font-size="4.54" text-anchor="end" fill="#1a1a1a">Cyclohexanone</text><rect x="568.00" y="544.45" width="25.15" height="6.20" fill="#f33234"/><rect x="593.10" y="544.45" width="24.95" height="6.20" fill="#9b9bfa"/><rect x="618.00" y="544.45" width="24.95" height="6.20" fill="#8787fa"/><text x="566.60" y="549.02" font-family="Liberation Serif" font-size="4.54" text-anchor="end" fill="#1a1a1a">1-Octen-3-one</text><rect x="568.00" y="550.60" width="25.15" height="6.20" fill="#f33234"/><rect x="593.10" y="550.60" width="24.95" height="6.20" fill="#9b9bfa"/><rect x="618.00" y="550.60" width="24.95" height="6.20" fill="#8787fa"/><text x="566.60" y="555.17" font-family="Liberation Serif" font-size="4.54" text-anchor="end" fill="#1a1a1a">Octan-2-one</text><rect x="568.00" y="556.75" width="25.15" height="6.20" fill="#f33234"/><rect x="593.10" y="556.75" width="24.95" height="6.20" fill="#aaaafa"/><rect x="618.00" y="556.75" width="24.95" height="6.20" fill="#8c8cfa"/><text x="566.60" y="561.32" font-family="Liberation Serif" font-size="4.54" text-anchor="end" fill="#1a1a1a">1-Hydroxypropan-2-one</text><rect x="568.00" y="562.90" width="25.15" height="6.20" fill="#f33234"/><rect x="593.10" y="562.90" width="24.95" height="6.20" fill="#b9b9fa"/><rect x="618.00" y="562.90" width="24.95" height="6.20" fill="#7878fa"/><text x="566.60" y="567.47" font-family="Liberation Serif" font-size="4.54" text-anchor="end" fill="#1a1a1a">(E)-β-Damascenone</text><rect x="568.00" y="569.05" width="25.15" height="6.20" fill="#f33234"/><rect x="593.10" y="569.05" width="24.95" height="6.20" fill="#c8c8fa"/><rect x="618.00" y="569.05" width="24.95" height="6.20" fill="#6464fa"/><text x="566.60" y="573.62" font-family="Liberation Serif" font-size="4.54" text-anchor="end" fill="#1a1a1a">6-Methylhept-5-en-2-one</text><rect x="568.00" y="575.20" width="25.15" height="6.20" fill="#f33234"/><rect x="593.10" y="575.20" width="24.95" height="6.20" fill="#8282fa"/><rect x="618.00" y="575.20" width="24.95" height="6.20" fill="#aaaafa"/><text x="566.60" y="579.77" font-family="Liberation Serif" font-size="4.54" text-anchor="end" fill="#1a1a1a">Nonan-2-one</text><rect x="568.00" y="581.35" width="25.15" height="6.20" fill="#f33234"/><rect x="593.10" y="581.35" width="24.95" height="6.20" fill="#a5a5fa"/><rect x="618.00" y="581.35" width="24.95" height="6.20" fill="#8787fa"/><text x="566.60" y="585.92" font-family="Liberation Serif" font-size="4.54" text-anchor="end" fill="#1a1a1a">2-Undecanone</text><line x1="568.00" y1="507.55" x2="642.90" y2="507.55" stroke="#ffffff" stroke-opacity="0.18" stroke-width="0.4"/><line x1="568.00" y1="513.70" x2="642.90" y2="513.70" stroke="#ffffff" stroke-opacity="0.18" stroke-width="0.4"/><line x1="568.00" y1="519.85" x2="642.90" y2="519.85" stroke="#ffffff" stroke-opacity="0.18" stroke-width="0.4"/><line x1="568.00" y1="526.00" x2="642.90" y2="526.00" stroke="#ffffff" stroke-opacity="0.18" stroke-width="0.4"/><line x1="568.00" y1="532.15" x2="642.90" y2="532.15" stroke="#ffffff" stroke-opacity="0.18" stroke-width="0.4"/><line x1="568.00" y1="538.30" x2="642.90" y2="538.30" stroke="#ffffff" stroke-opacity="0.18" stroke-width="0.4"/><line x1="568.00" y1="544.45" x2="642.90" y2="544.45" stroke="#ffffff" stroke-opacity="0.18" stroke-width="0.4"/><line x1="568.00" y1="550.60" x2="642.90" y2="550.60" stroke="#ffffff" stroke-opacity="0.18" stroke-width="0.4"/><line x1="568.00" y1="556.75" x2="642.90" y2="556.75" stroke="#ffffff" stroke-opacity="0.18" stroke-width="0.4"/><line x1="568.00" y1="562.90" x2="642.90" y2="562.90" stroke="#ffffff" stroke-opacity="0.18" stroke-width="0.4"/><line x1="568.00" y1="569.05" x2="642.90" y2="569.05" stroke="#ffffff" stroke-opacity="0.18" stroke-width="0.4"/><line x1="568.00" y1="575.20" x2="642.90" y2="575.20" stroke="#ffffff" stroke-opacity="0.18" stroke-width="0.4"/><line x1="568.00" y1="581.35" x2="642.90" y2="581.35" stroke="#ffffff" stroke-opacity="0.18" stroke-width="0.4"/><text x="605.80" y="498.00" font-family="Liberation Serif" font-size="5.75" font-weight="bold" text-anchor="middle" fill="#000">Ketones</text><text x="580.55" y="593.70" font-family="Liberation Serif" font-size="4.6" font-weight="bold" text-anchor="middle" fill="#000">Control</text><text x="605.55" y="593.70" font-family="Liberation Serif" font-size="4.6" font-weight="bold" text-anchor="middle" fill="#000">FH</text><text x="630.45" y="593.70" font-family="Liberation Serif" font-size="4.6" font-weight="bold" text-anchor="middle" fill="#000">FS</text><rect x="647.60" y="501.40" width="9.40" height="33.10" fill="url(#zbar)"/><text x="647.10" y="499.40" font-family="Liberation Serif" font-size="3.4" text-anchor="start" fill="#222" font-style="italic">Z-score</text><line x1="657.00" y1="501.40" x2="658.20" y2="501.40" stroke="#555" stroke-width="0.3"/><text x="658.60" y="502.60" font-family="Liberation Serif" font-size="3.5" text-anchor="start" fill="#222">1.5</text><line x1="657.00" y1="508.02" x2="658.20" y2="508.02" stroke="#555" stroke-width="0.3"/><text x="658.60" y="509.22" font-family="Liberation Serif" font-size="3.5" text-anchor="start" fill="#222">0.9</text><line x1="657.00" y1="514.64" x2="658.20" y2="514.64" stroke="#555" stroke-width="0.3"/><text x="658.60" y="515.84" font-family="Liberation Serif" font-size="3.5" text-anchor="start" fill="#222">0.3</text><line x1="657.00" y1="521.26" x2="658.20" y2="521.26" stroke="#555" stroke-width="0.3"/><text x="658.60" y="522.46" font-family="Liberation Serif" font-size="3.5" text-anchor="start" fill="#222">-0.3</text><line x1="657.00" y1="527.88" x2="658.20" y2="527.88" stroke="#555" stroke-width="0.3"/><text x="658.60" y="529.08" font-family="Liberation Serif" font-size="3.5" text-anchor="start" fill="#222">-0.9</text><line x1="657.00" y1="534.50" x2="658.20" y2="534.50" stroke="#555" stroke-width="0.3"/><text x="658.60" y="535.70" font-family="Liberation Serif" font-size="3.5" text-anchor="start" fill="#222">-1.5</text><rect x="226.10" y="632.80" width="24.95" height="6.15" fill="#f05559"/><rect x="251.00" y="632.80" width="24.55" height="6.15" fill="#463cfa"/><rect x="275.50" y="632.80" width="24.55" height="6.15" fill="#f5e1e4"/><text x="224.90" y="637.35" font-family="Liberation Serif" font-size="4.55" text-anchor="end" fill="#1a1a1a">Undecane-D</text><rect x="226.10" y="638.90" width="24.95" height="6.15" fill="#f8f0f0"/><rect x="251.00" y="638.90" width="24.55" height="6.15" fill="#f05559"/><rect x="275.50" y="638.90" width="24.55" height="6.15" fill="#463cfa"/><text x="224.90" y="643.45" font-family="Liberation Serif" font-size="4.55" text-anchor="end" fill="#1a1a1a">Undecane-M</text><rect x="226.10" y="645.00" width="24.95" height="6.15" fill="#f33234"/><rect x="251.00" y="645.00" width="24.55" height="6.15" fill="#c3c3fa"/><rect x="275.50" y="645.00" width="24.55" height="6.15" fill="#8282fa"/><text x="224.90" y="649.55" font-family="Liberation Serif" font-size="4.55" text-anchor="end" fill="#1a1a1a">1,4-Cineole</text><rect x="226.10" y="651.10" width="24.95" height="6.15" fill="#8787fa"/><rect x="251.00" y="651.10" width="24.55" height="6.15" fill="#f33234"/><rect x="275.50" y="651.10" width="24.55" height="6.15" fill="#aaaafa"/><text x="224.90" y="655.65" font-family="Liberation Serif" font-size="4.55" text-anchor="end" fill="#1a1a1a">3-Carene</text><rect x="226.10" y="657.20" width="24.95" height="6.15" fill="#8787fa"/><rect x="251.00" y="657.20" width="24.55" height="6.15" fill="#9696fa"/><rect x="275.50" y="657.20" width="24.55" height="6.15" fill="#f33234"/><text x="224.90" y="661.75" font-family="Liberation Serif" font-size="4.55" text-anchor="end" fill="#1a1a1a">1-Dodecene</text><rect x="226.10" y="663.30" width="24.95" height="6.15" fill="#4637fa"/><rect x="251.00" y="663.30" width="24.55" height="6.15" fill="#f06468"/><rect x="275.50" y="663.30" width="24.55" height="6.15" fill="#f5e1e4"/><text x="224.90" y="667.85" font-family="Liberation Serif" font-size="4.55" text-anchor="end" fill="#1a1a1a">β-Myrcene</text><rect x="226.10" y="669.40" width="24.95" height="6.15" fill="#aaaafa"/><rect x="251.00" y="669.40" width="24.55" height="6.15" fill="#f33234"/><rect x="275.50" y="669.40" width="24.55" height="6.15" fill="#8282fa"/><text x="224.90" y="673.95" font-family="Liberation Serif" font-size="4.55" text-anchor="end" fill="#1a1a1a">α-Phellandrene</text><rect x="226.10" y="675.50" width="24.95" height="6.15" fill="#f33234"/><rect x="251.00" y="675.50" width="24.55" height="6.15" fill="#9696fa"/><rect x="275.50" y="675.50" width="24.55" height="6.15" fill="#9696fa"/><text x="224.90" y="680.05" font-family="Liberation Serif" font-size="4.55" text-anchor="end" fill="#1a1a1a">Limonene</text><rect x="226.10" y="681.60" width="24.95" height="6.15" fill="#9696fa"/><rect x="251.00" y="681.60" width="24.55" height="6.15" fill="#f33234"/><rect x="275.50" y="681.60" width="24.55" height="6.15" fill="#9696fa"/><text x="224.90" y="686.15" font-family="Liberation Serif" font-size="4.55" text-anchor="end" fill="#1a1a1a">Ethylbenzene</text><rect x="226.10" y="687.70" width="24.95" height="6.15" fill="#9191fa"/><rect x="251.00" y="687.70" width="24.55" height="6.15" fill="#9696fa"/><rect x="275.50" y="687.70" width="24.55" height="6.15" fill="#f33234"/><text x="224.90" y="692.25" font-family="Liberation Serif" font-size="4.55" text-anchor="end" fill="#1a1a1a">n-Butylbenzene</text><line x1="226.10" y1="638.90" x2="300.00" y2="638.90" stroke="#ffffff" stroke-opacity="0.18" stroke-width="0.4"/><line x1="226.10" y1="645.00" x2="300.00" y2="645.00" stroke="#ffffff" stroke-opacity="0.18" stroke-width="0.4"/><line x1="226.10" y1="651.10" x2="300.00" y2="651.10" stroke="#ffffff" stroke-opacity="0.18" stroke-width="0.4"/><line x1="226.10" y1="657.20" x2="300.00" y2="657.20" stroke="#ffffff" stroke-opacity="0.18" stroke-width="0.4"/><line x1="226.10" y1="663.30" x2="300.00" y2="663.30" stroke="#ffffff" stroke-opacity="0.18" stroke-width="0.4"/><line x1="226.10" y1="669.40" x2="300.00" y2="669.40" stroke="#ffffff" stroke-opacity="0.18" stroke-width="0.4"/><line x1="226.10" y1="675.50" x2="300.00" y2="675.50" stroke="#ffffff" stroke-opacity="0.18" stroke-width="0.4"/><line x1="226.10" y1="681.60" x2="300.00" y2="681.60" stroke="#ffffff" stroke-opacity="0.18" stroke-width="0.4"/><line x1="226.10" y1="687.70" x2="300.00" y2="687.70" stroke="#ffffff" stroke-opacity="0.18" stroke-width="0.4"/><text x="264.30" y="629.00" font-family="Liberation Serif" font-size="5.75" font-weight="bold" text-anchor="middle" fill="#000">Hydrocarbons</text><text x="238.55" y="699.30" font-family="Liberation Serif" font-size="4.6" font-weight="bold" text-anchor="middle" fill="#000">Control</text><text x="263.25" y="699.30" font-family="Liberation Serif" font-size="4.6" font-weight="bold" text-anchor="middle" fill="#000">FH</text><text x="287.75" y="699.30" font-family="Liberation Serif" font-size="4.6" font-weight="bold" text-anchor="middle" fill="#000">FS</text><rect x="305.40" y="632.80" width="9.50" height="23.80" fill="url(#zbar)"/><text x="304.90" y="630.80" font-family="Liberation Serif" font-size="3.4" text-anchor="start" fill="#222" font-style="italic">Z-score</text><line x1="314.90" y1="632.80" x2="316.10" y2="632.80" stroke="#555" stroke-width="0.3"/><text x="316.50" y="634.00" font-family="Liberation Serif" font-size="3.5" text-anchor="start" fill="#222">1.5</text><line x1="314.90" y1="637.56" x2="316.10" y2="637.56" stroke="#555" stroke-width="0.3"/><text x="316.50" y="638.76" font-family="Liberation Serif" font-size="3.5" text-anchor="start" fill="#222">0.9</text><line x1="314.90" y1="642.32" x2="316.10" y2="642.32" stroke="#555" stroke-width="0.3"/><text x="316.50" y="643.52" font-family="Liberation Serif" font-size="3.5" text-anchor="start" fill="#222">0.3</text><line x1="314.90" y1="647.08" x2="316.10" y2="647.08" stroke="#555" stroke-width="0.3"/><text x="316.50" y="648.28" font-family="Liberation Serif" font-size="3.5" text-anchor="start" fill="#222">-0.3</text><line x1="314.90" y1="651.84" x2="316.10" y2="651.84" stroke="#555" stroke-width="0.3"/><text x="316.50" y="653.04" font-family="Liberation Serif" font-size="3.5" text-anchor="start" fill="#222">-0.9</text><line x1="314.90" y1="656.60" x2="316.10" y2="656.60" stroke="#555" stroke-width="0.3"/><text x="316.50" y="657.80" font-family="Liberation Serif" font-size="3.5" text-anchor="start" fill="#222">-1.5</text><rect x="389.90" y="631.40" width="25.15" height="6.60" fill="#b4b4fa"/><rect x="415.00" y="631.40" width="25.15" height="6.60" fill="#8c8cfa"/><rect x="440.10" y="631.40" width="25.05" height="6.60" fill="#f33234"/><text x="388.60" y="636.18" font-family="Liberation Serif" font-size="4.57" text-anchor="end" fill="#1a1a1a">Aceticacid-D</text><rect x="389.90" y="637.95" width="25.15" height="6.60" fill="#8c8cfa"/><rect x="415.00" y="637.95" width="25.15" height="6.60" fill="#8c8cfa"/><rect x="440.10" y="637.95" width="25.05" height="6.60" fill="#f33234"/><text x="388.60" y="642.73" font-family="Liberation Serif" font-size="4.57" text-anchor="end" fill="#1a1a1a">Aceticacid-M</text><rect x="389.90" y="644.50" width="25.15" height="6.60" fill="#8c8cfa"/><rect x="415.00" y="644.50" width="25.15" height="6.60" fill="#8c8cfa"/><rect x="440.10" y="644.50" width="25.05" height="6.60" fill="#f33234"/><text x="388.60" y="649.28" font-family="Liberation Serif" font-size="4.57" text-anchor="end" fill="#1a1a1a">2-Methylpropanoicacid</text><rect x="389.90" y="651.05" width="25.15" height="6.60" fill="#b4b4fa"/><rect x="415.00" y="651.05" width="25.15" height="6.60" fill="#645ffa"/><rect x="440.10" y="651.05" width="25.05" height="6.60" fill="#f33234"/><text x="388.60" y="655.83" font-family="Liberation Serif" font-size="4.57" text-anchor="end" fill="#1a1a1a">Propionicacid</text><rect x="389.90" y="657.60" width="25.15" height="6.60" fill="#8c8cfa"/><rect x="415.00" y="657.60" width="25.15" height="6.60" fill="#9191fa"/><rect x="440.10" y="657.60" width="25.05" height="6.60" fill="#f33234"/><text x="388.60" y="662.38" font-family="Liberation Serif" font-size="4.57" text-anchor="end" fill="#1a1a1a">Pentanoicacid-D</text><rect x="389.90" y="664.15" width="25.15" height="6.60" fill="#8c8cfa"/><rect x="415.00" y="664.15" width="25.15" height="6.60" fill="#9191fa"/><rect x="440.10" y="664.15" width="25.05" height="6.60" fill="#f33234"/><text x="388.60" y="668.93" font-family="Liberation Serif" font-size="4.57" text-anchor="end" fill="#1a1a1a">Pentanoicacid-M</text><line x1="389.90" y1="637.95" x2="465.10" y2="637.95" stroke="#ffffff" stroke-opacity="0.18" stroke-width="0.4"/><line x1="389.90" y1="644.50" x2="465.10" y2="644.50" stroke="#ffffff" stroke-opacity="0.18" stroke-width="0.4"/><line x1="389.90" y1="651.05" x2="465.10" y2="651.05" stroke="#ffffff" stroke-opacity="0.18" stroke-width="0.4"/><line x1="389.90" y1="657.60" x2="465.10" y2="657.60" stroke="#ffffff" stroke-opacity="0.18" stroke-width="0.4"/><line x1="389.90" y1="664.15" x2="465.10" y2="664.15" stroke="#ffffff" stroke-opacity="0.18" stroke-width="0.4"/><text x="427.40" y="628.00" font-family="Liberation Serif" font-size="5.75" font-weight="bold" text-anchor="middle" fill="#000">Acids</text><text x="402.45" y="676.50" font-family="Liberation Serif" font-size="4.6" font-weight="bold" text-anchor="middle" fill="#000">Control</text><text x="427.55" y="676.50" font-family="Liberation Serif" font-size="4.6" font-weight="bold" text-anchor="middle" fill="#000">FH</text><text x="452.60" y="676.50" font-family="Liberation Serif" font-size="4.6" font-weight="bold" text-anchor="middle" fill="#000">FS</text><rect x="470.00" y="631.40" width="10.00" height="15.20" fill="url(#zbar)"/><text x="469.50" y="629.40" font-family="Liberation Serif" font-size="3.4" text-anchor="start" fill="#222" font-style="italic">Z-score</text><line x1="480.00" y1="631.40" x2="481.20" y2="631.40" stroke="#555" stroke-width="0.3"/><text x="481.60" y="632.60" font-family="Liberation Serif" font-size="3.5" text-anchor="start" fill="#222">1.1</text><line x1="480.00" y1="639.00" x2="481.20" y2="639.00" stroke="#555" stroke-width="0.3"/><text x="481.60" y="640.20" font-family="Liberation Serif" font-size="3.5" text-anchor="start" fill="#222">0.0</text><line x1="480.00" y1="646.60" x2="481.20" y2="646.60" stroke="#555" stroke-width="0.3"/><text x="481.60" y="647.80" font-family="Liberation Serif" font-size="3.5" text-anchor="start" fill="#222">-1.1</text><rect x="580.10" y="631.80" width="26.05" height="6.57" fill="#a0a5fa"/><rect x="606.10" y="631.80" width="26.35" height="6.57" fill="#969bfa"/><rect x="632.40" y="631.80" width="25.75" height="6.57" fill="#f04448"/><text x="578.70" y="636.63" font-family="Liberation Serif" font-size="4.75" text-anchor="end" fill="#1a1a1a">Triethylamine</text><rect x="580.10" y="638.32" width="26.05" height="6.57" fill="#a0a5fa"/><rect x="606.10" y="638.32" width="26.35" height="6.57" fill="#9ba0fa"/><rect x="632.40" y="638.32" width="25.75" height="6.57" fill="#f04448"/><text x="578.70" y="643.15" font-family="Liberation Serif" font-size="4.75" text-anchor="end" fill="#1a1a1a">Dimethyldisulfide</text><rect x="580.10" y="644.84" width="26.05" height="6.57" fill="#f04448"/><rect x="606.10" y="644.84" width="26.35" height="6.57" fill="#c3c8fa"/><rect x="632.40" y="644.84" width="25.75" height="6.57" fill="#878cfa"/><text x="578.70" y="649.67" font-family="Liberation Serif" font-size="4.75" text-anchor="end" fill="#1a1a1a">Dipropyldisulphide</text><rect x="580.10" y="651.37" width="26.05" height="6.57" fill="#a0a5fa"/><rect x="606.10" y="651.37" width="26.35" height="6.57" fill="#8c91fa"/><rect x="632.40" y="651.37" width="25.75" height="6.57" fill="#f04448"/><text x="578.70" y="656.20" font-family="Liberation Serif" font-size="4.75" text-anchor="end" fill="#1a1a1a">2-Butylfuran</text><rect x="580.10" y="657.89" width="26.05" height="6.57" fill="#f04448"/><rect x="606.10" y="657.89" width="26.35" height="6.57" fill="#afb4fa"/><rect x="632.40" y="657.89" width="25.75" height="6.57" fill="#9ba0fa"/><text x="578.70" y="662.72" font-family="Liberation Serif" font-size="4.75" text-anchor="end" fill="#1a1a1a">2-Pentylfuran</text><rect x="580.10" y="664.41" width="26.05" height="6.57" fill="#f04448"/><rect x="606.10" y="664.41" width="26.35" height="6.57" fill="#969bfa"/><rect x="632.40" y="664.41" width="25.75" height="6.57" fill="#a5aafa"/><text x="578.70" y="669.24" font-family="Liberation Serif" font-size="4.75" text-anchor="end" fill="#1a1a1a">Rosenoxide</text><rect x="580.10" y="670.93" width="26.05" height="6.57" fill="#f04448"/><rect x="606.10" y="670.93" width="26.35" height="6.57" fill="#c3c8fa"/><rect x="632.40" y="670.93" width="25.75" height="6.57" fill="#878cfa"/><text x="578.70" y="675.76" font-family="Liberation Serif" font-size="4.75" text-anchor="end" fill="#1a1a1a">2-Acetylfuran</text><rect x="580.10" y="677.46" width="26.05" height="6.57" fill="#878cfa"/><rect x="606.10" y="677.46" width="26.35" height="6.57" fill="#f04448"/><rect x="632.40" y="677.46" width="25.75" height="6.57" fill="#b4b9fa"/><text x="578.70" y="682.28" font-family="Liberation Serif" font-size="4.75" text-anchor="end" fill="#1a1a1a">Ethylpyrazine</text><rect x="580.10" y="683.98" width="26.05" height="6.57" fill="#9ba0fa"/><rect x="606.10" y="683.98" width="26.35" height="6.57" fill="#f04448"/><rect x="632.40" y="683.98" width="25.75" height="6.57" fill="#afb4fa"/><text x="578.70" y="688.81" font-family="Liberation Serif" font-size="4.75" text-anchor="end" fill="#1a1a1a">Pyrazine,2-methyl-3-(methylthio)</text><line x1="580.10" y1="638.32" x2="658.10" y2="638.32" stroke="#ffffff" stroke-opacity="0.18" stroke-width="0.4"/><line x1="580.10" y1="644.84" x2="658.10" y2="644.84" stroke="#ffffff" stroke-opacity="0.18" stroke-width="0.4"/><line x1="580.10" y1="651.37" x2="658.10" y2="651.37" stroke="#ffffff" stroke-opacity="0.18" stroke-width="0.4"/><line x1="580.10" y1="657.89" x2="658.10" y2="657.89" stroke="#ffffff" stroke-opacity="0.18" stroke-width="0.4"/><line x1="580.10" y1="664.41" x2="658.10" y2="664.41" stroke="#ffffff" stroke-opacity="0.18" stroke-width="0.4"/><line x1="580.10" y1="670.93" x2="658.10" y2="670.93" stroke="#ffffff" stroke-opacity="0.18" stroke-width="0.4"/><line x1="580.10" y1="677.46" x2="658.10" y2="677.46" stroke="#ffffff" stroke-opacity="0.18" stroke-width="0.4"/><line x1="580.10" y1="683.98" x2="658.10" y2="683.98" stroke="#ffffff" stroke-opacity="0.18" stroke-width="0.4"/><text x="619.70" y="628.60" font-family="Liberation Serif" font-size="5.42" font-weight="bold" text-anchor="middle" fill="#000">Pyrazines, furans and others</text><text x="593.10" y="695.60" font-family="Liberation Serif" font-size="4.6" font-weight="bold" text-anchor="middle" fill="#000">Control</text><text x="619.25" y="695.60" font-family="Liberation Serif" font-size="4.6" font-weight="bold" text-anchor="middle" fill="#000">FH</text><text x="645.25" y="695.60" font-family="Liberation Serif" font-size="4.6" font-weight="bold" text-anchor="middle" fill="#000">FS</text><rect x="663.70" y="631.80" width="10.30" height="23.20" fill="url(#zbar)"/><text x="663.20" y="629.80" font-family="Liberation Serif" font-size="3.4" text-anchor="start" fill="#222" font-style="italic">Z-score</text><line x1="674.00" y1="631.80" x2="675.20" y2="631.80" stroke="#555" stroke-width="0.3"/><text x="675.60" y="633.00" font-family="Liberation Serif" font-size="3.5" text-anchor="start" fill="#222">1.5</text><line x1="674.00" y1="636.44" x2="675.20" y2="636.44" stroke="#555" stroke-width="0.3"/><text x="675.60" y="637.64" font-family="Liberation Serif" font-size="3.5" text-anchor="start" fill="#222">0.9</text><line x1="674.00" y1="641.08" x2="675.20" y2="641.08" stroke="#555" stroke-width="0.3"/><text x="675.60" y="642.28" font-family="Liberation Serif" font-size="3.5" text-anchor="start" fill="#222">0.3</text><line x1="674.00" y1="645.72" x2="675.20" y2="645.72" stroke="#555" stroke-width="0.3"/><text x="675.60" y="646.92" font-family="Liberation Serif" font-size="3.5" text-anchor="start" fill="#222">-0.3</text><line x1="674.00" y1="650.36" x2="675.20" y2="650.36" stroke="#555" stroke-width="0.3"/><text x="675.60" y="651.56" font-family="Liberation Serif" font-size="3.5" text-anchor="start" fill="#222">-0.9</text><line x1="674.00" y1="655.00" x2="675.20" y2="655.00" stroke="#555" stroke-width="0.3"/><text x="675.60" y="656.20" font-family="Liberation Serif" font-size="3.5" text-anchor="start" fill="#222">-1.5</text><polyline points="550.4,635.4 533.1,635.4 533.1,647.3 541,647.3" stroke="#333" stroke-width="0.45" fill="none"/><polyline points="552.7,655.2 548.4,655.2 548.4,674.6 552.7,674.6" stroke="#333" stroke-width="0.45" fill="none"/><polyline points="550.4,680.3 510.5,680.3 510.5,687.3 514,687.3" stroke="#333" stroke-width="0.45" fill="none"/><text x="531.80" y="642.90" font-family="Liberation Serif" font-size="5.2" text-anchor="end" fill="#111">Others</text><text x="546.70" y="666.30" font-family="Liberation Serif" font-size="5.2" text-anchor="end" fill="#111">Furans</text><text x="508.80" y="686.80" font-family="Liberation Serif" font-size="5.2" text-anchor="end" fill="#111">Pyrazines</text><rect x="32.5" y="740.5" width="163.3" height="103" fill="#fff" stroke="#c8c8c8" stroke-width="0.6"/><rect x="34" y="742.6" width="1.3" height="1.3" fill="#000"/><text x="35.60" y="743.90" font-family="Liberation Sans" font-size="2.2" text-anchor="start" fill="#333">control</text><rect x="43.3" y="742.6" width="1.3" height="1.3" fill="#c02020"/><text x="44.90" y="743.90" font-family="Liberation Sans" font-size="2.2" text-anchor="start" fill="#333">FH</text><rect x="47.8" y="742.6" width="1.3" height="1.3" fill="#30a0e0"/><text x="49.40" y="743.90" font-family="Liberation Sans" font-size="2.2" text-anchor="start" fill="#333">FS</text><rect x="53.1" y="757.4" width="122.1" height="68.7" fill="none" stroke="#333" stroke-width="0.6"/><text x="114.60" y="755.60" font-family="Liberation Sans" font-size="2.7" text-anchor="middle" fill="#333">Principal Components</text><text x="51.80" y="761.40" font-family="Liberation Sans" font-size="2.4" text-anchor="end" fill="#444">1000.0</text><line x1="53.1" y1="760.6" x2="54.6" y2="760.6" stroke="#333" stroke-width="0.35"/><text x="51.80" y="792.40" font-family="Liberation Sans" font-size="2.4" text-anchor="end" fill="#444">0.0</text><line x1="53.1" y1="791.6" x2="54.6" y2="791.6" stroke="#333" stroke-width="0.35"/><text x="51.80" y="823.40" font-family="Liberation Sans" font-size="2.4" text-anchor="end" fill="#444">-1000.0</text><line x1="53.1" y1="822.6" x2="54.6" y2="822.6" stroke="#333" stroke-width="0.35"/><line x1="53.1" y1="776.1" x2="54.0" y2="776.1" stroke="#333" stroke-width="0.3"/><line x1="53.1" y1="807.1" x2="54.0" y2="807.1" stroke="#333" stroke-width="0.3"/><text x="59.50" y="829.80" font-family="Liberation Sans" font-size="2.4" text-anchor="middle" fill="#444">-1000.0</text><line x1="59.5" y1="826.1" x2="59.5" y2="824.6" stroke="#333" stroke-width="0.35"/><line x1="59.5" y1="757.4" x2="59.5" y2="758.9" stroke="#333" stroke-width="0.35"/><text x="114.40" y="829.80" font-family="Liberation Sans" font-size="2.4" text-anchor="middle" fill="#444">0.0</text><line x1="114.4" y1="826.1" x2="114.4" y2="824.6" stroke="#333" stroke-width="0.35"/><line x1="114.4" y1="757.4" x2="114.4" y2="758.9" stroke="#333" stroke-width="0.35"/><text x="169.50" y="829.80" font-family="Liberation Sans" font-size="2.4" text-anchor="middle" fill="#444">1000.0</text><line x1="169.5" y1="826.1" x2="169.5" y2="824.6" stroke="#333" stroke-width="0.35"/><line x1="169.5" y1="757.4" x2="169.5" y2="758.9" stroke="#333" stroke-width="0.35"/><line x1="87" y1="826.1" x2="87" y2="825.2" stroke="#333" stroke-width="0.3"/><line x1="142" y1="826.1" x2="142" y2="825.2" stroke="#333" stroke-width="0.3"/><text x="114.40" y="840.80" font-family="Liberation Sans" font-size="2.6" text-anchor="middle" fill="#444">PC_1 (62%)</text><text transform="translate(35.6,796) rotate(-90)" font-family="Liberation Sans" font-size="2.6" fill="#444">PC_2 (30%)</text><rect x="58.50" y="799.20" width="2.6" height="2.2" fill="#000"/><rect x="61.00" y="798.70" width="2.6" height="2.2" fill="#000"/><rect x="67.90" y="797.20" width="2.6" height="2.2" fill="#000"/><rect x="121.30" y="768.60" width="2.6" height="2.4" fill="#8a1616"/><rect x="123.50" y="767.60" width="2.6" height="2.4" fill="#8a1616"/><rect x="151.20" y="804.10" width="2.4" height="2.4" fill="#3e9cc8" stroke="#205070" stroke-width="0.3"/><rect x="154.10" y="806.60" width="2.4" height="2.4" fill="#3e9cc8" stroke="#205070" stroke-width="0.3"/><line x1="112.9" y1="791.6" x2="115.9" y2="791.6" stroke="#6060ff" stroke-width="0.6"/><line x1="114.4" y1="789.6" x2="114.4" y2="793.6" stroke="#6060ff" stroke-width="0.6"/><rect x="667.2" y="470" width="7.6" height="7.4" rx="1" fill="#5a72d0"/><rect x="668.30" y="471.10" width="1.3" height="1.2" fill="#fff"/><rect x="668.30" y="473.10" width="1.3" height="1.2" fill="#fff"/><rect x="668.30" y="475.10" width="1.3" height="1.2" fill="#fff"/><rect x="670.50" y="471.10" width="1.3" height="1.2" fill="#fff"/><rect x="670.50" y="473.10" width="1.3" height="1.2" fill="#fff"/><rect x="670.50" y="475.10" width="1.3" height="1.2" fill="#fff"/><rect x="672.70" y="471.10" width="1.3" height="1.2" fill="#fff"/><rect x="672.70" y="473.10" width="1.3" height="1.2" fill="#fff"/><rect x="672.70" y="475.10" width="1.3" height="1.2" fill="#fff"/><rect x="667.4" y="477.6" width="7.2" height="0.8" fill="#9a9aa8"/></svg></body></html>
